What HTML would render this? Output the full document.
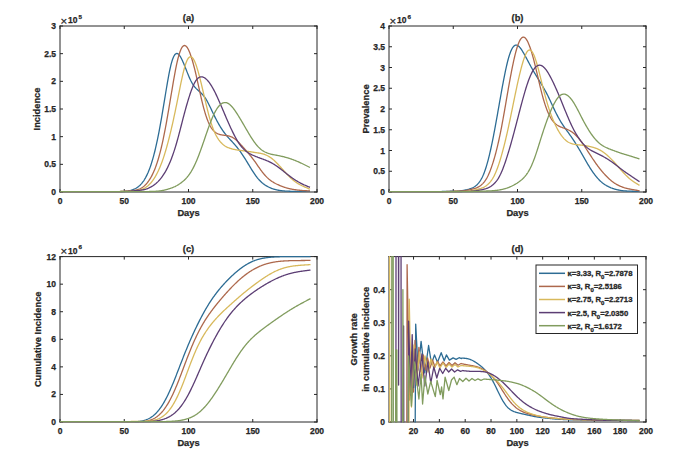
<!DOCTYPE html>
<html><head><meta charset="utf-8"><style>
html,body{margin:0;padding:0;background:#fff;}
svg{display:block;}
.tk{font-family:"Liberation Sans", sans-serif;font-weight:bold;font-size:8.5px;fill:#262626;stroke:#262626;stroke-width:0.25px;}
.lb{font-family:"Liberation Sans", sans-serif;font-weight:bold;font-size:9.3px;fill:#262626;stroke:#262626;stroke-width:0.25px;}
</style></head><body>
<svg width="674" height="470" viewBox="0 0 674 470">
<rect width="674" height="470" fill="#fff"/>
<rect x="60" y="26" width="257" height="166" fill="#fff"/>
<path d="M60,192 L317,192 M60,192 L60,26 M60,26 L317,26 M317,26 L317,192" stroke="#262626" stroke-width="1" fill="none" stroke-linecap="square"/>
<path d="M60.00,192 v-3 M60.00,26 v3 M124.25,192 v-3 M124.25,26 v3 M188.50,192 v-3 M188.50,26 v3 M252.75,192 v-3 M252.75,26 v3 M317.00,192 v-3 M317.00,26 v3 M60,192.00 h3 M317,192.00 h-3 M60,164.33 h3 M317,164.33 h-3 M60,136.67 h3 M317,136.67 h-3 M60,109.00 h3 M317,109.00 h-3 M60,81.33 h3 M317,81.33 h-3 M60,53.67 h3 M317,53.67 h-3 M60,26.00 h3 M317,26.00 h-3" stroke="#262626" stroke-width="1" fill="none"/>
<svg x="59.5" y="25.5" width="258" height="167" viewBox="59.5 25.5 258 167" overflow="hidden"><path d="M60.00,191.60 L60.50,191.60 L61.00,191.60 L61.50,191.60 L62.00,191.60 L62.50,191.60 L63.00,191.60 L63.50,191.60 L64.00,191.60 L64.50,191.60 L65.00,191.60 L65.50,191.60 L66.00,191.60 L66.50,191.60 L67.00,191.60 L67.50,191.60 L68.00,191.60 L68.50,191.60 L69.00,191.60 L69.50,191.60 L70.00,191.60 L70.50,191.60 L71.00,191.60 L71.50,191.60 L72.00,191.60 L72.50,191.60 L73.00,191.60 L73.50,191.60 L74.00,191.60 L74.50,191.60 L75.00,191.60 L75.50,191.60 L76.00,191.60 L76.50,191.60 L77.00,191.60 L77.50,191.60 L78.00,191.60 L78.50,191.60 L79.00,191.60 L79.50,191.60 L80.00,191.60 L80.50,191.60 L81.00,191.60 L81.50,191.60 L82.00,191.60 L82.50,191.60 L83.00,191.60 L83.50,191.60 L84.00,191.60 L84.50,191.60 L85.00,191.60 L85.50,191.60 L86.00,191.60 L86.50,191.60 L87.00,191.60 L87.50,191.60 L88.00,191.60 L88.50,191.60 L89.00,191.60 L89.50,191.60 L90.00,191.60 L90.50,191.60 L91.00,191.60 L91.50,191.60 L92.00,191.60 L92.50,191.60 L93.00,191.60 L93.50,191.60 L94.00,191.60 L94.50,191.60 L95.00,191.60 L95.50,191.60 L96.00,191.60 L96.50,191.60 L97.00,191.60 L97.50,191.60 L98.00,191.60 L98.50,191.60 L99.00,191.60 L99.50,191.60 L100.00,191.60 L100.50,191.60 L101.00,191.60 L101.50,191.60 L102.00,191.60 L102.50,191.60 L103.00,191.60 L103.50,191.60 L104.00,191.60 L104.50,191.60 L105.00,191.60 L105.50,191.60 L106.00,191.60 L106.50,191.60 L107.00,191.60 L107.50,191.60 L108.00,191.59 L108.50,191.59 L109.00,191.59 L109.50,191.59 L110.00,191.59 L110.50,191.59 L111.00,191.58 L111.50,191.58 L112.00,191.58 L112.50,191.58 L113.00,191.57 L113.50,191.57 L114.00,191.57 L114.50,191.57 L115.00,191.57 L115.50,191.56 L116.00,191.56 L116.50,191.56 L117.00,191.56 L117.50,191.55 L118.00,191.55 L118.50,191.55 L119.00,191.54 L119.50,191.54 L120.00,191.53 L120.50,191.52 L121.00,191.51 L121.50,191.50 L122.00,191.48 L122.50,191.46 L123.00,191.44 L123.50,191.42 L124.00,191.39 L124.50,191.35 L125.00,191.31 L125.50,191.27 L126.00,191.21 L126.50,191.15 L127.00,191.09 L127.50,191.02 L128.00,190.93 L128.50,190.84 L129.00,190.75 L129.50,190.64 L130.00,190.52 L130.50,190.40 L131.00,190.26 L131.50,190.12 L132.00,189.96 L132.50,189.79 L133.00,189.61 L133.50,189.42 L134.00,189.21 L134.50,188.99 L135.00,188.75 L135.50,188.50 L136.00,188.22 L136.50,187.92 L137.00,187.60 L137.50,187.26 L138.00,186.89 L138.50,186.50 L139.00,186.08 L139.50,185.64 L140.00,185.17 L140.50,184.67 L141.00,184.15 L141.50,183.60 L142.00,183.01 L142.50,182.39 L143.00,181.73 L143.50,181.03 L144.00,180.29 L144.50,179.51 L145.00,178.68 L145.50,177.81 L146.00,176.89 L146.50,175.92 L147.00,174.90 L147.50,173.82 L148.00,172.70 L148.50,171.51 L149.00,170.27 L149.50,168.98 L150.00,167.62 L150.50,166.20 L151.00,164.72 L151.50,163.17 L152.00,161.56 L152.50,159.89 L153.00,158.14 L153.50,156.33 L154.00,154.45 L154.50,152.49 L155.00,150.47 L155.50,148.38 L156.00,146.22 L156.50,143.98 L157.00,141.67 L157.50,139.30 L158.00,136.85 L158.50,134.34 L159.00,131.76 L159.50,129.13 L160.00,126.43 L160.50,123.68 L161.00,120.87 L161.50,118.02 L162.00,115.11 L162.50,112.17 L163.00,109.19 L163.50,106.18 L164.00,103.15 L164.50,100.10 L165.00,97.06 L165.50,94.01 L166.00,90.99 L166.50,87.99 L167.00,85.03 L167.50,82.12 L168.00,79.29 L168.50,76.55 L169.00,73.90 L169.50,71.38 L170.00,69.00 L170.50,66.78 L171.00,64.71 L171.50,62.81 L172.00,61.09 L172.50,59.55 L173.00,58.19 L173.50,57.00 L174.00,56.00 L174.50,55.17 L175.00,54.51 L175.50,54.02 L176.00,53.68 L176.50,53.51 L177.00,53.48 L177.50,53.60 L178.00,53.84 L178.50,54.22 L179.00,54.72 L179.50,55.32 L180.00,56.03 L180.50,56.84 L181.00,57.72 L181.50,58.68 L182.00,59.71 L182.50,60.79 L183.00,61.93 L183.50,63.10 L184.00,64.31 L184.50,65.54 L185.00,66.80 L185.50,68.06 L186.00,69.33 L186.50,70.60 L187.00,71.87 L187.50,73.12 L188.00,74.35 L188.50,75.56 L189.00,76.73 L189.50,77.87 L190.00,78.97 L190.50,80.02 L191.00,81.03 L191.50,81.98 L192.00,82.89 L192.50,83.75 L193.00,84.54 L193.50,85.28 L194.00,85.98 L194.50,86.63 L195.00,87.23 L195.50,87.80 L196.00,88.34 L196.50,88.86 L197.00,89.34 L197.50,89.81 L198.00,90.27 L198.50,90.71 L199.00,91.16 L199.50,91.60 L200.00,92.05 L200.50,92.51 L201.00,92.98 L201.50,93.47 L202.00,93.99 L202.50,94.53 L203.00,95.10 L203.50,95.70 L204.00,96.33 L204.50,96.99 L205.00,97.69 L205.50,98.43 L206.00,99.21 L206.50,100.02 L207.00,100.88 L207.50,101.78 L208.00,102.71 L208.50,103.68 L209.00,104.67 L209.50,105.69 L210.00,106.72 L210.50,107.76 L211.00,108.81 L211.50,109.86 L212.00,110.91 L212.50,111.96 L213.00,113.00 L213.50,114.04 L214.00,115.07 L214.50,116.09 L215.00,117.10 L215.50,118.09 L216.00,119.06 L216.50,120.02 L217.00,120.97 L217.50,121.89 L218.00,122.80 L218.50,123.69 L219.00,124.56 L219.50,125.41 L220.00,126.24 L220.50,127.06 L221.00,127.85 L221.50,128.63 L222.00,129.38 L222.50,130.13 L223.00,130.85 L223.50,131.56 L224.00,132.25 L224.50,132.92 L225.00,133.58 L225.50,134.22 L226.00,134.85 L226.50,135.47 L227.00,136.07 L227.50,136.66 L228.00,137.24 L228.50,137.81 L229.00,138.37 L229.50,138.91 L230.00,139.45 L230.50,139.98 L231.00,140.51 L231.50,141.04 L232.00,141.57 L232.50,142.11 L233.00,142.65 L233.50,143.20 L234.00,143.76 L234.50,144.32 L235.00,144.89 L235.50,145.47 L236.00,146.06 L236.50,146.67 L237.00,147.28 L237.50,147.90 L238.00,148.54 L238.50,149.18 L239.00,149.84 L239.50,150.52 L240.00,151.20 L240.50,151.90 L241.00,152.61 L241.50,153.33 L242.00,154.06 L242.50,154.80 L243.00,155.56 L243.50,156.32 L244.00,157.09 L244.50,157.87 L245.00,158.66 L245.50,159.46 L246.00,160.26 L246.50,161.07 L247.00,161.89 L247.50,162.71 L248.00,163.54 L248.50,164.37 L249.00,165.19 L249.50,166.02 L250.00,166.85 L250.50,167.67 L251.00,168.49 L251.50,169.30 L252.00,170.10 L252.50,170.89 L253.00,171.67 L253.50,172.44 L254.00,173.19 L254.50,173.93 L255.00,174.65 L255.50,175.36 L256.00,176.04 L256.50,176.70 L257.00,177.35 L257.50,177.97 L258.00,178.57 L258.50,179.14 L259.00,179.70 L259.50,180.24 L260.00,180.76 L260.50,181.26 L261.00,181.74 L261.50,182.20 L262.00,182.65 L262.50,183.07 L263.00,183.48 L263.50,183.87 L264.00,184.24 L264.50,184.60 L265.00,184.94 L265.50,185.27 L266.00,185.58 L266.50,185.89 L267.00,186.18 L267.50,186.46 L268.00,186.73 L268.50,186.99 L269.00,187.24 L269.50,187.48 L270.00,187.71 L270.50,187.93 L271.00,188.13 L271.50,188.33 L272.00,188.52 L272.50,188.70 L273.00,188.86 L273.50,189.02 L274.00,189.17 L274.50,189.32 L275.00,189.45 L275.50,189.58 L276.00,189.70 L276.50,189.82 L277.00,189.93 L277.50,190.04 L278.00,190.14 L278.50,190.24 L279.00,190.33 L279.50,190.42 L280.00,190.50 L280.50,190.57 L281.00,190.65 L281.50,190.71 L282.00,190.77 L282.50,190.83 L283.00,190.88 L283.50,190.93 L284.00,190.97 L284.50,191.01 L285.00,191.04 L285.50,191.08 L286.00,191.10 L286.50,191.13 L287.00,191.15 L287.50,191.18 L288.00,191.20 L288.50,191.22 L289.00,191.23 L289.50,191.25 L290.00,191.27 L290.50,191.28 L291.00,191.30 L291.50,191.31 L292.00,191.32 L292.50,191.33 L293.00,191.34 L293.50,191.35 L294.00,191.36 L294.50,191.37 L295.00,191.38 L295.50,191.38 L296.00,191.39 L296.50,191.39 L297.00,191.40 L297.50,191.40 L298.00,191.40 L298.50,191.40 L299.00,191.41 L299.50,191.41 L300.00,191.41 L300.50,191.41 L301.00,191.41 L301.50,191.41 L302.00,191.41 L302.50,191.41 L303.00,191.41 L303.50,191.41 L304.00,191.41 L304.50,191.41 L305.00,191.41 L305.50,191.40 L306.00,191.40 L306.50,191.40 L307.00,191.40 L307.50,191.40 L308.00,191.40 L308.50,191.40 L309.00,191.40 L309.50,191.40 L310.00,191.40" fill="none" stroke="#2d6c94" stroke-width="1.3" stroke-linejoin="round"/>
<path d="M60.00,191.60 L60.50,191.60 L61.00,191.60 L61.50,191.60 L62.00,191.60 L62.50,191.60 L63.00,191.60 L63.50,191.60 L64.00,191.60 L64.50,191.60 L65.00,191.60 L65.50,191.60 L66.00,191.60 L66.50,191.60 L67.00,191.60 L67.50,191.60 L68.00,191.60 L68.50,191.60 L69.00,191.60 L69.50,191.60 L70.00,191.60 L70.50,191.60 L71.00,191.60 L71.50,191.60 L72.00,191.60 L72.50,191.60 L73.00,191.60 L73.50,191.60 L74.00,191.60 L74.50,191.60 L75.00,191.60 L75.50,191.60 L76.00,191.60 L76.50,191.60 L77.00,191.60 L77.50,191.60 L78.00,191.60 L78.50,191.60 L79.00,191.60 L79.50,191.60 L80.00,191.60 L80.50,191.60 L81.00,191.60 L81.50,191.60 L82.00,191.60 L82.50,191.60 L83.00,191.60 L83.50,191.60 L84.00,191.60 L84.50,191.60 L85.00,191.60 L85.50,191.60 L86.00,191.60 L86.50,191.60 L87.00,191.60 L87.50,191.60 L88.00,191.60 L88.50,191.60 L89.00,191.60 L89.50,191.60 L90.00,191.60 L90.50,191.60 L91.00,191.60 L91.50,191.60 L92.00,191.60 L92.50,191.60 L93.00,191.60 L93.50,191.60 L94.00,191.60 L94.50,191.60 L95.00,191.60 L95.50,191.60 L96.00,191.60 L96.50,191.60 L97.00,191.60 L97.50,191.60 L98.00,191.60 L98.50,191.60 L99.00,191.60 L99.50,191.60 L100.00,191.60 L100.50,191.60 L101.00,191.60 L101.50,191.60 L102.00,191.60 L102.50,191.60 L103.00,191.60 L103.50,191.60 L104.00,191.60 L104.50,191.60 L105.00,191.60 L105.50,191.60 L106.00,191.60 L106.50,191.60 L107.00,191.60 L107.50,191.60 L108.00,191.60 L108.50,191.60 L109.00,191.60 L109.50,191.60 L110.00,191.60 L110.50,191.60 L111.00,191.60 L111.50,191.60 L112.00,191.60 L112.50,191.60 L113.00,191.60 L113.50,191.60 L114.00,191.60 L114.50,191.60 L115.00,191.60 L115.50,191.60 L116.00,191.60 L116.50,191.60 L117.00,191.60 L117.50,191.59 L118.00,191.59 L118.50,191.58 L119.00,191.57 L119.50,191.56 L120.00,191.55 L120.50,191.54 L121.00,191.52 L121.50,191.51 L122.00,191.49 L122.50,191.47 L123.00,191.44 L123.50,191.42 L124.00,191.39 L124.50,191.35 L125.00,191.32 L125.50,191.28 L126.00,191.24 L126.50,191.20 L127.00,191.16 L127.50,191.12 L128.00,191.07 L128.50,191.03 L129.00,190.98 L129.50,190.93 L130.00,190.89 L130.50,190.84 L131.00,190.78 L131.50,190.73 L132.00,190.68 L132.50,190.62 L133.00,190.56 L133.50,190.50 L134.00,190.43 L134.50,190.35 L135.00,190.27 L135.50,190.18 L136.00,190.08 L136.50,189.97 L137.00,189.85 L137.50,189.71 L138.00,189.56 L138.50,189.39 L139.00,189.21 L139.50,189.00 L140.00,188.77 L140.50,188.52 L141.00,188.24 L141.50,187.95 L142.00,187.63 L142.50,187.29 L143.00,186.93 L143.50,186.54 L144.00,186.13 L144.50,185.70 L145.00,185.24 L145.50,184.76 L146.00,184.25 L146.50,183.70 L147.00,183.13 L147.50,182.52 L148.00,181.87 L148.50,181.19 L149.00,180.48 L149.50,179.72 L150.00,178.93 L150.50,178.10 L151.00,177.23 L151.50,176.32 L152.00,175.37 L152.50,174.38 L153.00,173.34 L153.50,172.25 L154.00,171.11 L154.50,169.92 L155.00,168.67 L155.50,167.37 L156.00,166.00 L156.50,164.58 L157.00,163.10 L157.50,161.55 L158.00,159.94 L158.50,158.26 L159.00,156.52 L159.50,154.70 L160.00,152.82 L160.50,150.86 L161.00,148.84 L161.50,146.75 L162.00,144.58 L162.50,142.35 L163.00,140.05 L163.50,137.68 L164.00,135.24 L164.50,132.73 L165.00,130.15 L165.50,127.50 L166.00,124.79 L166.50,122.01 L167.00,119.19 L167.50,116.33 L168.00,113.43 L168.50,110.52 L169.00,107.58 L169.50,104.63 L170.00,101.66 L170.50,98.69 L171.00,95.71 L171.50,92.74 L172.00,89.77 L172.50,86.82 L173.00,83.88 L173.50,80.98 L174.00,78.12 L174.50,75.32 L175.00,72.59 L175.50,69.95 L176.00,67.41 L176.50,64.99 L177.00,62.69 L177.50,60.51 L178.00,58.46 L178.50,56.56 L179.00,54.80 L179.50,53.19 L180.00,51.73 L180.50,50.42 L181.00,49.26 L181.50,48.26 L182.00,47.42 L182.50,46.73 L183.00,46.19 L183.50,45.81 L184.00,45.58 L184.50,45.50 L185.00,45.57 L185.50,45.78 L186.00,46.13 L186.50,46.61 L187.00,47.23 L187.50,47.97 L188.00,48.82 L188.50,49.80 L189.00,50.88 L189.50,52.06 L190.00,53.33 L190.50,54.70 L191.00,56.15 L191.50,57.68 L192.00,59.29 L192.50,60.98 L193.00,62.74 L193.50,64.57 L194.00,66.47 L194.50,68.43 L195.00,70.45 L195.50,72.52 L196.00,74.65 L196.50,76.82 L197.00,79.03 L197.50,81.27 L198.00,83.54 L198.50,85.82 L199.00,88.11 L199.50,90.39 L200.00,92.65 L200.50,94.88 L201.00,97.08 L201.50,99.23 L202.00,101.33 L202.50,103.37 L203.00,105.36 L203.50,107.29 L204.00,109.14 L204.50,110.93 L205.00,112.64 L205.50,114.28 L206.00,115.85 L206.50,117.33 L207.00,118.75 L207.50,120.08 L208.00,121.34 L208.50,122.52 L209.00,123.63 L209.50,124.66 L210.00,125.62 L210.50,126.52 L211.00,127.35 L211.50,128.11 L212.00,128.82 L212.50,129.47 L213.00,130.08 L213.50,130.63 L214.00,131.13 L214.50,131.59 L215.00,132.01 L215.50,132.39 L216.00,132.73 L216.50,133.05 L217.00,133.33 L217.50,133.58 L218.00,133.81 L218.50,134.02 L219.00,134.20 L219.50,134.36 L220.00,134.51 L220.50,134.63 L221.00,134.75 L221.50,134.85 L222.00,134.94 L222.50,135.02 L223.00,135.10 L223.50,135.17 L224.00,135.24 L224.50,135.30 L225.00,135.37 L225.50,135.44 L226.00,135.51 L226.50,135.58 L227.00,135.67 L227.50,135.76 L228.00,135.86 L228.50,135.97 L229.00,136.09 L229.50,136.23 L230.00,136.38 L230.50,136.56 L231.00,136.75 L231.50,136.96 L232.00,137.19 L232.50,137.44 L233.00,137.72 L233.50,138.02 L234.00,138.35 L234.50,138.69 L235.00,139.06 L235.50,139.45 L236.00,139.87 L236.50,140.30 L237.00,140.76 L237.50,141.23 L238.00,141.72 L238.50,142.22 L239.00,142.74 L239.50,143.26 L240.00,143.79 L240.50,144.33 L241.00,144.88 L241.50,145.43 L242.00,145.98 L242.50,146.54 L243.00,147.10 L243.50,147.66 L244.00,148.23 L244.50,148.79 L245.00,149.36 L245.50,149.93 L246.00,150.51 L246.50,151.08 L247.00,151.66 L247.50,152.24 L248.00,152.83 L248.50,153.42 L249.00,154.01 L249.50,154.62 L250.00,155.22 L250.50,155.84 L251.00,156.46 L251.50,157.09 L252.00,157.73 L252.50,158.37 L253.00,159.03 L253.50,159.69 L254.00,160.37 L254.50,161.05 L255.00,161.74 L255.50,162.44 L256.00,163.15 L256.50,163.87 L257.00,164.59 L257.50,165.31 L258.00,166.03 L258.50,166.76 L259.00,167.48 L259.50,168.19 L260.00,168.90 L260.50,169.60 L261.00,170.29 L261.50,170.97 L262.00,171.63 L262.50,172.28 L263.00,172.91 L263.50,173.52 L264.00,174.12 L264.50,174.71 L265.00,175.28 L265.50,175.83 L266.00,176.36 L266.50,176.88 L267.00,177.38 L267.50,177.87 L268.00,178.33 L268.50,178.78 L269.00,179.21 L269.50,179.62 L270.00,180.02 L270.50,180.39 L271.00,180.76 L271.50,181.10 L272.00,181.44 L272.50,181.76 L273.00,182.07 L273.50,182.37 L274.00,182.66 L274.50,182.95 L275.00,183.22 L275.50,183.49 L276.00,183.74 L276.50,184.00 L277.00,184.24 L277.50,184.48 L278.00,184.71 L278.50,184.94 L279.00,185.16 L279.50,185.37 L280.00,185.58 L280.50,185.79 L281.00,185.99 L281.50,186.18 L282.00,186.37 L282.50,186.56 L283.00,186.74 L283.50,186.92 L284.00,187.10 L284.50,187.27 L285.00,187.43 L285.50,187.60 L286.00,187.75 L286.50,187.90 L287.00,188.05 L287.50,188.19 L288.00,188.32 L288.50,188.45 L289.00,188.58 L289.50,188.69 L290.00,188.80 L290.50,188.91 L291.00,189.01 L291.50,189.11 L292.00,189.20 L292.50,189.29 L293.00,189.37 L293.50,189.45 L294.00,189.53 L294.50,189.61 L295.00,189.69 L295.50,189.76 L296.00,189.83 L296.50,189.90 L297.00,189.96 L297.50,190.03 L298.00,190.09 L298.50,190.15 L299.00,190.20 L299.50,190.26 L300.00,190.31 L300.50,190.36 L301.00,190.41 L301.50,190.45 L302.00,190.49 L302.50,190.53 L303.00,190.57 L303.50,190.60 L304.00,190.63 L304.50,190.66 L305.00,190.69 L305.50,190.72 L306.00,190.74 L306.50,190.77 L307.00,190.79 L307.50,190.82 L308.00,190.84 L308.50,190.86 L309.00,190.89 L309.50,190.91 L310.00,190.93" fill="none" stroke="#ad684c" stroke-width="1.3" stroke-linejoin="round"/>
<path d="M60.00,191.60 L60.50,191.60 L61.00,191.60 L61.50,191.60 L62.00,191.60 L62.50,191.60 L63.00,191.60 L63.50,191.60 L64.00,191.60 L64.50,191.60 L65.00,191.60 L65.50,191.60 L66.00,191.60 L66.50,191.60 L67.00,191.60 L67.50,191.60 L68.00,191.60 L68.50,191.60 L69.00,191.60 L69.50,191.60 L70.00,191.60 L70.50,191.60 L71.00,191.60 L71.50,191.60 L72.00,191.60 L72.50,191.60 L73.00,191.60 L73.50,191.60 L74.00,191.60 L74.50,191.60 L75.00,191.60 L75.50,191.60 L76.00,191.60 L76.50,191.60 L77.00,191.60 L77.50,191.60 L78.00,191.60 L78.50,191.60 L79.00,191.60 L79.50,191.60 L80.00,191.60 L80.50,191.60 L81.00,191.60 L81.50,191.60 L82.00,191.60 L82.50,191.60 L83.00,191.60 L83.50,191.60 L84.00,191.60 L84.50,191.60 L85.00,191.60 L85.50,191.60 L86.00,191.60 L86.50,191.60 L87.00,191.60 L87.50,191.60 L88.00,191.60 L88.50,191.60 L89.00,191.60 L89.50,191.60 L90.00,191.60 L90.50,191.60 L91.00,191.60 L91.50,191.60 L92.00,191.60 L92.50,191.60 L93.00,191.60 L93.50,191.60 L94.00,191.60 L94.50,191.60 L95.00,191.60 L95.50,191.60 L96.00,191.60 L96.50,191.60 L97.00,191.60 L97.50,191.60 L98.00,191.60 L98.50,191.60 L99.00,191.60 L99.50,191.60 L100.00,191.60 L100.50,191.60 L101.00,191.60 L101.50,191.60 L102.00,191.60 L102.50,191.60 L103.00,191.60 L103.50,191.60 L104.00,191.60 L104.50,191.60 L105.00,191.60 L105.50,191.60 L106.00,191.60 L106.50,191.60 L107.00,191.60 L107.50,191.60 L108.00,191.60 L108.50,191.60 L109.00,191.60 L109.50,191.60 L110.00,191.60 L110.50,191.60 L111.00,191.60 L111.50,191.60 L112.00,191.60 L112.50,191.60 L113.00,191.60 L113.50,191.60 L114.00,191.60 L114.50,191.60 L115.00,191.60 L115.50,191.60 L116.00,191.60 L116.50,191.60 L117.00,191.59 L117.50,191.58 L118.00,191.57 L118.50,191.56 L119.00,191.55 L119.50,191.54 L120.00,191.52 L120.50,191.50 L121.00,191.48 L121.50,191.46 L122.00,191.44 L122.50,191.42 L123.00,191.39 L123.50,191.37 L124.00,191.34 L124.50,191.32 L125.00,191.29 L125.50,191.26 L126.00,191.23 L126.50,191.21 L127.00,191.18 L127.50,191.15 L128.00,191.13 L128.50,191.10 L129.00,191.08 L129.50,191.05 L130.00,191.03 L130.50,191.01 L131.00,190.98 L131.50,190.96 L132.00,190.94 L132.50,190.91 L133.00,190.89 L133.50,190.86 L134.00,190.83 L134.50,190.80 L135.00,190.76 L135.50,190.72 L136.00,190.68 L136.50,190.62 L137.00,190.57 L137.50,190.50 L138.00,190.42 L138.50,190.34 L139.00,190.24 L139.50,190.13 L140.00,190.00 L140.50,189.86 L141.00,189.71 L141.50,189.53 L142.00,189.34 L142.50,189.13 L143.00,188.91 L143.50,188.67 L144.00,188.41 L144.50,188.14 L145.00,187.85 L145.50,187.54 L146.00,187.21 L146.50,186.87 L147.00,186.50 L147.50,186.12 L148.00,185.71 L148.50,185.28 L149.00,184.82 L149.50,184.34 L150.00,183.83 L150.50,183.29 L151.00,182.72 L151.50,182.11 L152.00,181.48 L152.50,180.82 L153.00,180.12 L153.50,179.40 L154.00,178.65 L154.50,177.86 L155.00,177.05 L155.50,176.21 L156.00,175.34 L156.50,174.43 L157.00,173.49 L157.50,172.51 L158.00,171.49 L158.50,170.44 L159.00,169.35 L159.50,168.21 L160.00,167.04 L160.50,165.82 L161.00,164.56 L161.50,163.26 L162.00,161.92 L162.50,160.53 L163.00,159.10 L163.50,157.62 L164.00,156.09 L164.50,154.52 L165.00,152.91 L165.50,151.25 L166.00,149.55 L166.50,147.81 L167.00,146.02 L167.50,144.20 L168.00,142.33 L168.50,140.42 L169.00,138.47 L169.50,136.49 L170.00,134.46 L170.50,132.40 L171.00,130.30 L171.50,128.17 L172.00,126.00 L172.50,123.79 L173.00,121.55 L173.50,119.28 L174.00,116.98 L174.50,114.64 L175.00,112.28 L175.50,109.89 L176.00,107.48 L176.50,105.04 L177.00,102.58 L177.50,100.10 L178.00,97.61 L178.50,95.11 L179.00,92.61 L179.50,90.11 L180.00,87.63 L180.50,85.17 L181.00,82.74 L181.50,80.36 L182.00,78.04 L182.50,75.79 L183.00,73.63 L183.50,71.56 L184.00,69.59 L184.50,67.75 L185.00,66.03 L185.50,64.44 L186.00,63.00 L186.50,61.70 L187.00,60.55 L187.50,59.55 L188.00,58.70 L188.50,58.00 L189.00,57.46 L189.50,57.07 L190.00,56.83 L190.50,56.74 L191.00,56.79 L191.50,57.00 L192.00,57.35 L192.50,57.83 L193.00,58.46 L193.50,59.21 L194.00,60.10 L194.50,61.11 L195.00,62.24 L195.50,63.48 L196.00,64.83 L196.50,66.29 L197.00,67.83 L197.50,69.46 L198.00,71.16 L198.50,72.93 L199.00,74.77 L199.50,76.65 L200.00,78.59 L200.50,80.58 L201.00,82.60 L201.50,84.66 L202.00,86.74 L202.50,88.85 L203.00,90.98 L203.50,93.13 L204.00,95.28 L204.50,97.44 L205.00,99.59 L205.50,101.72 L206.00,103.83 L206.50,105.92 L207.00,107.97 L207.50,109.99 L208.00,111.95 L208.50,113.87 L209.00,115.74 L209.50,117.55 L210.00,119.30 L210.50,120.99 L211.00,122.61 L211.50,124.16 L212.00,125.65 L212.50,127.06 L213.00,128.41 L213.50,129.69 L214.00,130.90 L214.50,132.06 L215.00,133.16 L215.50,134.20 L216.00,135.18 L216.50,136.12 L217.00,137.00 L217.50,137.84 L218.00,138.63 L218.50,139.38 L219.00,140.09 L219.50,140.75 L220.00,141.38 L220.50,141.97 L221.00,142.53 L221.50,143.05 L222.00,143.55 L222.50,144.02 L223.00,144.46 L223.50,144.87 L224.00,145.26 L224.50,145.62 L225.00,145.96 L225.50,146.28 L226.00,146.57 L226.50,146.85 L227.00,147.10 L227.50,147.33 L228.00,147.55 L228.50,147.76 L229.00,147.95 L229.50,148.13 L230.00,148.30 L230.50,148.46 L231.00,148.61 L231.50,148.75 L232.00,148.88 L232.50,149.01 L233.00,149.14 L233.50,149.26 L234.00,149.37 L234.50,149.48 L235.00,149.58 L235.50,149.68 L236.00,149.77 L236.50,149.86 L237.00,149.95 L237.50,150.03 L238.00,150.10 L238.50,150.18 L239.00,150.25 L239.50,150.32 L240.00,150.38 L240.50,150.45 L241.00,150.51 L241.50,150.57 L242.00,150.64 L242.50,150.70 L243.00,150.76 L243.50,150.82 L244.00,150.88 L244.50,150.94 L245.00,151.00 L245.50,151.06 L246.00,151.13 L246.50,151.19 L247.00,151.26 L247.50,151.32 L248.00,151.39 L248.50,151.46 L249.00,151.53 L249.50,151.61 L250.00,151.68 L250.50,151.76 L251.00,151.84 L251.50,151.92 L252.00,152.00 L252.50,152.09 L253.00,152.17 L253.50,152.25 L254.00,152.33 L254.50,152.41 L255.00,152.49 L255.50,152.57 L256.00,152.64 L256.50,152.72 L257.00,152.79 L257.50,152.86 L258.00,152.93 L258.50,153.01 L259.00,153.09 L259.50,153.17 L260.00,153.25 L260.50,153.34 L261.00,153.44 L261.50,153.55 L262.00,153.66 L262.50,153.79 L263.00,153.93 L263.50,154.08 L264.00,154.24 L264.50,154.41 L265.00,154.60 L265.50,154.80 L266.00,155.02 L266.50,155.24 L267.00,155.48 L267.50,155.73 L268.00,156.00 L268.50,156.28 L269.00,156.57 L269.50,156.87 L270.00,157.19 L270.50,157.53 L271.00,157.88 L271.50,158.25 L272.00,158.63 L272.50,159.03 L273.00,159.45 L273.50,159.88 L274.00,160.32 L274.50,160.78 L275.00,161.25 L275.50,161.73 L276.00,162.22 L276.50,162.72 L277.00,163.22 L277.50,163.74 L278.00,164.27 L278.50,164.80 L279.00,165.34 L279.50,165.88 L280.00,166.43 L280.50,166.99 L281.00,167.55 L281.50,168.11 L282.00,168.67 L282.50,169.24 L283.00,169.80 L283.50,170.36 L284.00,170.93 L284.50,171.49 L285.00,172.04 L285.50,172.60 L286.00,173.15 L286.50,173.69 L287.00,174.22 L287.50,174.75 L288.00,175.27 L288.50,175.78 L289.00,176.29 L289.50,176.78 L290.00,177.26 L290.50,177.74 L291.00,178.20 L291.50,178.66 L292.00,179.11 L292.50,179.54 L293.00,179.97 L293.50,180.38 L294.00,180.79 L294.50,181.19 L295.00,181.57 L295.50,181.94 L296.00,182.30 L296.50,182.65 L297.00,182.99 L297.50,183.31 L298.00,183.62 L298.50,183.92 L299.00,184.20 L299.50,184.48 L300.00,184.75 L300.50,185.01 L301.00,185.26 L301.50,185.50 L302.00,185.74 L302.50,185.98 L303.00,186.20 L303.50,186.43 L304.00,186.65 L304.50,186.87 L305.00,187.09 L305.50,187.31 L306.00,187.52 L306.50,187.73 L307.00,187.95 L307.50,188.16 L308.00,188.37 L308.50,188.59 L309.00,188.80 L309.50,189.01 L310.00,189.22" fill="none" stroke="#d8b95c" stroke-width="1.3" stroke-linejoin="round"/>
<path d="M60.00,191.60 L60.50,191.60 L61.00,191.60 L61.50,191.60 L62.00,191.60 L62.50,191.60 L63.00,191.60 L63.50,191.60 L64.00,191.60 L64.50,191.60 L65.00,191.60 L65.50,191.60 L66.00,191.60 L66.50,191.60 L67.00,191.60 L67.50,191.60 L68.00,191.60 L68.50,191.60 L69.00,191.60 L69.50,191.60 L70.00,191.60 L70.50,191.60 L71.00,191.60 L71.50,191.60 L72.00,191.60 L72.50,191.60 L73.00,191.60 L73.50,191.60 L74.00,191.60 L74.50,191.60 L75.00,191.60 L75.50,191.60 L76.00,191.60 L76.50,191.60 L77.00,191.60 L77.50,191.60 L78.00,191.60 L78.50,191.60 L79.00,191.60 L79.50,191.60 L80.00,191.60 L80.50,191.60 L81.00,191.60 L81.50,191.60 L82.00,191.60 L82.50,191.60 L83.00,191.60 L83.50,191.60 L84.00,191.60 L84.50,191.60 L85.00,191.60 L85.50,191.60 L86.00,191.60 L86.50,191.60 L87.00,191.60 L87.50,191.60 L88.00,191.60 L88.50,191.60 L89.00,191.60 L89.50,191.60 L90.00,191.60 L90.50,191.60 L91.00,191.60 L91.50,191.60 L92.00,191.60 L92.50,191.60 L93.00,191.60 L93.50,191.60 L94.00,191.60 L94.50,191.60 L95.00,191.60 L95.50,191.60 L96.00,191.60 L96.50,191.60 L97.00,191.60 L97.50,191.60 L98.00,191.60 L98.50,191.60 L99.00,191.60 L99.50,191.60 L100.00,191.60 L100.50,191.60 L101.00,191.60 L101.50,191.60 L102.00,191.60 L102.50,191.60 L103.00,191.60 L103.50,191.60 L104.00,191.60 L104.50,191.60 L105.00,191.60 L105.50,191.60 L106.00,191.60 L106.50,191.60 L107.00,191.60 L107.50,191.60 L108.00,191.60 L108.50,191.60 L109.00,191.60 L109.50,191.60 L110.00,191.60 L110.50,191.60 L111.00,191.60 L111.50,191.60 L112.00,191.60 L112.50,191.60 L113.00,191.60 L113.50,191.60 L114.00,191.60 L114.50,191.60 L115.00,191.60 L115.50,191.60 L116.00,191.60 L116.50,191.60 L117.00,191.60 L117.50,191.60 L118.00,191.60 L118.50,191.60 L119.00,191.60 L119.50,191.60 L120.00,191.60 L120.50,191.60 L121.00,191.60 L121.50,191.60 L122.00,191.59 L122.50,191.58 L123.00,191.57 L123.50,191.55 L124.00,191.53 L124.50,191.51 L125.00,191.49 L125.50,191.46 L126.00,191.43 L126.50,191.40 L127.00,191.37 L127.50,191.33 L128.00,191.30 L128.50,191.26 L129.00,191.22 L129.50,191.17 L130.00,191.13 L130.50,191.09 L131.00,191.05 L131.50,191.00 L132.00,190.96 L132.50,190.91 L133.00,190.87 L133.50,190.83 L134.00,190.78 L134.50,190.74 L135.00,190.70 L135.50,190.65 L136.00,190.61 L136.50,190.57 L137.00,190.53 L137.50,190.49 L138.00,190.44 L138.50,190.40 L139.00,190.35 L139.50,190.30 L140.00,190.25 L140.50,190.20 L141.00,190.14 L141.50,190.08 L142.00,190.01 L142.50,189.94 L143.00,189.85 L143.50,189.76 L144.00,189.66 L144.50,189.55 L145.00,189.42 L145.50,189.29 L146.00,189.14 L146.50,188.98 L147.00,188.80 L147.50,188.60 L148.00,188.40 L148.50,188.18 L149.00,187.95 L149.50,187.70 L150.00,187.45 L150.50,187.18 L151.00,186.91 L151.50,186.62 L152.00,186.32 L152.50,186.01 L153.00,185.68 L153.50,185.35 L154.00,185.00 L154.50,184.64 L155.00,184.26 L155.50,183.87 L156.00,183.46 L156.50,183.03 L157.00,182.58 L157.50,182.11 L158.00,181.62 L158.50,181.10 L159.00,180.57 L159.50,180.01 L160.00,179.43 L160.50,178.82 L161.00,178.20 L161.50,177.55 L162.00,176.88 L162.50,176.19 L163.00,175.47 L163.50,174.73 L164.00,173.96 L164.50,173.16 L165.00,172.33 L165.50,171.46 L166.00,170.57 L166.50,169.64 L167.00,168.67 L167.50,167.68 L168.00,166.64 L168.50,165.58 L169.00,164.48 L169.50,163.34 L170.00,162.17 L170.50,160.96 L171.00,159.71 L171.50,158.42 L172.00,157.10 L172.50,155.73 L173.00,154.31 L173.50,152.86 L174.00,151.37 L174.50,149.83 L175.00,148.25 L175.50,146.63 L176.00,144.97 L176.50,143.26 L177.00,141.52 L177.50,139.73 L178.00,137.91 L178.50,136.06 L179.00,134.18 L179.50,132.28 L180.00,130.35 L180.50,128.42 L181.00,126.47 L181.50,124.52 L182.00,122.57 L182.50,120.62 L183.00,118.69 L183.50,116.78 L184.00,114.88 L184.50,113.01 L185.00,111.16 L185.50,109.34 L186.00,107.54 L186.50,105.77 L187.00,104.04 L187.50,102.33 L188.00,100.65 L188.50,99.01 L189.00,97.41 L189.50,95.84 L190.00,94.31 L190.50,92.82 L191.00,91.38 L191.50,89.99 L192.00,88.66 L192.50,87.38 L193.00,86.18 L193.50,85.04 L194.00,83.98 L194.50,82.99 L195.00,82.08 L195.50,81.24 L196.00,80.48 L196.50,79.80 L197.00,79.19 L197.50,78.66 L198.00,78.19 L198.50,77.80 L199.00,77.48 L199.50,77.22 L200.00,77.03 L200.50,76.90 L201.00,76.82 L201.50,76.81 L202.00,76.85 L202.50,76.94 L203.00,77.08 L203.50,77.27 L204.00,77.51 L204.50,77.80 L205.00,78.13 L205.50,78.50 L206.00,78.92 L206.50,79.38 L207.00,79.87 L207.50,80.40 L208.00,80.97 L208.50,81.58 L209.00,82.22 L209.50,82.89 L210.00,83.59 L210.50,84.33 L211.00,85.10 L211.50,85.89 L212.00,86.72 L212.50,87.58 L213.00,88.47 L213.50,89.39 L214.00,90.33 L214.50,91.30 L215.00,92.30 L215.50,93.31 L216.00,94.35 L216.50,95.40 L217.00,96.48 L217.50,97.57 L218.00,98.67 L218.50,99.78 L219.00,100.91 L219.50,102.04 L220.00,103.19 L220.50,104.34 L221.00,105.50 L221.50,106.66 L222.00,107.83 L222.50,109.00 L223.00,110.18 L223.50,111.35 L224.00,112.53 L224.50,113.71 L225.00,114.88 L225.50,116.06 L226.00,117.22 L226.50,118.39 L227.00,119.55 L227.50,120.70 L228.00,121.84 L228.50,122.97 L229.00,124.09 L229.50,125.21 L230.00,126.31 L230.50,127.40 L231.00,128.48 L231.50,129.54 L232.00,130.59 L232.50,131.62 L233.00,132.64 L233.50,133.64 L234.00,134.62 L234.50,135.59 L235.00,136.53 L235.50,137.46 L236.00,138.37 L236.50,139.26 L237.00,140.12 L237.50,140.96 L238.00,141.78 L238.50,142.57 L239.00,143.34 L239.50,144.07 L240.00,144.78 L240.50,145.46 L241.00,146.11 L241.50,146.73 L242.00,147.31 L242.50,147.88 L243.00,148.41 L243.50,148.92 L244.00,149.40 L244.50,149.87 L245.00,150.31 L245.50,150.73 L246.00,151.14 L246.50,151.52 L247.00,151.89 L247.50,152.24 L248.00,152.58 L248.50,152.90 L249.00,153.20 L249.50,153.50 L250.00,153.78 L250.50,154.05 L251.00,154.31 L251.50,154.56 L252.00,154.81 L252.50,155.04 L253.00,155.27 L253.50,155.50 L254.00,155.72 L254.50,155.93 L255.00,156.15 L255.50,156.35 L256.00,156.56 L256.50,156.76 L257.00,156.96 L257.50,157.15 L258.00,157.35 L258.50,157.53 L259.00,157.72 L259.50,157.91 L260.00,158.09 L260.50,158.28 L261.00,158.46 L261.50,158.64 L262.00,158.83 L262.50,159.01 L263.00,159.19 L263.50,159.38 L264.00,159.57 L264.50,159.76 L265.00,159.96 L265.50,160.16 L266.00,160.36 L266.50,160.56 L267.00,160.78 L267.50,160.99 L268.00,161.21 L268.50,161.44 L269.00,161.67 L269.50,161.91 L270.00,162.16 L270.50,162.40 L271.00,162.66 L271.50,162.92 L272.00,163.19 L272.50,163.46 L273.00,163.75 L273.50,164.03 L274.00,164.33 L274.50,164.64 L275.00,164.95 L275.50,165.27 L276.00,165.60 L276.50,165.94 L277.00,166.29 L277.50,166.64 L278.00,167.00 L278.50,167.37 L279.00,167.74 L279.50,168.12 L280.00,168.50 L280.50,168.88 L281.00,169.27 L281.50,169.66 L282.00,170.06 L282.50,170.45 L283.00,170.85 L283.50,171.25 L284.00,171.65 L284.50,172.05 L285.00,172.45 L285.50,172.85 L286.00,173.25 L286.50,173.64 L287.00,174.04 L287.50,174.43 L288.00,174.83 L288.50,175.22 L289.00,175.60 L289.50,175.99 L290.00,176.37 L290.50,176.74 L291.00,177.11 L291.50,177.48 L292.00,177.84 L292.50,178.20 L293.00,178.55 L293.50,178.89 L294.00,179.23 L294.50,179.56 L295.00,179.88 L295.50,180.20 L296.00,180.51 L296.50,180.81 L297.00,181.11 L297.50,181.41 L298.00,181.70 L298.50,181.98 L299.00,182.26 L299.50,182.54 L300.00,182.81 L300.50,183.07 L301.00,183.33 L301.50,183.58 L302.00,183.83 L302.50,184.08 L303.00,184.32 L303.50,184.55 L304.00,184.79 L304.50,185.01 L305.00,185.24 L305.50,185.46 L306.00,185.68 L306.50,185.89 L307.00,186.11 L307.50,186.32 L308.00,186.53 L308.50,186.75 L309.00,186.96 L309.50,187.17 L310.00,187.38" fill="none" stroke="#5c3e74" stroke-width="1.3" stroke-linejoin="round"/>
<path d="M60.00,191.60 L60.50,191.60 L61.00,191.60 L61.50,191.60 L62.00,191.60 L62.50,191.60 L63.00,191.60 L63.50,191.60 L64.00,191.60 L64.50,191.60 L65.00,191.60 L65.50,191.60 L66.00,191.60 L66.50,191.60 L67.00,191.60 L67.50,191.60 L68.00,191.60 L68.50,191.60 L69.00,191.60 L69.50,191.60 L70.00,191.60 L70.50,191.60 L71.00,191.60 L71.50,191.60 L72.00,191.60 L72.50,191.60 L73.00,191.60 L73.50,191.60 L74.00,191.60 L74.50,191.60 L75.00,191.60 L75.50,191.60 L76.00,191.60 L76.50,191.60 L77.00,191.60 L77.50,191.60 L78.00,191.60 L78.50,191.60 L79.00,191.60 L79.50,191.60 L80.00,191.60 L80.50,191.60 L81.00,191.60 L81.50,191.60 L82.00,191.60 L82.50,191.60 L83.00,191.60 L83.50,191.60 L84.00,191.60 L84.50,191.60 L85.00,191.60 L85.50,191.60 L86.00,191.60 L86.50,191.60 L87.00,191.60 L87.50,191.60 L88.00,191.60 L88.50,191.60 L89.00,191.60 L89.50,191.60 L90.00,191.60 L90.50,191.60 L91.00,191.60 L91.50,191.60 L92.00,191.60 L92.50,191.60 L93.00,191.60 L93.50,191.60 L94.00,191.60 L94.50,191.60 L95.00,191.60 L95.50,191.60 L96.00,191.60 L96.50,191.60 L97.00,191.60 L97.50,191.60 L98.00,191.60 L98.50,191.60 L99.00,191.60 L99.50,191.60 L100.00,191.60 L100.50,191.60 L101.00,191.60 L101.50,191.60 L102.00,191.60 L102.50,191.60 L103.00,191.60 L103.50,191.60 L104.00,191.60 L104.50,191.60 L105.00,191.60 L105.50,191.60 L106.00,191.60 L106.50,191.60 L107.00,191.60 L107.50,191.60 L108.00,191.60 L108.50,191.60 L109.00,191.60 L109.50,191.60 L110.00,191.60 L110.50,191.60 L111.00,191.60 L111.50,191.60 L112.00,191.60 L112.50,191.60 L113.00,191.60 L113.50,191.60 L114.00,191.60 L114.50,191.60 L115.00,191.60 L115.50,191.60 L116.00,191.60 L116.50,191.60 L117.00,191.60 L117.50,191.60 L118.00,191.60 L118.50,191.60 L119.00,191.60 L119.50,191.60 L120.00,191.60 L120.50,191.60 L121.00,191.60 L121.50,191.60 L122.00,191.60 L122.50,191.60 L123.00,191.60 L123.50,191.60 L124.00,191.60 L124.50,191.60 L125.00,191.60 L125.50,191.60 L126.00,191.60 L126.50,191.60 L127.00,191.60 L127.50,191.60 L128.00,191.60 L128.50,191.60 L129.00,191.60 L129.50,191.60 L130.00,191.60 L130.50,191.60 L131.00,191.60 L131.50,191.60 L132.00,191.60 L132.50,191.60 L133.00,191.60 L133.50,191.60 L134.00,191.60 L134.50,191.60 L135.00,191.60 L135.50,191.60 L136.00,191.60 L136.50,191.60 L137.00,191.60 L137.50,191.60 L138.00,191.60 L138.50,191.60 L139.00,191.60 L139.50,191.60 L140.00,191.60 L140.50,191.60 L141.00,191.60 L141.50,191.60 L142.00,191.60 L142.50,191.60 L143.00,191.60 L143.50,191.60 L144.00,191.60 L144.50,191.60 L145.00,191.60 L145.50,191.59 L146.00,191.59 L146.50,191.58 L147.00,191.57 L147.50,191.57 L148.00,191.56 L148.50,191.55 L149.00,191.53 L149.50,191.52 L150.00,191.51 L150.50,191.49 L151.00,191.48 L151.50,191.46 L152.00,191.44 L152.50,191.42 L153.00,191.40 L153.50,191.38 L154.00,191.36 L154.50,191.33 L155.00,191.31 L155.50,191.28 L156.00,191.25 L156.50,191.21 L157.00,191.18 L157.50,191.14 L158.00,191.10 L158.50,191.05 L159.00,191.00 L159.50,190.94 L160.00,190.88 L160.50,190.81 L161.00,190.74 L161.50,190.66 L162.00,190.57 L162.50,190.48 L163.00,190.38 L163.50,190.27 L164.00,190.16 L164.50,190.05 L165.00,189.92 L165.50,189.80 L166.00,189.67 L166.50,189.54 L167.00,189.40 L167.50,189.26 L168.00,189.12 L168.50,188.97 L169.00,188.82 L169.50,188.66 L170.00,188.50 L170.50,188.34 L171.00,188.17 L171.50,187.99 L172.00,187.81 L172.50,187.62 L173.00,187.43 L173.50,187.22 L174.00,187.01 L174.50,186.78 L175.00,186.55 L175.50,186.30 L176.00,186.04 L176.50,185.77 L177.00,185.49 L177.50,185.19 L178.00,184.89 L178.50,184.58 L179.00,184.25 L179.50,183.92 L180.00,183.58 L180.50,183.22 L181.00,182.86 L181.50,182.48 L182.00,182.09 L182.50,181.69 L183.00,181.28 L183.50,180.85 L184.00,180.41 L184.50,179.95 L185.00,179.47 L185.50,178.97 L186.00,178.45 L186.50,177.90 L187.00,177.33 L187.50,176.73 L188.00,176.11 L188.50,175.46 L189.00,174.78 L189.50,174.07 L190.00,173.34 L190.50,172.58 L191.00,171.80 L191.50,170.98 L192.00,170.13 L192.50,169.25 L193.00,168.34 L193.50,167.39 L194.00,166.41 L194.50,165.39 L195.00,164.33 L195.50,163.23 L196.00,162.10 L196.50,160.93 L197.00,159.73 L197.50,158.50 L198.00,157.24 L198.50,155.96 L199.00,154.65 L199.50,153.33 L200.00,151.98 L200.50,150.62 L201.00,149.24 L201.50,147.84 L202.00,146.43 L202.50,145.01 L203.00,143.58 L203.50,142.14 L204.00,140.69 L204.50,139.23 L205.00,137.77 L205.50,136.30 L206.00,134.83 L206.50,133.37 L207.00,131.92 L207.50,130.47 L208.00,129.05 L208.50,127.64 L209.00,126.26 L209.50,124.89 L210.00,123.56 L210.50,122.25 L211.00,120.98 L211.50,119.73 L212.00,118.52 L212.50,117.35 L213.00,116.22 L213.50,115.13 L214.00,114.08 L214.50,113.07 L215.00,112.10 L215.50,111.18 L216.00,110.30 L216.50,109.47 L217.00,108.68 L217.50,107.94 L218.00,107.25 L218.50,106.60 L219.00,106.00 L219.50,105.45 L220.00,104.95 L220.50,104.49 L221.00,104.09 L221.50,103.73 L222.00,103.41 L222.50,103.15 L223.00,102.93 L223.50,102.76 L224.00,102.64 L224.50,102.57 L225.00,102.54 L225.50,102.56 L226.00,102.62 L226.50,102.73 L227.00,102.89 L227.50,103.09 L228.00,103.33 L228.50,103.62 L229.00,103.95 L229.50,104.32 L230.00,104.73 L230.50,105.18 L231.00,105.67 L231.50,106.19 L232.00,106.74 L232.50,107.33 L233.00,107.95 L233.50,108.59 L234.00,109.25 L234.50,109.94 L235.00,110.65 L235.50,111.37 L236.00,112.11 L236.50,112.87 L237.00,113.64 L237.50,114.42 L238.00,115.22 L238.50,116.02 L239.00,116.83 L239.50,117.66 L240.00,118.48 L240.50,119.32 L241.00,120.16 L241.50,121.00 L242.00,121.85 L242.50,122.70 L243.00,123.55 L243.50,124.41 L244.00,125.27 L244.50,126.13 L245.00,126.99 L245.50,127.85 L246.00,128.72 L246.50,129.58 L247.00,130.44 L247.50,131.29 L248.00,132.14 L248.50,132.99 L249.00,133.82 L249.50,134.65 L250.00,135.47 L250.50,136.29 L251.00,137.09 L251.50,137.87 L252.00,138.65 L252.50,139.41 L253.00,140.16 L253.50,140.89 L254.00,141.60 L254.50,142.30 L255.00,142.98 L255.50,143.63 L256.00,144.27 L256.50,144.88 L257.00,145.47 L257.50,146.04 L258.00,146.58 L258.50,147.10 L259.00,147.60 L259.50,148.08 L260.00,148.54 L260.50,148.97 L261.00,149.39 L261.50,149.78 L262.00,150.16 L262.50,150.51 L263.00,150.84 L263.50,151.16 L264.00,151.45 L264.50,151.73 L265.00,151.99 L265.50,152.24 L266.00,152.47 L266.50,152.68 L267.00,152.89 L267.50,153.08 L268.00,153.26 L268.50,153.44 L269.00,153.60 L269.50,153.75 L270.00,153.89 L270.50,154.03 L271.00,154.15 L271.50,154.27 L272.00,154.39 L272.50,154.49 L273.00,154.60 L273.50,154.70 L274.00,154.79 L274.50,154.89 L275.00,154.98 L275.50,155.07 L276.00,155.16 L276.50,155.25 L277.00,155.34 L277.50,155.44 L278.00,155.53 L278.50,155.63 L279.00,155.73 L279.50,155.83 L280.00,155.94 L280.50,156.04 L281.00,156.15 L281.50,156.27 L282.00,156.38 L282.50,156.50 L283.00,156.62 L283.50,156.74 L284.00,156.87 L284.50,157.00 L285.00,157.13 L285.50,157.27 L286.00,157.40 L286.50,157.55 L287.00,157.69 L287.50,157.84 L288.00,157.99 L288.50,158.15 L289.00,158.30 L289.50,158.47 L290.00,158.63 L290.50,158.80 L291.00,158.97 L291.50,159.15 L292.00,159.33 L292.50,159.51 L293.00,159.69 L293.50,159.88 L294.00,160.07 L294.50,160.26 L295.00,160.46 L295.50,160.66 L296.00,160.86 L296.50,161.06 L297.00,161.27 L297.50,161.48 L298.00,161.69 L298.50,161.91 L299.00,162.13 L299.50,162.36 L300.00,162.58 L300.50,162.81 L301.00,163.05 L301.50,163.28 L302.00,163.52 L302.50,163.76 L303.00,164.00 L303.50,164.25 L304.00,164.49 L304.50,164.74 L305.00,164.98 L305.50,165.23 L306.00,165.48 L306.50,165.73 L307.00,165.98 L307.50,166.23 L308.00,166.48 L308.50,166.73 L309.00,166.98 L309.50,167.23 L310.00,167.48" fill="none" stroke="#819c5e" stroke-width="1.3" stroke-linejoin="round"/></svg>
<text x="56" y="195.05" text-anchor="end" class="tk">0</text>
<text x="56" y="167.38" text-anchor="end" class="tk">0.5</text>
<text x="56" y="139.72" text-anchor="end" class="tk">1</text>
<text x="56" y="112.05" text-anchor="end" class="tk">1.5</text>
<text x="56" y="84.38" text-anchor="end" class="tk">2</text>
<text x="56" y="56.72" text-anchor="end" class="tk">2.5</text>
<text x="56" y="29.05" text-anchor="end" class="tk">3</text>
<text x="60.00" y="204.0" text-anchor="middle" class="tk">0</text>
<text x="124.25" y="204.0" text-anchor="middle" class="tk">50</text>
<text x="188.50" y="204.0" text-anchor="middle" class="tk">100</text>
<text x="252.75" y="204.0" text-anchor="middle" class="tk">150</text>
<text x="317.00" y="204.0" text-anchor="middle" class="tk">200</text>
<text x="188.5" y="216.1" text-anchor="middle" class="lb">Days</text>
<text x="188.5" y="21.3" text-anchor="middle" class="lb">(a)</text>
<text transform="translate(39.5,109.0) rotate(-90)" text-anchor="middle" class="lb">Incidence</text>
<text x="60.6" y="24.5" class="tk" style="font-weight:normal;font-size:11.5px;stroke-width:0.25px">×</text>
<text x="68.0" y="23.4" class="tk">10</text>
<text x="78.4" y="18.7" class="tk" style="font-size:6.2px">5</text>
<rect x="389" y="26" width="257" height="166" fill="#fff"/>
<path d="M389,192 L646,192 M389,192 L389,26 M389,26 L646,26 M646,26 L646,192" stroke="#262626" stroke-width="1" fill="none" stroke-linecap="square"/>
<path d="M389.00,192 v-3 M389.00,26 v3 M453.25,192 v-3 M453.25,26 v3 M517.50,192 v-3 M517.50,26 v3 M581.75,192 v-3 M581.75,26 v3 M646.00,192 v-3 M646.00,26 v3 M389,192.00 h3 M646,192.00 h-3 M389,171.25 h3 M646,171.25 h-3 M389,150.50 h3 M646,150.50 h-3 M389,129.75 h3 M646,129.75 h-3 M389,109.00 h3 M646,109.00 h-3 M389,88.25 h3 M646,88.25 h-3 M389,67.50 h3 M646,67.50 h-3 M389,46.75 h3 M646,46.75 h-3 M389,26.00 h3 M646,26.00 h-3" stroke="#262626" stroke-width="1" fill="none"/>
<svg x="388.5" y="25.5" width="258" height="167" viewBox="388.5 25.5 258 167" overflow="hidden"><path d="M389.00,191.60 L389.50,191.60 L390.00,191.60 L390.50,191.60 L391.00,191.60 L391.50,191.60 L392.00,191.60 L392.50,191.60 L393.00,191.60 L393.50,191.60 L394.00,191.60 L394.50,191.60 L395.00,191.60 L395.50,191.60 L396.00,191.60 L396.50,191.60 L397.00,191.60 L397.50,191.60 L398.00,191.60 L398.50,191.60 L399.00,191.60 L399.50,191.60 L400.00,191.60 L400.50,191.60 L401.00,191.60 L401.50,191.60 L402.00,191.60 L402.50,191.60 L403.00,191.60 L403.50,191.60 L404.00,191.60 L404.50,191.60 L405.00,191.60 L405.50,191.60 L406.00,191.60 L406.50,191.60 L407.00,191.60 L407.50,191.60 L408.00,191.60 L408.50,191.60 L409.00,191.60 L409.50,191.60 L410.00,191.60 L410.50,191.60 L411.00,191.60 L411.50,191.60 L412.00,191.60 L412.50,191.60 L413.00,191.60 L413.50,191.60 L414.00,191.60 L414.50,191.60 L415.00,191.60 L415.50,191.60 L416.00,191.60 L416.50,191.60 L417.00,191.60 L417.50,191.60 L418.00,191.60 L418.50,191.60 L419.00,191.60 L419.50,191.60 L420.00,191.60 L420.50,191.60 L421.00,191.60 L421.50,191.60 L422.00,191.60 L422.50,191.60 L423.00,191.60 L423.50,191.60 L424.00,191.60 L424.50,191.60 L425.00,191.60 L425.50,191.60 L426.00,191.60 L426.50,191.60 L427.00,191.60 L427.50,191.60 L428.00,191.60 L428.50,191.60 L429.00,191.60 L429.50,191.60 L430.00,191.60 L430.50,191.60 L431.00,191.60 L431.50,191.60 L432.00,191.60 L432.50,191.60 L433.00,191.60 L433.50,191.60 L434.00,191.60 L434.50,191.60 L435.00,191.60 L435.50,191.60 L436.00,191.60 L436.50,191.60 L437.00,191.60 L437.50,191.59 L438.00,191.59 L438.50,191.58 L439.00,191.58 L439.50,191.57 L440.00,191.56 L440.50,191.55 L441.00,191.54 L441.50,191.53 L442.00,191.52 L442.50,191.50 L443.00,191.49 L443.50,191.47 L444.00,191.46 L444.50,191.44 L445.00,191.43 L445.50,191.41 L446.00,191.40 L446.50,191.38 L447.00,191.36 L447.50,191.35 L448.00,191.33 L448.50,191.32 L449.00,191.30 L449.50,191.29 L450.00,191.27 L450.50,191.26 L451.00,191.24 L451.50,191.23 L452.00,191.21 L452.50,191.20 L453.00,191.18 L453.50,191.17 L454.00,191.15 L454.50,191.14 L455.00,191.12 L455.50,191.10 L456.00,191.09 L456.50,191.06 L457.00,191.04 L457.50,191.02 L458.00,190.99 L458.50,190.96 L459.00,190.93 L459.50,190.89 L460.00,190.85 L460.50,190.80 L461.00,190.75 L461.50,190.69 L462.00,190.63 L462.50,190.56 L463.00,190.48 L463.50,190.40 L464.00,190.31 L464.50,190.21 L465.00,190.11 L465.50,190.01 L466.00,189.90 L466.50,189.78 L467.00,189.66 L467.50,189.54 L468.00,189.41 L468.50,189.27 L469.00,189.13 L469.50,188.97 L470.00,188.81 L470.50,188.64 L471.00,188.46 L471.50,188.26 L472.00,188.05 L472.50,187.83 L473.00,187.58 L473.50,187.31 L474.00,187.02 L474.50,186.71 L475.00,186.37 L475.50,186.00 L476.00,185.60 L476.50,185.16 L477.00,184.70 L477.50,184.20 L478.00,183.66 L478.50,183.09 L479.00,182.47 L479.50,181.81 L480.00,181.11 L480.50,180.34 L481.00,179.52 L481.50,178.64 L482.00,177.69 L482.50,176.67 L483.00,175.58 L483.50,174.42 L484.00,173.18 L484.50,171.86 L485.00,170.47 L485.50,169.01 L486.00,167.47 L486.50,165.86 L487.00,164.16 L487.50,162.40 L488.00,160.55 L488.50,158.63 L489.00,156.64 L489.50,154.58 L490.00,152.45 L490.50,150.26 L491.00,147.99 L491.50,145.67 L492.00,143.28 L492.50,140.84 L493.00,138.34 L493.50,135.79 L494.00,133.19 L494.50,130.54 L495.00,127.86 L495.50,125.14 L496.00,122.40 L496.50,119.62 L497.00,116.83 L497.50,114.02 L498.00,111.20 L498.50,108.37 L499.00,105.53 L499.50,102.70 L500.00,99.88 L500.50,97.06 L501.00,94.26 L501.50,91.47 L502.00,88.72 L502.50,85.99 L503.00,83.30 L503.50,80.65 L504.00,78.06 L504.50,75.52 L505.00,73.05 L505.50,70.65 L506.00,68.34 L506.50,66.11 L507.00,63.98 L507.50,61.94 L508.00,60.01 L508.50,58.20 L509.00,56.49 L509.50,54.90 L510.00,53.44 L510.50,52.09 L511.00,50.86 L511.50,49.76 L512.00,48.77 L512.50,47.91 L513.00,47.17 L513.50,46.55 L514.00,46.04 L514.50,45.64 L515.00,45.36 L515.50,45.18 L516.00,45.10 L516.50,45.12 L517.00,45.24 L517.50,45.44 L518.00,45.74 L518.50,46.10 L519.00,46.55 L519.50,47.06 L520.00,47.63 L520.50,48.26 L521.00,48.94 L521.50,49.66 L522.00,50.43 L522.50,51.23 L523.00,52.06 L523.50,52.91 L524.00,53.79 L524.50,54.68 L525.00,55.58 L525.50,56.50 L526.00,57.43 L526.50,58.36 L527.00,59.29 L527.50,60.23 L528.00,61.16 L528.50,62.09 L529.00,63.02 L529.50,63.94 L530.00,64.86 L530.50,65.78 L531.00,66.69 L531.50,67.59 L532.00,68.48 L532.50,69.37 L533.00,70.24 L533.50,71.11 L534.00,71.98 L534.50,72.83 L535.00,73.68 L535.50,74.52 L536.00,75.36 L536.50,76.18 L537.00,77.01 L537.50,77.83 L538.00,78.65 L538.50,79.46 L539.00,80.28 L539.50,81.09 L540.00,81.90 L540.50,82.72 L541.00,83.53 L541.50,84.35 L542.00,85.18 L542.50,86.01 L543.00,86.86 L543.50,87.71 L544.00,88.57 L544.50,89.45 L545.00,90.35 L545.50,91.26 L546.00,92.18 L546.50,93.13 L547.00,94.09 L547.50,95.07 L548.00,96.07 L548.50,97.09 L549.00,98.13 L549.50,99.18 L550.00,100.25 L550.50,101.33 L551.00,102.41 L551.50,103.50 L552.00,104.58 L552.50,105.66 L553.00,106.74 L553.50,107.80 L554.00,108.86 L554.50,109.90 L555.00,110.94 L555.50,111.96 L556.00,112.96 L556.50,113.95 L557.00,114.92 L557.50,115.88 L558.00,116.82 L558.50,117.73 L559.00,118.63 L559.50,119.51 L560.00,120.38 L560.50,121.22 L561.00,122.04 L561.50,122.85 L562.00,123.63 L562.50,124.40 L563.00,125.15 L563.50,125.89 L564.00,126.62 L564.50,127.34 L565.00,128.05 L565.50,128.75 L566.00,129.45 L566.50,130.15 L567.00,130.84 L567.50,131.54 L568.00,132.23 L568.50,132.93 L569.00,133.63 L569.50,134.33 L570.00,135.04 L570.50,135.75 L571.00,136.47 L571.50,137.19 L572.00,137.92 L572.50,138.66 L573.00,139.40 L573.50,140.16 L574.00,140.92 L574.50,141.69 L575.00,142.47 L575.50,143.25 L576.00,144.04 L576.50,144.85 L577.00,145.66 L577.50,146.47 L578.00,147.30 L578.50,148.13 L579.00,148.97 L579.50,149.82 L580.00,150.68 L580.50,151.54 L581.00,152.40 L581.50,153.28 L582.00,154.15 L582.50,155.03 L583.00,155.91 L583.50,156.78 L584.00,157.66 L584.50,158.54 L585.00,159.41 L585.50,160.29 L586.00,161.15 L586.50,162.01 L587.00,162.86 L587.50,163.71 L588.00,164.55 L588.50,165.37 L589.00,166.19 L589.50,167.00 L590.00,167.80 L590.50,168.59 L591.00,169.36 L591.50,170.12 L592.00,170.87 L592.50,171.61 L593.00,172.32 L593.50,173.02 L594.00,173.71 L594.50,174.38 L595.00,175.03 L595.50,175.67 L596.00,176.29 L596.50,176.89 L597.00,177.48 L597.50,178.06 L598.00,178.62 L598.50,179.16 L599.00,179.69 L599.50,180.20 L600.00,180.70 L600.50,181.17 L601.00,181.63 L601.50,182.07 L602.00,182.50 L602.50,182.90 L603.00,183.29 L603.50,183.66 L604.00,184.02 L604.50,184.36 L605.00,184.69 L605.50,185.01 L606.00,185.31 L606.50,185.61 L607.00,185.89 L607.50,186.17 L608.00,186.43 L608.50,186.69 L609.00,186.93 L609.50,187.17 L610.00,187.39 L610.50,187.61 L611.00,187.82 L611.50,188.01 L612.00,188.20 L612.50,188.38 L613.00,188.55 L613.50,188.71 L614.00,188.87 L614.50,189.02 L615.00,189.16 L615.50,189.29 L616.00,189.42 L616.50,189.55 L617.00,189.67 L617.50,189.78 L618.00,189.89 L618.50,190.00 L619.00,190.10 L619.50,190.20 L620.00,190.29 L620.50,190.38 L621.00,190.46 L621.50,190.53 L622.00,190.60 L622.50,190.67 L623.00,190.73 L623.50,190.78 L624.00,190.83 L624.50,190.87 L625.00,190.91 L625.50,190.95 L626.00,190.98 L626.50,191.01 L627.00,191.04 L627.50,191.06 L628.00,191.09 L628.50,191.11 L629.00,191.13 L629.50,191.15 L630.00,191.17 L630.50,191.18 L631.00,191.20 L631.50,191.22 L632.00,191.24 L632.50,191.25 L633.00,191.27 L633.50,191.28 L634.00,191.30 L634.50,191.32 L635.00,191.33 L635.50,191.35 L636.00,191.37 L636.50,191.38 L637.00,191.40 L637.50,191.42 L638.00,191.44 L638.50,191.45 L639.00,191.47 L639.50,191.49" fill="none" stroke="#2d6c94" stroke-width="1.3" stroke-linejoin="round"/>
<path d="M389.00,191.60 L389.50,191.60 L390.00,191.60 L390.50,191.60 L391.00,191.60 L391.50,191.60 L392.00,191.60 L392.50,191.60 L393.00,191.60 L393.50,191.60 L394.00,191.60 L394.50,191.60 L395.00,191.60 L395.50,191.60 L396.00,191.60 L396.50,191.60 L397.00,191.60 L397.50,191.60 L398.00,191.60 L398.50,191.60 L399.00,191.60 L399.50,191.60 L400.00,191.60 L400.50,191.60 L401.00,191.60 L401.50,191.60 L402.00,191.60 L402.50,191.60 L403.00,191.60 L403.50,191.60 L404.00,191.60 L404.50,191.60 L405.00,191.60 L405.50,191.60 L406.00,191.60 L406.50,191.60 L407.00,191.60 L407.50,191.60 L408.00,191.60 L408.50,191.60 L409.00,191.60 L409.50,191.60 L410.00,191.60 L410.50,191.60 L411.00,191.60 L411.50,191.60 L412.00,191.60 L412.50,191.60 L413.00,191.60 L413.50,191.60 L414.00,191.60 L414.50,191.60 L415.00,191.60 L415.50,191.60 L416.00,191.60 L416.50,191.60 L417.00,191.60 L417.50,191.60 L418.00,191.60 L418.50,191.60 L419.00,191.60 L419.50,191.60 L420.00,191.60 L420.50,191.60 L421.00,191.60 L421.50,191.60 L422.00,191.60 L422.50,191.60 L423.00,191.60 L423.50,191.60 L424.00,191.60 L424.50,191.60 L425.00,191.60 L425.50,191.60 L426.00,191.60 L426.50,191.60 L427.00,191.60 L427.50,191.60 L428.00,191.60 L428.50,191.60 L429.00,191.60 L429.50,191.60 L430.00,191.60 L430.50,191.60 L431.00,191.60 L431.50,191.60 L432.00,191.60 L432.50,191.60 L433.00,191.60 L433.50,191.60 L434.00,191.60 L434.50,191.60 L435.00,191.60 L435.50,191.60 L436.00,191.60 L436.50,191.60 L437.00,191.60 L437.50,191.60 L438.00,191.60 L438.50,191.60 L439.00,191.60 L439.50,191.60 L440.00,191.60 L440.50,191.60 L441.00,191.60 L441.50,191.60 L442.00,191.60 L442.50,191.59 L443.00,191.59 L443.50,191.58 L444.00,191.57 L444.50,191.56 L445.00,191.56 L445.50,191.55 L446.00,191.53 L446.50,191.52 L447.00,191.51 L447.50,191.50 L448.00,191.48 L448.50,191.47 L449.00,191.45 L449.50,191.43 L450.00,191.42 L450.50,191.40 L451.00,191.39 L451.50,191.37 L452.00,191.35 L452.50,191.33 L453.00,191.32 L453.50,191.30 L454.00,191.28 L454.50,191.27 L455.00,191.25 L455.50,191.23 L456.00,191.22 L456.50,191.20 L457.00,191.18 L457.50,191.16 L458.00,191.14 L458.50,191.12 L459.00,191.10 L459.50,191.07 L460.00,191.05 L460.50,191.02 L461.00,190.99 L461.50,190.96 L462.00,190.92 L462.50,190.88 L463.00,190.83 L463.50,190.78 L464.00,190.73 L464.50,190.67 L465.00,190.61 L465.50,190.54 L466.00,190.46 L466.50,190.38 L467.00,190.29 L467.50,190.20 L468.00,190.11 L468.50,190.01 L469.00,189.91 L469.50,189.80 L470.00,189.70 L470.50,189.58 L471.00,189.47 L471.50,189.35 L472.00,189.23 L472.50,189.11 L473.00,188.98 L473.50,188.84 L474.00,188.70 L474.50,188.55 L475.00,188.39 L475.50,188.23 L476.00,188.05 L476.50,187.85 L477.00,187.65 L477.50,187.42 L478.00,187.18 L478.50,186.91 L479.00,186.63 L479.50,186.31 L480.00,185.98 L480.50,185.61 L481.00,185.22 L481.50,184.80 L482.00,184.34 L482.50,183.86 L483.00,183.34 L483.50,182.79 L484.00,182.21 L484.50,181.58 L485.00,180.91 L485.50,180.19 L486.00,179.42 L486.50,178.60 L487.00,177.73 L487.50,176.79 L488.00,175.79 L488.50,174.72 L489.00,173.60 L489.50,172.42 L490.00,171.18 L490.50,169.88 L491.00,168.53 L491.50,167.12 L492.00,165.66 L492.50,164.16 L493.00,162.59 L493.50,160.98 L494.00,159.31 L494.50,157.59 L495.00,155.82 L495.50,153.99 L496.00,152.10 L496.50,150.16 L497.00,148.15 L497.50,146.09 L498.00,143.96 L498.50,141.76 L499.00,139.51 L499.50,137.19 L500.00,134.80 L500.50,132.36 L501.00,129.85 L501.50,127.29 L502.00,124.67 L502.50,121.99 L503.00,119.25 L503.50,116.47 L504.00,113.66 L504.50,110.81 L505.00,107.93 L505.50,105.04 L506.00,102.13 L506.50,99.22 L507.00,96.32 L507.50,93.43 L508.00,90.56 L508.50,87.71 L509.00,84.89 L509.50,82.11 L510.00,79.37 L510.50,76.67 L511.00,74.03 L511.50,71.43 L512.00,68.90 L512.50,66.43 L513.00,64.02 L513.50,61.69 L514.00,59.43 L514.50,57.26 L515.00,55.17 L515.50,53.17 L516.00,51.27 L516.50,49.47 L517.00,47.78 L517.50,46.20 L518.00,44.74 L518.50,43.40 L519.00,42.18 L519.50,41.10 L520.00,40.14 L520.50,39.32 L521.00,38.63 L521.50,38.06 L522.00,37.63 L522.50,37.34 L523.00,37.17 L523.50,37.14 L524.00,37.24 L524.50,37.46 L525.00,37.81 L525.50,38.27 L526.00,38.86 L526.50,39.56 L527.00,40.37 L527.50,41.28 L528.00,42.30 L528.50,43.42 L529.00,44.63 L529.50,45.93 L530.00,47.31 L530.50,48.77 L531.00,50.30 L531.50,51.91 L532.00,53.58 L532.50,55.31 L533.00,57.10 L533.50,58.95 L534.00,60.86 L534.50,62.81 L535.00,64.81 L535.50,66.85 L536.00,68.94 L536.50,71.05 L537.00,73.19 L537.50,75.35 L538.00,77.52 L538.50,79.68 L539.00,81.84 L539.50,83.97 L540.00,86.07 L540.50,88.14 L541.00,90.16 L541.50,92.14 L542.00,94.07 L542.50,95.94 L543.00,97.75 L543.50,99.49 L544.00,101.18 L544.50,102.80 L545.00,104.36 L545.50,105.86 L546.00,107.29 L546.50,108.65 L547.00,109.96 L547.50,111.20 L548.00,112.38 L548.50,113.51 L549.00,114.57 L549.50,115.58 L550.00,116.54 L550.50,117.43 L551.00,118.28 L551.50,119.07 L552.00,119.81 L552.50,120.51 L553.00,121.16 L553.50,121.76 L554.00,122.32 L554.50,122.84 L555.00,123.32 L555.50,123.77 L556.00,124.18 L556.50,124.57 L557.00,124.92 L557.50,125.25 L558.00,125.56 L558.50,125.84 L559.00,126.11 L559.50,126.36 L560.00,126.60 L560.50,126.82 L561.00,127.03 L561.50,127.24 L562.00,127.43 L562.50,127.63 L563.00,127.81 L563.50,128.00 L564.00,128.18 L564.50,128.37 L565.00,128.55 L565.50,128.74 L566.00,128.93 L566.50,129.12 L567.00,129.33 L567.50,129.54 L568.00,129.76 L568.50,130.00 L569.00,130.24 L569.50,130.50 L570.00,130.78 L570.50,131.07 L571.00,131.37 L571.50,131.69 L572.00,132.04 L572.50,132.40 L573.00,132.77 L573.50,133.17 L574.00,133.59 L574.50,134.02 L575.00,134.47 L575.50,134.95 L576.00,135.44 L576.50,135.95 L577.00,136.48 L577.50,137.03 L578.00,137.59 L578.50,138.18 L579.00,138.78 L579.50,139.39 L580.00,140.02 L580.50,140.67 L581.00,141.32 L581.50,141.99 L582.00,142.67 L582.50,143.36 L583.00,144.07 L583.50,144.78 L584.00,145.50 L584.50,146.24 L585.00,146.98 L585.50,147.73 L586.00,148.49 L586.50,149.25 L587.00,150.02 L587.50,150.79 L588.00,151.57 L588.50,152.35 L589.00,153.12 L589.50,153.90 L590.00,154.68 L590.50,155.45 L591.00,156.22 L591.50,156.98 L592.00,157.74 L592.50,158.49 L593.00,159.24 L593.50,159.98 L594.00,160.71 L594.50,161.43 L595.00,162.15 L595.50,162.86 L596.00,163.56 L596.50,164.25 L597.00,164.94 L597.50,165.62 L598.00,166.29 L598.50,166.94 L599.00,167.60 L599.50,168.24 L600.00,168.87 L600.50,169.49 L601.00,170.11 L601.50,170.72 L602.00,171.32 L602.50,171.91 L603.00,172.49 L603.50,173.06 L604.00,173.63 L604.50,174.19 L605.00,174.74 L605.50,175.27 L606.00,175.80 L606.50,176.32 L607.00,176.82 L607.50,177.32 L608.00,177.80 L608.50,178.27 L609.00,178.73 L609.50,179.18 L610.00,179.62 L610.50,180.05 L611.00,180.47 L611.50,180.88 L612.00,181.28 L612.50,181.66 L613.00,182.04 L613.50,182.40 L614.00,182.76 L614.50,183.10 L615.00,183.42 L615.50,183.74 L616.00,184.04 L616.50,184.33 L617.00,184.61 L617.50,184.88 L618.00,185.14 L618.50,185.39 L619.00,185.63 L619.50,185.86 L620.00,186.08 L620.50,186.30 L621.00,186.51 L621.50,186.71 L622.00,186.90 L622.50,187.09 L623.00,187.27 L623.50,187.44 L624.00,187.61 L624.50,187.76 L625.00,187.92 L625.50,188.06 L626.00,188.19 L626.50,188.32 L627.00,188.45 L627.50,188.57 L628.00,188.68 L628.50,188.79 L629.00,188.89 L629.50,189.00 L630.00,189.10 L630.50,189.19 L631.00,189.29 L631.50,189.38 L632.00,189.47 L632.50,189.56 L633.00,189.65 L633.50,189.74 L634.00,189.83 L634.50,189.91 L635.00,190.00 L635.50,190.09 L636.00,190.17 L636.50,190.26 L637.00,190.35 L637.50,190.43 L638.00,190.52 L638.50,190.61 L639.00,190.69 L639.50,190.78" fill="none" stroke="#ad684c" stroke-width="1.3" stroke-linejoin="round"/>
<path d="M389.00,191.60 L389.50,191.60 L390.00,191.60 L390.50,191.60 L391.00,191.60 L391.50,191.60 L392.00,191.60 L392.50,191.60 L393.00,191.60 L393.50,191.60 L394.00,191.60 L394.50,191.60 L395.00,191.60 L395.50,191.60 L396.00,191.60 L396.50,191.60 L397.00,191.60 L397.50,191.60 L398.00,191.60 L398.50,191.60 L399.00,191.60 L399.50,191.60 L400.00,191.60 L400.50,191.60 L401.00,191.60 L401.50,191.60 L402.00,191.60 L402.50,191.60 L403.00,191.60 L403.50,191.60 L404.00,191.60 L404.50,191.60 L405.00,191.60 L405.50,191.60 L406.00,191.60 L406.50,191.60 L407.00,191.60 L407.50,191.60 L408.00,191.60 L408.50,191.60 L409.00,191.60 L409.50,191.60 L410.00,191.60 L410.50,191.60 L411.00,191.60 L411.50,191.60 L412.00,191.60 L412.50,191.60 L413.00,191.60 L413.50,191.60 L414.00,191.60 L414.50,191.60 L415.00,191.60 L415.50,191.60 L416.00,191.60 L416.50,191.60 L417.00,191.60 L417.50,191.60 L418.00,191.60 L418.50,191.60 L419.00,191.60 L419.50,191.60 L420.00,191.60 L420.50,191.60 L421.00,191.60 L421.50,191.60 L422.00,191.60 L422.50,191.60 L423.00,191.60 L423.50,191.60 L424.00,191.60 L424.50,191.60 L425.00,191.60 L425.50,191.60 L426.00,191.60 L426.50,191.60 L427.00,191.60 L427.50,191.60 L428.00,191.60 L428.50,191.60 L429.00,191.60 L429.50,191.60 L430.00,191.60 L430.50,191.60 L431.00,191.60 L431.50,191.60 L432.00,191.60 L432.50,191.60 L433.00,191.60 L433.50,191.60 L434.00,191.60 L434.50,191.60 L435.00,191.60 L435.50,191.60 L436.00,191.60 L436.50,191.60 L437.00,191.60 L437.50,191.60 L438.00,191.60 L438.50,191.60 L439.00,191.60 L439.50,191.60 L440.00,191.60 L440.50,191.60 L441.00,191.60 L441.50,191.60 L442.00,191.60 L442.50,191.60 L443.00,191.60 L443.50,191.60 L444.00,191.60 L444.50,191.60 L445.00,191.60 L445.50,191.60 L446.00,191.60 L446.50,191.60 L447.00,191.60 L447.50,191.59 L448.00,191.59 L448.50,191.59 L449.00,191.59 L449.50,191.58 L450.00,191.58 L450.50,191.57 L451.00,191.57 L451.50,191.56 L452.00,191.55 L452.50,191.55 L453.00,191.54 L453.50,191.53 L454.00,191.53 L454.50,191.52 L455.00,191.51 L455.50,191.51 L456.00,191.50 L456.50,191.49 L457.00,191.49 L457.50,191.48 L458.00,191.47 L458.50,191.47 L459.00,191.46 L459.50,191.45 L460.00,191.45 L460.50,191.44 L461.00,191.43 L461.50,191.43 L462.00,191.42 L462.50,191.41 L463.00,191.40 L463.50,191.38 L464.00,191.37 L464.50,191.35 L465.00,191.33 L465.50,191.31 L466.00,191.28 L466.50,191.25 L467.00,191.22 L467.50,191.18 L468.00,191.13 L468.50,191.09 L469.00,191.03 L469.50,190.97 L470.00,190.90 L470.50,190.83 L471.00,190.75 L471.50,190.66 L472.00,190.57 L472.50,190.47 L473.00,190.37 L473.50,190.27 L474.00,190.17 L474.50,190.06 L475.00,189.94 L475.50,189.83 L476.00,189.71 L476.50,189.59 L477.00,189.47 L477.50,189.35 L478.00,189.22 L478.50,189.09 L479.00,188.95 L479.50,188.81 L480.00,188.66 L480.50,188.50 L481.00,188.34 L481.50,188.16 L482.00,187.98 L482.50,187.78 L483.00,187.56 L483.50,187.33 L484.00,187.08 L484.50,186.81 L485.00,186.52 L485.50,186.20 L486.00,185.86 L486.50,185.49 L487.00,185.10 L487.50,184.69 L488.00,184.24 L488.50,183.77 L489.00,183.27 L489.50,182.74 L490.00,182.17 L490.50,181.57 L491.00,180.93 L491.50,180.25 L492.00,179.52 L492.50,178.74 L493.00,177.91 L493.50,177.03 L494.00,176.09 L494.50,175.09 L495.00,174.04 L495.50,172.93 L496.00,171.77 L496.50,170.54 L497.00,169.27 L497.50,167.94 L498.00,166.55 L498.50,165.11 L499.00,163.61 L499.50,162.06 L500.00,160.46 L500.50,158.81 L501.00,157.12 L501.50,155.38 L502.00,153.60 L502.50,151.77 L503.00,149.91 L503.50,148.01 L504.00,146.07 L504.50,144.09 L505.00,142.07 L505.50,140.00 L506.00,137.90 L506.50,135.75 L507.00,133.57 L507.50,131.35 L508.00,129.09 L508.50,126.80 L509.00,124.48 L509.50,122.13 L510.00,119.75 L510.50,117.35 L511.00,114.93 L511.50,112.49 L512.00,110.05 L512.50,107.59 L513.00,105.14 L513.50,102.69 L514.00,100.25 L514.50,97.82 L515.00,95.40 L515.50,93.00 L516.00,90.63 L516.50,88.28 L517.00,85.96 L517.50,83.67 L518.00,81.42 L518.50,79.22 L519.00,77.06 L519.50,74.94 L520.00,72.88 L520.50,70.87 L521.00,68.92 L521.50,67.03 L522.00,65.20 L522.50,63.45 L523.00,61.77 L523.50,60.17 L524.00,58.66 L524.50,57.25 L525.00,55.94 L525.50,54.74 L526.00,53.67 L526.50,52.71 L527.00,51.89 L527.50,51.21 L528.00,50.67 L528.50,50.27 L529.00,50.02 L529.50,49.93 L530.00,49.98 L530.50,50.17 L531.00,50.50 L531.50,50.98 L532.00,51.60 L532.50,52.35 L533.00,53.23 L533.50,54.23 L534.00,55.35 L534.50,56.58 L535.00,57.92 L535.50,59.36 L536.00,60.90 L536.50,62.52 L537.00,64.21 L537.50,65.98 L538.00,67.81 L538.50,69.70 L539.00,71.63 L539.50,73.60 L540.00,75.60 L540.50,77.63 L541.00,79.66 L541.50,81.69 L542.00,83.72 L542.50,85.74 L543.00,87.73 L543.50,89.69 L544.00,91.62 L544.50,93.51 L545.00,95.37 L545.50,97.19 L546.00,98.97 L546.50,100.71 L547.00,102.41 L547.50,104.07 L548.00,105.70 L548.50,107.29 L549.00,108.84 L549.50,110.35 L550.00,111.82 L550.50,113.25 L551.00,114.64 L551.50,115.99 L552.00,117.29 L552.50,118.55 L553.00,119.77 L553.50,120.95 L554.00,122.09 L554.50,123.20 L555.00,124.28 L555.50,125.32 L556.00,126.32 L556.50,127.30 L557.00,128.26 L557.50,129.18 L558.00,130.07 L558.50,130.94 L559.00,131.78 L559.50,132.59 L560.00,133.37 L560.50,134.12 L561.00,134.84 L561.50,135.54 L562.00,136.20 L562.50,136.84 L563.00,137.45 L563.50,138.03 L564.00,138.58 L564.50,139.10 L565.00,139.59 L565.50,140.05 L566.00,140.48 L566.50,140.89 L567.00,141.27 L567.50,141.62 L568.00,141.94 L568.50,142.24 L569.00,142.52 L569.50,142.77 L570.00,143.00 L570.50,143.21 L571.00,143.40 L571.50,143.58 L572.00,143.73 L572.50,143.88 L573.00,144.01 L573.50,144.12 L574.00,144.23 L574.50,144.32 L575.00,144.41 L575.50,144.49 L576.00,144.56 L576.50,144.62 L577.00,144.68 L577.50,144.74 L578.00,144.80 L578.50,144.85 L579.00,144.90 L579.50,144.96 L580.00,145.01 L580.50,145.06 L581.00,145.11 L581.50,145.16 L582.00,145.22 L582.50,145.27 L583.00,145.33 L583.50,145.39 L584.00,145.45 L584.50,145.52 L585.00,145.59 L585.50,145.67 L586.00,145.75 L586.50,145.83 L587.00,145.92 L587.50,146.02 L588.00,146.12 L588.50,146.22 L589.00,146.33 L589.50,146.44 L590.00,146.56 L590.50,146.68 L591.00,146.80 L591.50,146.93 L592.00,147.06 L592.50,147.19 L593.00,147.33 L593.50,147.47 L594.00,147.62 L594.50,147.78 L595.00,147.94 L595.50,148.11 L596.00,148.29 L596.50,148.48 L597.00,148.68 L597.50,148.89 L598.00,149.11 L598.50,149.34 L599.00,149.58 L599.50,149.84 L600.00,150.10 L600.50,150.38 L601.00,150.67 L601.50,150.97 L602.00,151.29 L602.50,151.62 L603.00,151.96 L603.50,152.31 L604.00,152.68 L604.50,153.06 L605.00,153.44 L605.50,153.84 L606.00,154.25 L606.50,154.67 L607.00,155.09 L607.50,155.53 L608.00,155.98 L608.50,156.43 L609.00,156.90 L609.50,157.37 L610.00,157.85 L610.50,158.34 L611.00,158.84 L611.50,159.35 L612.00,159.86 L612.50,160.38 L613.00,160.91 L613.50,161.44 L614.00,161.98 L614.50,162.53 L615.00,163.08 L615.50,163.64 L616.00,164.20 L616.50,164.77 L617.00,165.35 L617.50,165.92 L618.00,166.50 L618.50,167.08 L619.00,167.66 L619.50,168.24 L620.00,168.82 L620.50,169.39 L621.00,169.96 L621.50,170.53 L622.00,171.09 L622.50,171.65 L623.00,172.20 L623.50,172.74 L624.00,173.28 L624.50,173.80 L625.00,174.32 L625.50,174.84 L626.00,175.34 L626.50,175.83 L627.00,176.32 L627.50,176.79 L628.00,177.26 L628.50,177.71 L629.00,178.15 L629.50,178.59 L630.00,179.01 L630.50,179.41 L631.00,179.81 L631.50,180.19 L632.00,180.56 L632.50,180.92 L633.00,181.27 L633.50,181.62 L634.00,181.95 L634.50,182.28 L635.00,182.61 L635.50,182.92 L636.00,183.24 L636.50,183.55 L637.00,183.85 L637.50,184.16 L638.00,184.46 L638.50,184.77 L639.00,185.07 L639.50,185.37" fill="none" stroke="#d8b95c" stroke-width="1.3" stroke-linejoin="round"/>
<path d="M389.00,191.60 L389.50,191.60 L390.00,191.60 L390.50,191.60 L391.00,191.60 L391.50,191.60 L392.00,191.60 L392.50,191.60 L393.00,191.60 L393.50,191.60 L394.00,191.60 L394.50,191.60 L395.00,191.60 L395.50,191.60 L396.00,191.60 L396.50,191.60 L397.00,191.60 L397.50,191.60 L398.00,191.60 L398.50,191.60 L399.00,191.60 L399.50,191.60 L400.00,191.60 L400.50,191.60 L401.00,191.60 L401.50,191.60 L402.00,191.60 L402.50,191.60 L403.00,191.60 L403.50,191.60 L404.00,191.60 L404.50,191.60 L405.00,191.60 L405.50,191.60 L406.00,191.60 L406.50,191.60 L407.00,191.60 L407.50,191.60 L408.00,191.60 L408.50,191.60 L409.00,191.60 L409.50,191.60 L410.00,191.60 L410.50,191.60 L411.00,191.60 L411.50,191.60 L412.00,191.60 L412.50,191.60 L413.00,191.60 L413.50,191.60 L414.00,191.60 L414.50,191.60 L415.00,191.60 L415.50,191.60 L416.00,191.60 L416.50,191.60 L417.00,191.60 L417.50,191.60 L418.00,191.60 L418.50,191.60 L419.00,191.60 L419.50,191.60 L420.00,191.60 L420.50,191.60 L421.00,191.60 L421.50,191.60 L422.00,191.60 L422.50,191.60 L423.00,191.60 L423.50,191.60 L424.00,191.60 L424.50,191.60 L425.00,191.60 L425.50,191.60 L426.00,191.60 L426.50,191.60 L427.00,191.60 L427.50,191.60 L428.00,191.60 L428.50,191.60 L429.00,191.60 L429.50,191.60 L430.00,191.60 L430.50,191.60 L431.00,191.60 L431.50,191.60 L432.00,191.60 L432.50,191.60 L433.00,191.60 L433.50,191.60 L434.00,191.60 L434.50,191.60 L435.00,191.60 L435.50,191.60 L436.00,191.60 L436.50,191.60 L437.00,191.60 L437.50,191.60 L438.00,191.60 L438.50,191.60 L439.00,191.60 L439.50,191.60 L440.00,191.60 L440.50,191.60 L441.00,191.60 L441.50,191.60 L442.00,191.60 L442.50,191.60 L443.00,191.60 L443.50,191.60 L444.00,191.60 L444.50,191.60 L445.00,191.60 L445.50,191.60 L446.00,191.60 L446.50,191.60 L447.00,191.60 L447.50,191.60 L448.00,191.60 L448.50,191.60 L449.00,191.60 L449.50,191.60 L450.00,191.60 L450.50,191.60 L451.00,191.60 L451.50,191.60 L452.00,191.60 L452.50,191.59 L453.00,191.59 L453.50,191.59 L454.00,191.59 L454.50,191.58 L455.00,191.58 L455.50,191.57 L456.00,191.57 L456.50,191.56 L457.00,191.55 L457.50,191.55 L458.00,191.54 L458.50,191.53 L459.00,191.53 L459.50,191.52 L460.00,191.51 L460.50,191.50 L461.00,191.50 L461.50,191.49 L462.00,191.48 L462.50,191.47 L463.00,191.47 L463.50,191.46 L464.00,191.45 L464.50,191.44 L465.00,191.43 L465.50,191.43 L466.00,191.42 L466.50,191.41 L467.00,191.40 L467.50,191.39 L468.00,191.37 L468.50,191.36 L469.00,191.34 L469.50,191.32 L470.00,191.30 L470.50,191.28 L471.00,191.25 L471.50,191.22 L472.00,191.19 L472.50,191.15 L473.00,191.11 L473.50,191.06 L474.00,191.01 L474.50,190.95 L475.00,190.89 L475.50,190.82 L476.00,190.75 L476.50,190.68 L477.00,190.60 L477.50,190.52 L478.00,190.43 L478.50,190.35 L479.00,190.26 L479.50,190.16 L480.00,190.07 L480.50,189.97 L481.00,189.87 L481.50,189.77 L482.00,189.66 L482.50,189.55 L483.00,189.44 L483.50,189.32 L484.00,189.20 L484.50,189.07 L485.00,188.93 L485.50,188.78 L486.00,188.63 L486.50,188.46 L487.00,188.28 L487.50,188.09 L488.00,187.87 L488.50,187.65 L489.00,187.40 L489.50,187.13 L490.00,186.85 L490.50,186.54 L491.00,186.21 L491.50,185.86 L492.00,185.48 L492.50,185.09 L493.00,184.67 L493.50,184.24 L494.00,183.77 L494.50,183.28 L495.00,182.75 L495.50,182.20 L496.00,181.60 L496.50,180.98 L497.00,180.31 L497.50,179.60 L498.00,178.85 L498.50,178.04 L499.00,177.19 L499.50,176.27 L500.00,175.30 L500.50,174.28 L501.00,173.20 L501.50,172.07 L502.00,170.90 L502.50,169.67 L503.00,168.40 L503.50,167.09 L504.00,165.74 L504.50,164.35 L505.00,162.92 L505.50,161.45 L506.00,159.95 L506.50,158.42 L507.00,156.86 L507.50,155.27 L508.00,153.65 L508.50,152.01 L509.00,150.35 L509.50,148.66 L510.00,146.95 L510.50,145.21 L511.00,143.46 L511.50,141.69 L512.00,139.90 L512.50,138.08 L513.00,136.26 L513.50,134.41 L514.00,132.55 L514.50,130.68 L515.00,128.79 L515.50,126.89 L516.00,124.99 L516.50,123.07 L517.00,121.15 L517.50,119.22 L518.00,117.29 L518.50,115.36 L519.00,113.43 L519.50,111.51 L520.00,109.59 L520.50,107.68 L521.00,105.79 L521.50,103.91 L522.00,102.05 L522.50,100.20 L523.00,98.38 L523.50,96.58 L524.00,94.81 L524.50,93.08 L525.00,91.37 L525.50,89.70 L526.00,88.06 L526.50,86.47 L527.00,84.92 L527.50,83.42 L528.00,81.97 L528.50,80.57 L529.00,79.22 L529.50,77.93 L530.00,76.70 L530.50,75.52 L531.00,74.41 L531.50,73.35 L532.00,72.36 L532.50,71.43 L533.00,70.57 L533.50,69.77 L534.00,69.03 L534.50,68.37 L535.00,67.76 L535.50,67.22 L536.00,66.75 L536.50,66.33 L537.00,65.99 L537.50,65.70 L538.00,65.48 L538.50,65.32 L539.00,65.23 L539.50,65.19 L540.00,65.21 L540.50,65.29 L541.00,65.43 L541.50,65.63 L542.00,65.88 L542.50,66.18 L543.00,66.54 L543.50,66.95 L544.00,67.41 L544.50,67.92 L545.00,68.47 L545.50,69.07 L546.00,69.71 L546.50,70.40 L547.00,71.12 L547.50,71.88 L548.00,72.67 L548.50,73.50 L549.00,74.35 L549.50,75.24 L550.00,76.15 L550.50,77.08 L551.00,78.03 L551.50,79.01 L552.00,80.00 L552.50,81.01 L553.00,82.04 L553.50,83.09 L554.00,84.14 L554.50,85.22 L555.00,86.30 L555.50,87.40 L556.00,88.50 L556.50,89.62 L557.00,90.76 L557.50,91.90 L558.00,93.06 L558.50,94.23 L559.00,95.41 L559.50,96.61 L560.00,97.81 L560.50,99.03 L561.00,100.26 L561.50,101.49 L562.00,102.72 L562.50,103.96 L563.00,105.20 L563.50,106.44 L564.00,107.68 L564.50,108.91 L565.00,110.14 L565.50,111.37 L566.00,112.59 L566.50,113.80 L567.00,115.00 L567.50,116.19 L568.00,117.37 L568.50,118.53 L569.00,119.68 L569.50,120.82 L570.00,121.93 L570.50,123.04 L571.00,124.12 L571.50,125.18 L572.00,126.23 L572.50,127.25 L573.00,128.25 L573.50,129.23 L574.00,130.19 L574.50,131.12 L575.00,132.03 L575.50,132.91 L576.00,133.77 L576.50,134.60 L577.00,135.42 L577.50,136.21 L578.00,136.98 L578.50,137.73 L579.00,138.46 L579.50,139.18 L580.00,139.87 L580.50,140.55 L581.00,141.21 L581.50,141.84 L582.00,142.46 L582.50,143.05 L583.00,143.63 L583.50,144.19 L584.00,144.72 L584.50,145.24 L585.00,145.73 L585.50,146.21 L586.00,146.67 L586.50,147.11 L587.00,147.53 L587.50,147.93 L588.00,148.32 L588.50,148.69 L589.00,149.05 L589.50,149.39 L590.00,149.71 L590.50,150.03 L591.00,150.33 L591.50,150.62 L592.00,150.90 L592.50,151.17 L593.00,151.44 L593.50,151.70 L594.00,151.95 L594.50,152.20 L595.00,152.45 L595.50,152.69 L596.00,152.94 L596.50,153.18 L597.00,153.42 L597.50,153.66 L598.00,153.90 L598.50,154.15 L599.00,154.39 L599.50,154.64 L600.00,154.89 L600.50,155.14 L601.00,155.39 L601.50,155.65 L602.00,155.91 L602.50,156.17 L603.00,156.44 L603.50,156.72 L604.00,156.99 L604.50,157.27 L605.00,157.56 L605.50,157.85 L606.00,158.15 L606.50,158.45 L607.00,158.75 L607.50,159.06 L608.00,159.37 L608.50,159.69 L609.00,160.01 L609.50,160.34 L610.00,160.67 L610.50,161.01 L611.00,161.35 L611.50,161.69 L612.00,162.04 L612.50,162.40 L613.00,162.76 L613.50,163.12 L614.00,163.49 L614.50,163.87 L615.00,164.25 L615.50,164.63 L616.00,165.02 L616.50,165.41 L617.00,165.80 L617.50,166.20 L618.00,166.59 L618.50,166.99 L619.00,167.38 L619.50,167.77 L620.00,168.16 L620.50,168.55 L621.00,168.94 L621.50,169.32 L622.00,169.70 L622.50,170.08 L623.00,170.45 L623.50,170.82 L624.00,171.18 L624.50,171.54 L625.00,171.90 L625.50,172.25 L626.00,172.60 L626.50,172.95 L627.00,173.29 L627.50,173.63 L628.00,173.97 L628.50,174.31 L629.00,174.65 L629.50,174.99 L630.00,175.32 L630.50,175.66 L631.00,176.00 L631.50,176.33 L632.00,176.67 L632.50,177.00 L633.00,177.34 L633.50,177.67 L634.00,178.01 L634.50,178.35 L635.00,178.68 L635.50,179.02 L636.00,179.36 L636.50,179.69 L637.00,180.03 L637.50,180.37 L638.00,180.71 L638.50,181.05 L639.00,181.38 L639.50,181.72" fill="none" stroke="#5c3e74" stroke-width="1.3" stroke-linejoin="round"/>
<path d="M389.00,191.60 L389.50,191.60 L390.00,191.60 L390.50,191.60 L391.00,191.60 L391.50,191.60 L392.00,191.60 L392.50,191.60 L393.00,191.60 L393.50,191.60 L394.00,191.60 L394.50,191.60 L395.00,191.60 L395.50,191.60 L396.00,191.60 L396.50,191.60 L397.00,191.60 L397.50,191.60 L398.00,191.60 L398.50,191.60 L399.00,191.60 L399.50,191.60 L400.00,191.60 L400.50,191.60 L401.00,191.60 L401.50,191.60 L402.00,191.60 L402.50,191.60 L403.00,191.60 L403.50,191.60 L404.00,191.60 L404.50,191.60 L405.00,191.60 L405.50,191.60 L406.00,191.60 L406.50,191.60 L407.00,191.60 L407.50,191.60 L408.00,191.60 L408.50,191.60 L409.00,191.60 L409.50,191.60 L410.00,191.60 L410.50,191.60 L411.00,191.60 L411.50,191.60 L412.00,191.60 L412.50,191.60 L413.00,191.60 L413.50,191.60 L414.00,191.60 L414.50,191.60 L415.00,191.60 L415.50,191.60 L416.00,191.60 L416.50,191.60 L417.00,191.60 L417.50,191.60 L418.00,191.60 L418.50,191.60 L419.00,191.60 L419.50,191.60 L420.00,191.60 L420.50,191.60 L421.00,191.60 L421.50,191.60 L422.00,191.60 L422.50,191.60 L423.00,191.60 L423.50,191.60 L424.00,191.60 L424.50,191.60 L425.00,191.60 L425.50,191.60 L426.00,191.60 L426.50,191.60 L427.00,191.60 L427.50,191.60 L428.00,191.60 L428.50,191.60 L429.00,191.60 L429.50,191.60 L430.00,191.60 L430.50,191.60 L431.00,191.60 L431.50,191.60 L432.00,191.60 L432.50,191.60 L433.00,191.60 L433.50,191.60 L434.00,191.60 L434.50,191.60 L435.00,191.60 L435.50,191.60 L436.00,191.60 L436.50,191.60 L437.00,191.60 L437.50,191.60 L438.00,191.60 L438.50,191.60 L439.00,191.60 L439.50,191.60 L440.00,191.60 L440.50,191.60 L441.00,191.60 L441.50,191.60 L442.00,191.60 L442.50,191.60 L443.00,191.60 L443.50,191.60 L444.00,191.60 L444.50,191.60 L445.00,191.60 L445.50,191.60 L446.00,191.60 L446.50,191.60 L447.00,191.60 L447.50,191.60 L448.00,191.60 L448.50,191.60 L449.00,191.60 L449.50,191.60 L450.00,191.60 L450.50,191.60 L451.00,191.60 L451.50,191.60 L452.00,191.60 L452.50,191.60 L453.00,191.60 L453.50,191.60 L454.00,191.60 L454.50,191.60 L455.00,191.60 L455.50,191.60 L456.00,191.60 L456.50,191.60 L457.00,191.60 L457.50,191.60 L458.00,191.60 L458.50,191.60 L459.00,191.60 L459.50,191.60 L460.00,191.60 L460.50,191.60 L461.00,191.60 L461.50,191.60 L462.00,191.60 L462.50,191.60 L463.00,191.60 L463.50,191.60 L464.00,191.60 L464.50,191.60 L465.00,191.60 L465.50,191.60 L466.00,191.60 L466.50,191.60 L467.00,191.60 L467.50,191.59 L468.00,191.59 L468.50,191.58 L469.00,191.58 L469.50,191.57 L470.00,191.56 L470.50,191.55 L471.00,191.54 L471.50,191.53 L472.00,191.52 L472.50,191.50 L473.00,191.49 L473.50,191.47 L474.00,191.46 L474.50,191.44 L475.00,191.42 L475.50,191.41 L476.00,191.39 L476.50,191.37 L477.00,191.36 L477.50,191.34 L478.00,191.32 L478.50,191.30 L479.00,191.28 L479.50,191.27 L480.00,191.25 L480.50,191.23 L481.00,191.21 L481.50,191.20 L482.00,191.18 L482.50,191.16 L483.00,191.14 L483.50,191.13 L484.00,191.11 L484.50,191.09 L485.00,191.08 L485.50,191.06 L486.00,191.04 L486.50,191.02 L487.00,191.00 L487.50,190.98 L488.00,190.96 L488.50,190.94 L489.00,190.92 L489.50,190.90 L490.00,190.87 L490.50,190.85 L491.00,190.82 L491.50,190.79 L492.00,190.76 L492.50,190.72 L493.00,190.68 L493.50,190.64 L494.00,190.60 L494.50,190.56 L495.00,190.51 L495.50,190.46 L496.00,190.41 L496.50,190.35 L497.00,190.29 L497.50,190.23 L498.00,190.16 L498.50,190.09 L499.00,190.02 L499.50,189.94 L500.00,189.85 L500.50,189.76 L501.00,189.67 L501.50,189.57 L502.00,189.46 L502.50,189.35 L503.00,189.24 L503.50,189.11 L504.00,188.98 L504.50,188.85 L505.00,188.71 L505.50,188.56 L506.00,188.41 L506.50,188.25 L507.00,188.08 L507.50,187.91 L508.00,187.72 L508.50,187.54 L509.00,187.34 L509.50,187.14 L510.00,186.93 L510.50,186.71 L511.00,186.48 L511.50,186.25 L512.00,186.01 L512.50,185.76 L513.00,185.50 L513.50,185.24 L514.00,184.97 L514.50,184.69 L515.00,184.40 L515.50,184.11 L516.00,183.80 L516.50,183.49 L517.00,183.18 L517.50,182.85 L518.00,182.51 L518.50,182.16 L519.00,181.81 L519.50,181.44 L520.00,181.06 L520.50,180.67 L521.00,180.27 L521.50,179.85 L522.00,179.41 L522.50,178.95 L523.00,178.48 L523.50,177.98 L524.00,177.46 L524.50,176.91 L525.00,176.34 L525.50,175.74 L526.00,175.11 L526.50,174.45 L527.00,173.75 L527.50,173.02 L528.00,172.25 L528.50,171.44 L529.00,170.58 L529.50,169.69 L530.00,168.75 L530.50,167.76 L531.00,166.73 L531.50,165.65 L532.00,164.53 L532.50,163.36 L533.00,162.13 L533.50,160.86 L534.00,159.54 L534.50,158.18 L535.00,156.79 L535.50,155.35 L536.00,153.88 L536.50,152.38 L537.00,150.86 L537.50,149.30 L538.00,147.73 L538.50,146.15 L539.00,144.56 L539.50,142.96 L540.00,141.36 L540.50,139.77 L541.00,138.18 L541.50,136.60 L542.00,135.03 L542.50,133.48 L543.00,131.94 L543.50,130.42 L544.00,128.91 L544.50,127.43 L545.00,125.96 L545.50,124.52 L546.00,123.10 L546.50,121.70 L547.00,120.32 L547.50,118.97 L548.00,117.64 L548.50,116.33 L549.00,115.06 L549.50,113.80 L550.00,112.58 L550.50,111.38 L551.00,110.21 L551.50,109.07 L552.00,107.96 L552.50,106.89 L553.00,105.85 L553.50,104.85 L554.00,103.88 L554.50,102.95 L555.00,102.06 L555.50,101.21 L556.00,100.40 L556.50,99.63 L557.00,98.92 L557.50,98.24 L558.00,97.62 L558.50,97.04 L559.00,96.52 L559.50,96.04 L560.00,95.61 L560.50,95.24 L561.00,94.92 L561.50,94.65 L562.00,94.44 L562.50,94.27 L563.00,94.16 L563.50,94.10 L564.00,94.09 L564.50,94.14 L565.00,94.23 L565.50,94.37 L566.00,94.56 L566.50,94.80 L567.00,95.09 L567.50,95.42 L568.00,95.79 L568.50,96.21 L569.00,96.66 L569.50,97.16 L570.00,97.69 L570.50,98.26 L571.00,98.87 L571.50,99.50 L572.00,100.18 L572.50,100.89 L573.00,101.62 L573.50,102.39 L574.00,103.19 L574.50,104.01 L575.00,104.86 L575.50,105.73 L576.00,106.62 L576.50,107.53 L577.00,108.46 L577.50,109.40 L578.00,110.36 L578.50,111.32 L579.00,112.29 L579.50,113.27 L580.00,114.25 L580.50,115.23 L581.00,116.21 L581.50,117.18 L582.00,118.16 L582.50,119.12 L583.00,120.08 L583.50,121.03 L584.00,121.96 L584.50,122.88 L585.00,123.79 L585.50,124.69 L586.00,125.57 L586.50,126.43 L587.00,127.29 L587.50,128.12 L588.00,128.95 L588.50,129.76 L589.00,130.55 L589.50,131.33 L590.00,132.10 L590.50,132.85 L591.00,133.58 L591.50,134.30 L592.00,135.00 L592.50,135.69 L593.00,136.35 L593.50,137.00 L594.00,137.63 L594.50,138.25 L595.00,138.84 L595.50,139.42 L596.00,139.97 L596.50,140.51 L597.00,141.03 L597.50,141.54 L598.00,142.02 L598.50,142.49 L599.00,142.93 L599.50,143.36 L600.00,143.77 L600.50,144.17 L601.00,144.54 L601.50,144.90 L602.00,145.24 L602.50,145.57 L603.00,145.88 L603.50,146.17 L604.00,146.45 L604.50,146.73 L605.00,146.99 L605.50,147.24 L606.00,147.48 L606.50,147.72 L607.00,147.95 L607.50,148.17 L608.00,148.39 L608.50,148.60 L609.00,148.80 L609.50,149.01 L610.00,149.20 L610.50,149.39 L611.00,149.58 L611.50,149.77 L612.00,149.95 L612.50,150.14 L613.00,150.32 L613.50,150.51 L614.00,150.69 L614.50,150.88 L615.00,151.06 L615.50,151.25 L616.00,151.43 L616.50,151.61 L617.00,151.79 L617.50,151.98 L618.00,152.16 L618.50,152.33 L619.00,152.51 L619.50,152.68 L620.00,152.85 L620.50,153.02 L621.00,153.18 L621.50,153.35 L622.00,153.51 L622.50,153.66 L623.00,153.82 L623.50,153.97 L624.00,154.13 L624.50,154.28 L625.00,154.43 L625.50,154.58 L626.00,154.73 L626.50,154.88 L627.00,155.03 L627.50,155.18 L628.00,155.33 L628.50,155.48 L629.00,155.63 L629.50,155.78 L630.00,155.94 L630.50,156.09 L631.00,156.24 L631.50,156.40 L632.00,156.56 L632.50,156.71 L633.00,156.87 L633.50,157.03 L634.00,157.19 L634.50,157.35 L635.00,157.51 L635.50,157.67 L636.00,157.83 L636.50,157.99 L637.00,158.15 L637.50,158.31 L638.00,158.47 L638.50,158.63 L639.00,158.79 L639.50,158.96" fill="none" stroke="#819c5e" stroke-width="1.3" stroke-linejoin="round"/></svg>
<text x="385" y="195.05" text-anchor="end" class="tk">0</text>
<text x="385" y="174.30" text-anchor="end" class="tk">0.5</text>
<text x="385" y="153.55" text-anchor="end" class="tk">1</text>
<text x="385" y="132.80" text-anchor="end" class="tk">1.5</text>
<text x="385" y="112.05" text-anchor="end" class="tk">2</text>
<text x="385" y="91.30" text-anchor="end" class="tk">2.5</text>
<text x="385" y="70.55" text-anchor="end" class="tk">3</text>
<text x="385" y="49.80" text-anchor="end" class="tk">3.5</text>
<text x="385" y="29.05" text-anchor="end" class="tk">4</text>
<text x="389.00" y="204.0" text-anchor="middle" class="tk">0</text>
<text x="453.25" y="204.0" text-anchor="middle" class="tk">50</text>
<text x="517.50" y="204.0" text-anchor="middle" class="tk">100</text>
<text x="581.75" y="204.0" text-anchor="middle" class="tk">150</text>
<text x="646.00" y="204.0" text-anchor="middle" class="tk">200</text>
<text x="517.5" y="216.1" text-anchor="middle" class="lb">Days</text>
<text x="517.5" y="21.3" text-anchor="middle" class="lb">(b)</text>
<text transform="translate(368.5,109.0) rotate(-90)" text-anchor="middle" class="lb">Prevalence</text>
<text x="389.6" y="24.5" class="tk" style="font-weight:normal;font-size:11.5px;stroke-width:0.25px">×</text>
<text x="397.0" y="23.4" class="tk">10</text>
<text x="407.4" y="18.7" class="tk" style="font-size:6.2px">6</text>
<rect x="60" y="256.6" width="257" height="165.39999999999998" fill="#fff"/>
<path d="M60,422 L317,422 M60,422 L60,256.6 M60,256.6 L317,256.6 M317,256.6 L317,422" stroke="#262626" stroke-width="1" fill="none" stroke-linecap="square"/>
<path d="M60.00,422 v-3 M60.00,256.6 v3 M124.25,422 v-3 M124.25,256.6 v3 M188.50,422 v-3 M188.50,256.6 v3 M252.75,422 v-3 M252.75,256.6 v3 M317.00,422 v-3 M317.00,256.6 v3 M60,422.00 h3 M317,422.00 h-3 M60,394.43 h3 M317,394.43 h-3 M60,366.87 h3 M317,366.87 h-3 M60,339.30 h3 M317,339.30 h-3 M60,311.73 h3 M317,311.73 h-3 M60,284.17 h3 M317,284.17 h-3 M60,256.60 h3 M317,256.60 h-3" stroke="#262626" stroke-width="1" fill="none"/>
<svg x="59.5" y="256.1" width="258" height="166.39999999999998" viewBox="59.5 256.1 258 166.39999999999998" overflow="hidden"><path d="M60.00,421.60 L60.50,421.60 L61.00,421.60 L61.50,421.60 L62.00,421.60 L62.50,421.60 L63.00,421.60 L63.50,421.60 L64.00,421.60 L64.50,421.60 L65.00,421.60 L65.50,421.60 L66.00,421.60 L66.50,421.60 L67.00,421.60 L67.50,421.60 L68.00,421.60 L68.50,421.60 L69.00,421.60 L69.50,421.60 L70.00,421.60 L70.50,421.60 L71.00,421.60 L71.50,421.60 L72.00,421.60 L72.50,421.60 L73.00,421.60 L73.50,421.60 L74.00,421.60 L74.50,421.60 L75.00,421.60 L75.50,421.60 L76.00,421.60 L76.50,421.60 L77.00,421.60 L77.50,421.60 L78.00,421.60 L78.50,421.60 L79.00,421.60 L79.50,421.60 L80.00,421.60 L80.50,421.60 L81.00,421.60 L81.50,421.60 L82.00,421.60 L82.50,421.60 L83.00,421.60 L83.50,421.60 L84.00,421.60 L84.50,421.60 L85.00,421.60 L85.50,421.60 L86.00,421.60 L86.50,421.60 L87.00,421.60 L87.50,421.60 L88.00,421.60 L88.50,421.60 L89.00,421.60 L89.50,421.60 L90.00,421.60 L90.50,421.60 L91.00,421.60 L91.50,421.60 L92.00,421.60 L92.50,421.60 L93.00,421.60 L93.50,421.59 L94.00,421.59 L94.50,421.59 L95.00,421.59 L95.50,421.59 L96.00,421.59 L96.50,421.59 L97.00,421.59 L97.50,421.59 L98.00,421.59 L98.50,421.59 L99.00,421.59 L99.50,421.59 L100.00,421.59 L100.50,421.59 L101.00,421.59 L101.50,421.59 L102.00,421.59 L102.50,421.59 L103.00,421.59 L103.50,421.59 L104.00,421.59 L104.50,421.59 L105.00,421.59 L105.50,421.59 L106.00,421.59 L106.50,421.59 L107.00,421.59 L107.50,421.59 L108.00,421.60 L108.50,421.60 L109.00,421.60 L109.50,421.60 L110.00,421.60 L110.50,421.60 L111.00,421.60 L111.50,421.60 L112.00,421.60 L112.50,421.60 L113.00,421.60 L113.50,421.60 L114.00,421.60 L114.50,421.60 L115.00,421.60 L115.50,421.60 L116.00,421.60 L116.50,421.60 L117.00,421.60 L117.50,421.60 L118.00,421.60 L118.50,421.60 L119.00,421.60 L119.50,421.60 L120.00,421.60 L120.50,421.60 L121.00,421.60 L121.50,421.60 L122.00,421.60 L122.50,421.60 L123.00,421.60 L123.50,421.60 L124.00,421.60 L124.50,421.60 L125.00,421.60 L125.50,421.60 L126.00,421.60 L126.50,421.60 L127.00,421.60 L127.50,421.60 L128.00,421.60 L128.50,421.60 L129.00,421.60 L129.50,421.60 L130.00,421.60 L130.50,421.60 L131.00,421.60 L131.50,421.60 L132.00,421.60 L132.50,421.60 L133.00,421.60 L133.50,421.60 L134.00,421.60 L134.50,421.60 L135.00,421.60 L135.50,421.60 L136.00,421.60 L136.50,421.60 L137.00,421.60 L137.50,421.59 L138.00,421.54 L138.50,421.49 L139.00,421.43 L139.50,421.37 L140.00,421.30 L140.50,421.22 L141.00,421.14 L141.50,421.05 L142.00,420.95 L142.50,420.84 L143.00,420.73 L143.50,420.60 L144.00,420.47 L144.50,420.32 L145.00,420.17 L145.50,420.00 L146.00,419.83 L146.50,419.64 L147.00,419.44 L147.50,419.22 L148.00,419.00 L148.50,418.76 L149.00,418.50 L149.50,418.23 L150.00,417.95 L150.50,417.65 L151.00,417.33 L151.50,417.00 L152.00,416.65 L152.50,416.29 L153.00,415.91 L153.50,415.50 L154.00,415.09 L154.50,414.65 L155.00,414.19 L155.50,413.71 L156.00,413.22 L156.50,412.70 L157.00,412.16 L157.50,411.60 L158.00,411.02 L158.50,410.42 L159.00,409.79 L159.50,409.15 L160.00,408.48 L160.50,407.79 L161.00,407.07 L161.50,406.33 L162.00,405.57 L162.50,404.79 L163.00,403.99 L163.50,403.16 L164.00,402.30 L164.50,401.43 L165.00,400.53 L165.50,399.61 L166.00,398.67 L166.50,397.71 L167.00,396.72 L167.50,395.72 L168.00,394.69 L168.50,393.64 L169.00,392.57 L169.50,391.48 L170.00,390.37 L170.50,389.25 L171.00,388.10 L171.50,386.94 L172.00,385.77 L172.50,384.58 L173.00,383.38 L173.50,382.16 L174.00,380.93 L174.50,379.69 L175.00,378.44 L175.50,377.18 L176.00,375.91 L176.50,374.63 L177.00,373.35 L177.50,372.07 L178.00,370.78 L178.50,369.48 L179.00,368.19 L179.50,366.89 L180.00,365.60 L180.50,364.31 L181.00,363.01 L181.50,361.72 L182.00,360.44 L182.50,359.16 L183.00,357.88 L183.50,356.61 L184.00,355.35 L184.50,354.09 L185.00,352.85 L185.50,351.61 L186.00,350.37 L186.50,349.15 L187.00,347.94 L187.50,346.74 L188.00,345.54 L188.50,344.36 L189.00,343.19 L189.50,342.02 L190.00,340.86 L190.50,339.72 L191.00,338.58 L191.50,337.46 L192.00,336.34 L192.50,335.23 L193.00,334.13 L193.50,333.04 L194.00,331.96 L194.50,330.89 L195.00,329.82 L195.50,328.77 L196.00,327.72 L196.50,326.68 L197.00,325.65 L197.50,324.63 L198.00,323.62 L198.50,322.62 L199.00,321.62 L199.50,320.63 L200.00,319.66 L200.50,318.69 L201.00,317.73 L201.50,316.78 L202.00,315.84 L202.50,314.90 L203.00,313.98 L203.50,313.07 L204.00,312.17 L204.50,311.28 L205.00,310.39 L205.50,309.52 L206.00,308.66 L206.50,307.81 L207.00,306.97 L207.50,306.14 L208.00,305.32 L208.50,304.51 L209.00,303.71 L209.50,302.92 L210.00,302.14 L210.50,301.38 L211.00,300.62 L211.50,299.87 L212.00,299.13 L212.50,298.41 L213.00,297.69 L213.50,296.98 L214.00,296.28 L214.50,295.59 L215.00,294.91 L215.50,294.24 L216.00,293.57 L216.50,292.92 L217.00,292.27 L217.50,291.63 L218.00,291.00 L218.50,290.38 L219.00,289.76 L219.50,289.15 L220.00,288.55 L220.50,287.95 L221.00,287.36 L221.50,286.78 L222.00,286.21 L222.50,285.64 L223.00,285.07 L223.50,284.51 L224.00,283.96 L224.50,283.42 L225.00,282.87 L225.50,282.34 L226.00,281.81 L226.50,281.28 L227.00,280.76 L227.50,280.25 L228.00,279.74 L228.50,279.23 L229.00,278.73 L229.50,278.24 L230.00,277.75 L230.50,277.26 L231.00,276.78 L231.50,276.30 L232.00,275.83 L232.50,275.36 L233.00,274.90 L233.50,274.45 L234.00,273.99 L234.50,273.55 L235.00,273.11 L235.50,272.67 L236.00,272.24 L236.50,271.81 L237.00,271.39 L237.50,270.98 L238.00,270.57 L238.50,270.16 L239.00,269.76 L239.50,269.37 L240.00,268.98 L240.50,268.60 L241.00,268.23 L241.50,267.86 L242.00,267.50 L242.50,267.14 L243.00,266.79 L243.50,266.45 L244.00,266.11 L244.50,265.78 L245.00,265.46 L245.50,265.14 L246.00,264.83 L246.50,264.53 L247.00,264.23 L247.50,263.94 L248.00,263.66 L248.50,263.38 L249.00,263.11 L249.50,262.85 L250.00,262.60 L250.50,262.35 L251.00,262.11 L251.50,261.88 L252.00,261.65 L252.50,261.43 L253.00,261.22 L253.50,261.01 L254.00,260.81 L254.50,260.62 L255.00,260.43 L255.50,260.25 L256.00,260.08 L256.50,259.91 L257.00,259.75 L257.50,259.60 L258.00,259.45 L258.50,259.31 L259.00,259.17 L259.50,259.04 L260.00,258.91 L260.50,258.79 L261.00,258.68 L261.50,258.56 L262.00,258.46 L262.50,258.36 L263.00,258.26 L263.50,258.17 L264.00,258.08 L264.50,258.00 L265.00,257.92 L265.50,257.84 L266.00,257.77 L266.50,257.70 L267.00,257.63 L267.50,257.57 L268.00,257.51 L268.50,257.46 L269.00,257.40 L269.50,257.35 L270.00,257.30 L270.50,257.26 L271.00,257.22 L271.50,257.17 L272.00,257.14 L272.50,257.10 L273.00,257.06 L273.50,257.03 L274.00,257.00 L274.50,256.97 L275.00,256.94 L275.50,256.91 L276.00,256.89 L276.50,256.86 L277.00,256.84 L277.50,256.82 L278.00,256.80 L278.50,256.78 L279.00,256.76 L279.50,256.74 L280.00,256.72 L280.50,256.71 L281.00,256.69 L281.50,256.68 L282.00,256.67 L282.50,256.65 L283.00,256.64 L283.50,256.63 L284.00,256.62 L284.50,256.61 L285.00,256.60 L285.50,256.60 L286.00,256.59 L286.50,256.58 L287.00,256.58 L287.50,256.57 L288.00,256.56 L288.50,256.56 L289.00,256.56 L289.50,256.55 L290.00,256.55 L290.50,256.54 L291.00,256.54 L291.50,256.54 L292.00,256.54 L292.50,256.53 L293.00,256.53 L293.50,256.53 L294.00,256.53 L294.50,256.53 L295.00,256.53 L295.50,256.52 L296.00,256.52 L296.50,256.52 L297.00,256.52 L297.50,256.52 L298.00,256.52 L298.50,256.52 L299.00,256.52 L299.50,256.52 L300.00,256.52 L300.50,256.52 L301.00,256.52 L301.50,256.52 L302.00,256.52 L302.50,256.51 L303.00,256.51 L303.50,256.51 L304.00,256.51 L304.50,256.51 L305.00,256.51 L305.50,256.51 L306.00,256.51 L306.50,256.51 L307.00,256.51 L307.50,256.51 L308.00,256.51 L308.50,256.51 L309.00,256.51 L309.50,256.51 L310.00,256.51 L310.50,256.50" fill="none" stroke="#2d6c94" stroke-width="1.3" stroke-linejoin="round"/>
<path d="M60.00,421.60 L60.50,421.60 L61.00,421.60 L61.50,421.60 L62.00,421.60 L62.50,421.60 L63.00,421.60 L63.50,421.60 L64.00,421.60 L64.50,421.60 L65.00,421.60 L65.50,421.60 L66.00,421.60 L66.50,421.60 L67.00,421.60 L67.50,421.60 L68.00,421.60 L68.50,421.60 L69.00,421.60 L69.50,421.60 L70.00,421.60 L70.50,421.60 L71.00,421.60 L71.50,421.60 L72.00,421.60 L72.50,421.60 L73.00,421.60 L73.50,421.60 L74.00,421.60 L74.50,421.60 L75.00,421.60 L75.50,421.60 L76.00,421.60 L76.50,421.60 L77.00,421.60 L77.50,421.60 L78.00,421.60 L78.50,421.60 L79.00,421.60 L79.50,421.60 L80.00,421.60 L80.50,421.60 L81.00,421.60 L81.50,421.60 L82.00,421.60 L82.50,421.60 L83.00,421.60 L83.50,421.60 L84.00,421.60 L84.50,421.60 L85.00,421.60 L85.50,421.60 L86.00,421.60 L86.50,421.60 L87.00,421.60 L87.50,421.60 L88.00,421.60 L88.50,421.60 L89.00,421.60 L89.50,421.60 L90.00,421.60 L90.50,421.60 L91.00,421.60 L91.50,421.60 L92.00,421.60 L92.50,421.60 L93.00,421.60 L93.50,421.60 L94.00,421.60 L94.50,421.60 L95.00,421.60 L95.50,421.60 L96.00,421.59 L96.50,421.59 L97.00,421.59 L97.50,421.59 L98.00,421.59 L98.50,421.59 L99.00,421.59 L99.50,421.59 L100.00,421.59 L100.50,421.59 L101.00,421.59 L101.50,421.59 L102.00,421.59 L102.50,421.59 L103.00,421.59 L103.50,421.59 L104.00,421.59 L104.50,421.59 L105.00,421.59 L105.50,421.59 L106.00,421.59 L106.50,421.59 L107.00,421.59 L107.50,421.59 L108.00,421.59 L108.50,421.59 L109.00,421.59 L109.50,421.59 L110.00,421.59 L110.50,421.59 L111.00,421.59 L111.50,421.59 L112.00,421.59 L112.50,421.59 L113.00,421.59 L113.50,421.60 L114.00,421.60 L114.50,421.60 L115.00,421.60 L115.50,421.60 L116.00,421.60 L116.50,421.60 L117.00,421.60 L117.50,421.60 L118.00,421.60 L118.50,421.60 L119.00,421.60 L119.50,421.60 L120.00,421.60 L120.50,421.60 L121.00,421.60 L121.50,421.60 L122.00,421.60 L122.50,421.60 L123.00,421.60 L123.50,421.60 L124.00,421.60 L124.50,421.60 L125.00,421.60 L125.50,421.60 L126.00,421.60 L126.50,421.60 L127.00,421.60 L127.50,421.60 L128.00,421.60 L128.50,421.60 L129.00,421.60 L129.50,421.60 L130.00,421.60 L130.50,421.60 L131.00,421.60 L131.50,421.60 L132.00,421.60 L132.50,421.60 L133.00,421.60 L133.50,421.60 L134.00,421.60 L134.50,421.60 L135.00,421.60 L135.50,421.60 L136.00,421.60 L136.50,421.60 L137.00,421.60 L137.50,421.60 L138.00,421.60 L138.50,421.60 L139.00,421.60 L139.50,421.60 L140.00,421.60 L140.50,421.60 L141.00,421.60 L141.50,421.60 L142.00,421.60 L142.50,421.60 L143.00,421.60 L143.50,421.58 L144.00,421.52 L144.50,421.46 L145.00,421.38 L145.50,421.31 L146.00,421.22 L146.50,421.13 L147.00,421.03 L147.50,420.92 L148.00,420.80 L148.50,420.67 L149.00,420.53 L149.50,420.38 L150.00,420.22 L150.50,420.05 L151.00,419.87 L151.50,419.68 L152.00,419.47 L152.50,419.25 L153.00,419.02 L153.50,418.77 L154.00,418.51 L154.50,418.24 L155.00,417.95 L155.50,417.64 L156.00,417.32 L156.50,416.98 L157.00,416.62 L157.50,416.24 L158.00,415.85 L158.50,415.44 L159.00,415.01 L159.50,414.56 L160.00,414.09 L160.50,413.60 L161.00,413.09 L161.50,412.56 L162.00,412.00 L162.50,411.42 L163.00,410.83 L163.50,410.20 L164.00,409.56 L164.50,408.89 L165.00,408.20 L165.50,407.48 L166.00,406.74 L166.50,405.98 L167.00,405.19 L167.50,404.38 L168.00,403.55 L168.50,402.69 L169.00,401.81 L169.50,400.90 L170.00,399.97 L170.50,399.02 L171.00,398.05 L171.50,397.05 L172.00,396.02 L172.50,394.98 L173.00,393.91 L173.50,392.83 L174.00,391.72 L174.50,390.59 L175.00,389.44 L175.50,388.28 L176.00,387.09 L176.50,385.89 L177.00,384.67 L177.50,383.44 L178.00,382.19 L178.50,380.93 L179.00,379.65 L179.50,378.37 L180.00,377.07 L180.50,375.77 L181.00,374.46 L181.50,373.14 L182.00,371.82 L182.50,370.49 L183.00,369.16 L183.50,367.83 L184.00,366.49 L184.50,365.16 L185.00,363.83 L185.50,362.51 L186.00,361.19 L186.50,359.87 L187.00,358.56 L187.50,357.26 L188.00,355.97 L188.50,354.69 L189.00,353.42 L189.50,352.16 L190.00,350.92 L190.50,349.69 L191.00,348.47 L191.50,347.26 L192.00,346.08 L192.50,344.90 L193.00,343.74 L193.50,342.59 L194.00,341.47 L194.50,340.35 L195.00,339.25 L195.50,338.17 L196.00,337.10 L196.50,336.05 L197.00,335.02 L197.50,334.00 L198.00,332.99 L198.50,332.00 L199.00,331.03 L199.50,330.07 L200.00,329.12 L200.50,328.19 L201.00,327.28 L201.50,326.38 L202.00,325.49 L202.50,324.62 L203.00,323.76 L203.50,322.92 L204.00,322.09 L204.50,321.27 L205.00,320.46 L205.50,319.67 L206.00,318.89 L206.50,318.11 L207.00,317.36 L207.50,316.61 L208.00,315.87 L208.50,315.14 L209.00,314.42 L209.50,313.71 L210.00,313.01 L210.50,312.32 L211.00,311.63 L211.50,310.95 L212.00,310.28 L212.50,309.62 L213.00,308.96 L213.50,308.31 L214.00,307.66 L214.50,307.02 L215.00,306.38 L215.50,305.75 L216.00,305.13 L216.50,304.50 L217.00,303.89 L217.50,303.27 L218.00,302.66 L218.50,302.06 L219.00,301.46 L219.50,300.86 L220.00,300.26 L220.50,299.67 L221.00,299.08 L221.50,298.50 L222.00,297.91 L222.50,297.33 L223.00,296.76 L223.50,296.18 L224.00,295.61 L224.50,295.04 L225.00,294.48 L225.50,293.92 L226.00,293.36 L226.50,292.80 L227.00,292.25 L227.50,291.70 L228.00,291.15 L228.50,290.61 L229.00,290.07 L229.50,289.53 L230.00,289.00 L230.50,288.47 L231.00,287.95 L231.50,287.42 L232.00,286.91 L232.50,286.39 L233.00,285.88 L233.50,285.38 L234.00,284.88 L234.50,284.38 L235.00,283.89 L235.50,283.40 L236.00,282.92 L236.50,282.45 L237.00,281.97 L237.50,281.51 L238.00,281.04 L238.50,280.59 L239.00,280.14 L239.50,279.69 L240.00,279.25 L240.50,278.81 L241.00,278.38 L241.50,277.96 L242.00,277.54 L242.50,277.12 L243.00,276.72 L243.50,276.31 L244.00,275.91 L244.50,275.52 L245.00,275.14 L245.50,274.76 L246.00,274.38 L246.50,274.01 L247.00,273.65 L247.50,273.29 L248.00,272.94 L248.50,272.59 L249.00,272.25 L249.50,271.91 L250.00,271.58 L250.50,271.26 L251.00,270.94 L251.50,270.63 L252.00,270.32 L252.50,270.02 L253.00,269.73 L253.50,269.44 L254.00,269.15 L254.50,268.88 L255.00,268.60 L255.50,268.34 L256.00,268.08 L256.50,267.82 L257.00,267.57 L257.50,267.33 L258.00,267.09 L258.50,266.86 L259.00,266.63 L259.50,266.41 L260.00,266.19 L260.50,265.98 L261.00,265.77 L261.50,265.57 L262.00,265.38 L262.50,265.19 L263.00,265.00 L263.50,264.82 L264.00,264.65 L264.50,264.48 L265.00,264.31 L265.50,264.15 L266.00,264.00 L266.50,263.85 L267.00,263.70 L267.50,263.56 L268.00,263.42 L268.50,263.29 L269.00,263.16 L269.50,263.04 L270.00,262.92 L270.50,262.81 L271.00,262.69 L271.50,262.59 L272.00,262.49 L272.50,262.39 L273.00,262.29 L273.50,262.20 L274.00,262.11 L274.50,262.03 L275.00,261.95 L275.50,261.87 L276.00,261.80 L276.50,261.72 L277.00,261.66 L277.50,261.59 L278.00,261.53 L278.50,261.47 L279.00,261.41 L279.50,261.36 L280.00,261.31 L280.50,261.26 L281.00,261.21 L281.50,261.17 L282.00,261.12 L282.50,261.08 L283.00,261.05 L283.50,261.01 L284.00,260.98 L284.50,260.95 L285.00,260.92 L285.50,260.89 L286.00,260.86 L286.50,260.84 L287.00,260.82 L287.50,260.80 L288.00,260.78 L288.50,260.76 L289.00,260.74 L289.50,260.72 L290.00,260.71 L290.50,260.69 L291.00,260.68 L291.50,260.67 L292.00,260.66 L292.50,260.65 L293.00,260.64 L293.50,260.63 L294.00,260.62 L294.50,260.61 L295.00,260.60 L295.50,260.59 L296.00,260.59 L296.50,260.58 L297.00,260.57 L297.50,260.57 L298.00,260.56 L298.50,260.55 L299.00,260.55 L299.50,260.54 L300.00,260.53 L300.50,260.53 L301.00,260.52 L301.50,260.52 L302.00,260.51 L302.50,260.51 L303.00,260.50 L303.50,260.49 L304.00,260.49 L304.50,260.48 L305.00,260.48 L305.50,260.47 L306.00,260.46 L306.50,260.46 L307.00,260.45 L307.50,260.45 L308.00,260.44 L308.50,260.44 L309.00,260.43 L309.50,260.42 L310.00,260.42 L310.50,260.41" fill="none" stroke="#ad684c" stroke-width="1.3" stroke-linejoin="round"/>
<path d="M60.00,421.60 L60.50,421.60 L61.00,421.60 L61.50,421.60 L62.00,421.60 L62.50,421.60 L63.00,421.60 L63.50,421.60 L64.00,421.60 L64.50,421.60 L65.00,421.60 L65.50,421.60 L66.00,421.60 L66.50,421.60 L67.00,421.60 L67.50,421.60 L68.00,421.60 L68.50,421.60 L69.00,421.60 L69.50,421.60 L70.00,421.60 L70.50,421.60 L71.00,421.60 L71.50,421.60 L72.00,421.60 L72.50,421.60 L73.00,421.60 L73.50,421.60 L74.00,421.60 L74.50,421.60 L75.00,421.60 L75.50,421.60 L76.00,421.60 L76.50,421.60 L77.00,421.60 L77.50,421.60 L78.00,421.60 L78.50,421.60 L79.00,421.60 L79.50,421.60 L80.00,421.60 L80.50,421.60 L81.00,421.60 L81.50,421.60 L82.00,421.60 L82.50,421.60 L83.00,421.60 L83.50,421.60 L84.00,421.60 L84.50,421.60 L85.00,421.60 L85.50,421.60 L86.00,421.60 L86.50,421.60 L87.00,421.60 L87.50,421.60 L88.00,421.60 L88.50,421.60 L89.00,421.60 L89.50,421.60 L90.00,421.60 L90.50,421.60 L91.00,421.60 L91.50,421.60 L92.00,421.60 L92.50,421.60 L93.00,421.60 L93.50,421.60 L94.00,421.60 L94.50,421.60 L95.00,421.60 L95.50,421.60 L96.00,421.60 L96.50,421.60 L97.00,421.60 L97.50,421.60 L98.00,421.60 L98.50,421.60 L99.00,421.60 L99.50,421.60 L100.00,421.60 L100.50,421.60 L101.00,421.60 L101.50,421.60 L102.00,421.60 L102.50,421.60 L103.00,421.60 L103.50,421.60 L104.00,421.60 L104.50,421.60 L105.00,421.60 L105.50,421.60 L106.00,421.60 L106.50,421.60 L107.00,421.60 L107.50,421.60 L108.00,421.60 L108.50,421.60 L109.00,421.60 L109.50,421.60 L110.00,421.60 L110.50,421.60 L111.00,421.60 L111.50,421.60 L112.00,421.60 L112.50,421.60 L113.00,421.60 L113.50,421.60 L114.00,421.60 L114.50,421.60 L115.00,421.60 L115.50,421.60 L116.00,421.60 L116.50,421.60 L117.00,421.60 L117.50,421.60 L118.00,421.60 L118.50,421.60 L119.00,421.60 L119.50,421.60 L120.00,421.60 L120.50,421.60 L121.00,421.60 L121.50,421.59 L122.00,421.59 L122.50,421.59 L123.00,421.59 L123.50,421.59 L124.00,421.58 L124.50,421.58 L125.00,421.58 L125.50,421.57 L126.00,421.57 L126.50,421.57 L127.00,421.56 L127.50,421.56 L128.00,421.55 L128.50,421.55 L129.00,421.54 L129.50,421.54 L130.00,421.53 L130.50,421.53 L131.00,421.52 L131.50,421.51 L132.00,421.51 L132.50,421.50 L133.00,421.50 L133.50,421.49 L134.00,421.48 L134.50,421.48 L135.00,421.47 L135.50,421.46 L136.00,421.46 L136.50,421.45 L137.00,421.44 L137.50,421.44 L138.00,421.43 L138.50,421.42 L139.00,421.41 L139.50,421.41 L140.00,421.40 L140.50,421.39 L141.00,421.38 L141.50,421.37 L142.00,421.36 L142.50,421.35 L143.00,421.33 L143.50,421.32 L144.00,421.31 L144.50,421.29 L145.00,421.27 L145.50,421.25 L146.00,421.23 L146.50,421.20 L147.00,421.17 L147.50,421.14 L148.00,421.10 L148.50,421.06 L149.00,421.02 L149.50,420.97 L150.00,420.92 L150.50,420.86 L151.00,420.79 L151.50,420.72 L152.00,420.64 L152.50,420.56 L153.00,420.46 L153.50,420.36 L154.00,420.25 L154.50,420.13 L155.00,420.00 L155.50,419.86 L156.00,419.71 L156.50,419.55 L157.00,419.38 L157.50,419.19 L158.00,418.99 L158.50,418.78 L159.00,418.55 L159.50,418.32 L160.00,418.06 L160.50,417.79 L161.00,417.51 L161.50,417.21 L162.00,416.90 L162.50,416.56 L163.00,416.21 L163.50,415.85 L164.00,415.46 L164.50,415.06 L165.00,414.63 L165.50,414.19 L166.00,413.72 L166.50,413.24 L167.00,412.73 L167.50,412.20 L168.00,411.64 L168.50,411.07 L169.00,410.46 L169.50,409.84 L170.00,409.19 L170.50,408.51 L171.00,407.81 L171.50,407.09 L172.00,406.34 L172.50,405.56 L173.00,404.76 L173.50,403.93 L174.00,403.08 L174.50,402.19 L175.00,401.29 L175.50,400.35 L176.00,399.39 L176.50,398.41 L177.00,397.39 L177.50,396.36 L178.00,395.29 L178.50,394.20 L179.00,393.09 L179.50,391.96 L180.00,390.80 L180.50,389.62 L181.00,388.42 L181.50,387.20 L182.00,385.97 L182.50,384.71 L183.00,383.44 L183.50,382.15 L184.00,380.86 L184.50,379.55 L185.00,378.22 L185.50,376.90 L186.00,375.56 L186.50,374.22 L187.00,372.88 L187.50,371.54 L188.00,370.20 L188.50,368.86 L189.00,367.53 L189.50,366.20 L190.00,364.88 L190.50,363.57 L191.00,362.27 L191.50,360.99 L192.00,359.71 L192.50,358.45 L193.00,357.21 L193.50,355.98 L194.00,354.77 L194.50,353.57 L195.00,352.40 L195.50,351.24 L196.00,350.10 L196.50,348.98 L197.00,347.89 L197.50,346.81 L198.00,345.76 L198.50,344.72 L199.00,343.71 L199.50,342.71 L200.00,341.74 L200.50,340.78 L201.00,339.85 L201.50,338.93 L202.00,338.04 L202.50,337.16 L203.00,336.30 L203.50,335.46 L204.00,334.63 L204.50,333.82 L205.00,333.03 L205.50,332.26 L206.00,331.50 L206.50,330.75 L207.00,330.02 L207.50,329.30 L208.00,328.60 L208.50,327.91 L209.00,327.23 L209.50,326.56 L210.00,325.90 L210.50,325.26 L211.00,324.62 L211.50,323.99 L212.00,323.38 L212.50,322.77 L213.00,322.17 L213.50,321.58 L214.00,320.99 L214.50,320.42 L215.00,319.85 L215.50,319.29 L216.00,318.73 L216.50,318.18 L217.00,317.64 L217.50,317.10 L218.00,316.57 L218.50,316.04 L219.00,315.52 L219.50,315.01 L220.00,314.50 L220.50,314.00 L221.00,313.50 L221.50,313.00 L222.00,312.51 L222.50,312.03 L223.00,311.54 L223.50,311.06 L224.00,310.59 L224.50,310.11 L225.00,309.64 L225.50,309.18 L226.00,308.71 L226.50,308.25 L227.00,307.79 L227.50,307.33 L228.00,306.87 L228.50,306.42 L229.00,305.96 L229.50,305.51 L230.00,305.06 L230.50,304.61 L231.00,304.16 L231.50,303.71 L232.00,303.26 L232.50,302.81 L233.00,302.37 L233.50,301.92 L234.00,301.48 L234.50,301.04 L235.00,300.59 L235.50,300.15 L236.00,299.71 L236.50,299.28 L237.00,298.84 L237.50,298.40 L238.00,297.97 L238.50,297.53 L239.00,297.10 L239.50,296.67 L240.00,296.24 L240.50,295.81 L241.00,295.38 L241.50,294.96 L242.00,294.54 L242.50,294.12 L243.00,293.70 L243.50,293.28 L244.00,292.86 L244.50,292.45 L245.00,292.04 L245.50,291.63 L246.00,291.22 L246.50,290.82 L247.00,290.41 L247.50,290.01 L248.00,289.61 L248.50,289.22 L249.00,288.82 L249.50,288.43 L250.00,288.04 L250.50,287.65 L251.00,287.26 L251.50,286.88 L252.00,286.50 L252.50,286.11 L253.00,285.74 L253.50,285.36 L254.00,284.98 L254.50,284.61 L255.00,284.24 L255.50,283.87 L256.00,283.51 L256.50,283.14 L257.00,282.78 L257.50,282.42 L258.00,282.06 L258.50,281.70 L259.00,281.34 L259.50,280.99 L260.00,280.64 L260.50,280.29 L261.00,279.94 L261.50,279.59 L262.00,279.25 L262.50,278.91 L263.00,278.57 L263.50,278.23 L264.00,277.89 L264.50,277.56 L265.00,277.23 L265.50,276.91 L266.00,276.58 L266.50,276.26 L267.00,275.95 L267.50,275.63 L268.00,275.32 L268.50,275.02 L269.00,274.72 L269.50,274.42 L270.00,274.13 L270.50,273.84 L271.00,273.56 L271.50,273.28 L272.00,273.00 L272.50,272.73 L273.00,272.47 L273.50,272.21 L274.00,271.95 L274.50,271.70 L275.00,271.46 L275.50,271.22 L276.00,270.99 L276.50,270.76 L277.00,270.53 L277.50,270.32 L278.00,270.10 L278.50,269.90 L279.00,269.70 L279.50,269.50 L280.00,269.31 L280.50,269.12 L281.00,268.94 L281.50,268.77 L282.00,268.60 L282.50,268.44 L283.00,268.28 L283.50,268.12 L284.00,267.97 L284.50,267.83 L285.00,267.69 L285.50,267.55 L286.00,267.42 L286.50,267.30 L287.00,267.18 L287.50,267.06 L288.00,266.95 L288.50,266.84 L289.00,266.74 L289.50,266.64 L290.00,266.54 L290.50,266.45 L291.00,266.36 L291.50,266.28 L292.00,266.20 L292.50,266.13 L293.00,266.05 L293.50,265.98 L294.00,265.92 L294.50,265.85 L295.00,265.79 L295.50,265.74 L296.00,265.68 L296.50,265.63 L297.00,265.58 L297.50,265.53 L298.00,265.48 L298.50,265.44 L299.00,265.39 L299.50,265.35 L300.00,265.31 L300.50,265.27 L301.00,265.23 L301.50,265.19 L302.00,265.16 L302.50,265.12 L303.00,265.08 L303.50,265.05 L304.00,265.02 L304.50,264.98 L305.00,264.95 L305.50,264.92 L306.00,264.89 L306.50,264.85 L307.00,264.82 L307.50,264.79 L308.00,264.76 L308.50,264.73 L309.00,264.70 L309.50,264.67 L310.00,264.64 L310.50,264.60" fill="none" stroke="#d8b95c" stroke-width="1.3" stroke-linejoin="round"/>
<path d="M60.00,421.60 L60.50,421.60 L61.00,421.60 L61.50,421.60 L62.00,421.60 L62.50,421.60 L63.00,421.60 L63.50,421.60 L64.00,421.60 L64.50,421.60 L65.00,421.60 L65.50,421.60 L66.00,421.60 L66.50,421.60 L67.00,421.60 L67.50,421.60 L68.00,421.60 L68.50,421.60 L69.00,421.60 L69.50,421.60 L70.00,421.60 L70.50,421.60 L71.00,421.60 L71.50,421.60 L72.00,421.60 L72.50,421.60 L73.00,421.60 L73.50,421.60 L74.00,421.60 L74.50,421.60 L75.00,421.60 L75.50,421.60 L76.00,421.60 L76.50,421.60 L77.00,421.60 L77.50,421.60 L78.00,421.60 L78.50,421.60 L79.00,421.60 L79.50,421.60 L80.00,421.60 L80.50,421.60 L81.00,421.60 L81.50,421.60 L82.00,421.60 L82.50,421.60 L83.00,421.60 L83.50,421.60 L84.00,421.60 L84.50,421.60 L85.00,421.60 L85.50,421.60 L86.00,421.60 L86.50,421.60 L87.00,421.60 L87.50,421.60 L88.00,421.60 L88.50,421.60 L89.00,421.60 L89.50,421.60 L90.00,421.60 L90.50,421.60 L91.00,421.60 L91.50,421.60 L92.00,421.60 L92.50,421.60 L93.00,421.60 L93.50,421.60 L94.00,421.60 L94.50,421.60 L95.00,421.60 L95.50,421.60 L96.00,421.60 L96.50,421.60 L97.00,421.60 L97.50,421.60 L98.00,421.60 L98.50,421.60 L99.00,421.60 L99.50,421.60 L100.00,421.60 L100.50,421.60 L101.00,421.60 L101.50,421.60 L102.00,421.60 L102.50,421.60 L103.00,421.60 L103.50,421.60 L104.00,421.60 L104.50,421.60 L105.00,421.60 L105.50,421.60 L106.00,421.60 L106.50,421.60 L107.00,421.60 L107.50,421.60 L108.00,421.60 L108.50,421.60 L109.00,421.60 L109.50,421.60 L110.00,421.60 L110.50,421.60 L111.00,421.60 L111.50,421.60 L112.00,421.60 L112.50,421.60 L113.00,421.60 L113.50,421.60 L114.00,421.60 L114.50,421.60 L115.00,421.60 L115.50,421.60 L116.00,421.60 L116.50,421.60 L117.00,421.60 L117.50,421.60 L118.00,421.60 L118.50,421.60 L119.00,421.60 L119.50,421.60 L120.00,421.60 L120.50,421.60 L121.00,421.60 L121.50,421.60 L122.00,421.60 L122.50,421.60 L123.00,421.60 L123.50,421.60 L124.00,421.60 L124.50,421.60 L125.00,421.60 L125.50,421.60 L126.00,421.60 L126.50,421.60 L127.00,421.60 L127.50,421.60 L128.00,421.60 L128.50,421.60 L129.00,421.60 L129.50,421.60 L130.00,421.60 L130.50,421.60 L131.00,421.60 L131.50,421.60 L132.00,421.60 L132.50,421.60 L133.00,421.60 L133.50,421.60 L134.00,421.60 L134.50,421.60 L135.00,421.60 L135.50,421.60 L136.00,421.60 L136.50,421.60 L137.00,421.60 L137.50,421.60 L138.00,421.60 L138.50,421.60 L139.00,421.60 L139.50,421.60 L140.00,421.60 L140.50,421.60 L141.00,421.60 L141.50,421.60 L142.00,421.60 L142.50,421.60 L143.00,421.60 L143.50,421.60 L144.00,421.60 L144.50,421.60 L145.00,421.60 L145.50,421.60 L146.00,421.60 L146.50,421.60 L147.00,421.60 L147.50,421.60 L148.00,421.60 L148.50,421.58 L149.00,421.56 L149.50,421.54 L150.00,421.52 L150.50,421.49 L151.00,421.46 L151.50,421.42 L152.00,421.39 L152.50,421.35 L153.00,421.30 L153.50,421.26 L154.00,421.20 L154.50,421.15 L155.00,421.09 L155.50,421.02 L156.00,420.95 L156.50,420.88 L157.00,420.80 L157.50,420.72 L158.00,420.63 L158.50,420.54 L159.00,420.44 L159.50,420.33 L160.00,420.22 L160.50,420.10 L161.00,419.98 L161.50,419.85 L162.00,419.71 L162.50,419.56 L163.00,419.41 L163.50,419.25 L164.00,419.08 L164.50,418.90 L165.00,418.72 L165.50,418.52 L166.00,418.32 L166.50,418.10 L167.00,417.88 L167.50,417.65 L168.00,417.40 L168.50,417.15 L169.00,416.88 L169.50,416.61 L170.00,416.32 L170.50,416.02 L171.00,415.71 L171.50,415.38 L172.00,415.04 L172.50,414.69 L173.00,414.33 L173.50,413.95 L174.00,413.55 L174.50,413.14 L175.00,412.72 L175.50,412.28 L176.00,411.82 L176.50,411.34 L177.00,410.85 L177.50,410.34 L178.00,409.82 L178.50,409.27 L179.00,408.71 L179.50,408.12 L180.00,407.52 L180.50,406.90 L181.00,406.26 L181.50,405.60 L182.00,404.92 L182.50,404.22 L183.00,403.50 L183.50,402.76 L184.00,402.00 L184.50,401.22 L185.00,400.43 L185.50,399.61 L186.00,398.77 L186.50,397.91 L187.00,397.03 L187.50,396.14 L188.00,395.22 L188.50,394.29 L189.00,393.34 L189.50,392.37 L190.00,391.39 L190.50,390.39 L191.00,389.37 L191.50,388.34 L192.00,387.30 L192.50,386.24 L193.00,385.17 L193.50,384.09 L194.00,383.00 L194.50,381.90 L195.00,380.79 L195.50,379.67 L196.00,378.54 L196.50,377.41 L197.00,376.27 L197.50,375.13 L198.00,373.98 L198.50,372.83 L199.00,371.69 L199.50,370.54 L200.00,369.39 L200.50,368.24 L201.00,367.10 L201.50,365.96 L202.00,364.82 L202.50,363.69 L203.00,362.56 L203.50,361.44 L204.00,360.33 L204.50,359.22 L205.00,358.13 L205.50,357.04 L206.00,355.96 L206.50,354.88 L207.00,353.82 L207.50,352.76 L208.00,351.72 L208.50,350.68 L209.00,349.65 L209.50,348.63 L210.00,347.62 L210.50,346.62 L211.00,345.63 L211.50,344.64 L212.00,343.66 L212.50,342.69 L213.00,341.72 L213.50,340.77 L214.00,339.82 L214.50,338.88 L215.00,337.95 L215.50,337.03 L216.00,336.12 L216.50,335.21 L217.00,334.31 L217.50,333.43 L218.00,332.55 L218.50,331.68 L219.00,330.82 L219.50,329.97 L220.00,329.13 L220.50,328.29 L221.00,327.47 L221.50,326.66 L222.00,325.86 L222.50,325.06 L223.00,324.28 L223.50,323.51 L224.00,322.74 L224.50,321.99 L225.00,321.25 L225.50,320.51 L226.00,319.79 L226.50,319.08 L227.00,318.38 L227.50,317.68 L228.00,317.00 L228.50,316.33 L229.00,315.67 L229.50,315.01 L230.00,314.37 L230.50,313.74 L231.00,313.11 L231.50,312.50 L232.00,311.89 L232.50,311.29 L233.00,310.70 L233.50,310.13 L234.00,309.55 L234.50,308.99 L235.00,308.44 L235.50,307.89 L236.00,307.35 L236.50,306.82 L237.00,306.30 L237.50,305.78 L238.00,305.27 L238.50,304.77 L239.00,304.27 L239.50,303.78 L240.00,303.30 L240.50,302.82 L241.00,302.35 L241.50,301.88 L242.00,301.43 L242.50,300.97 L243.00,300.52 L243.50,300.08 L244.00,299.64 L244.50,299.21 L245.00,298.78 L245.50,298.36 L246.00,297.95 L246.50,297.53 L247.00,297.13 L247.50,296.72 L248.00,296.32 L248.50,295.93 L249.00,295.54 L249.50,295.15 L250.00,294.77 L250.50,294.39 L251.00,294.01 L251.50,293.64 L252.00,293.27 L252.50,292.90 L253.00,292.54 L253.50,292.18 L254.00,291.83 L254.50,291.47 L255.00,291.12 L255.50,290.78 L256.00,290.43 L256.50,290.09 L257.00,289.75 L257.50,289.41 L258.00,289.08 L258.50,288.75 L259.00,288.42 L259.50,288.09 L260.00,287.77 L260.50,287.45 L261.00,287.13 L261.50,286.81 L262.00,286.50 L262.50,286.19 L263.00,285.88 L263.50,285.58 L264.00,285.27 L264.50,284.97 L265.00,284.67 L265.50,284.38 L266.00,284.08 L266.50,283.79 L267.00,283.51 L267.50,283.22 L268.00,282.94 L268.50,282.66 L269.00,282.38 L269.50,282.10 L270.00,281.83 L270.50,281.56 L271.00,281.29 L271.50,281.03 L272.00,280.76 L272.50,280.50 L273.00,280.25 L273.50,279.99 L274.00,279.74 L274.50,279.49 L275.00,279.25 L275.50,279.01 L276.00,278.77 L276.50,278.53 L277.00,278.30 L277.50,278.07 L278.00,277.85 L278.50,277.63 L279.00,277.41 L279.50,277.20 L280.00,276.99 L280.50,276.78 L281.00,276.58 L281.50,276.38 L282.00,276.18 L282.50,275.99 L283.00,275.80 L283.50,275.62 L284.00,275.44 L284.50,275.26 L285.00,275.09 L285.50,274.92 L286.00,274.75 L286.50,274.59 L287.00,274.43 L287.50,274.28 L288.00,274.13 L288.50,273.98 L289.00,273.84 L289.50,273.70 L290.00,273.56 L290.50,273.43 L291.00,273.30 L291.50,273.17 L292.00,273.05 L292.50,272.93 L293.00,272.81 L293.50,272.70 L294.00,272.59 L294.50,272.48 L295.00,272.38 L295.50,272.28 L296.00,272.18 L296.50,272.08 L297.00,271.99 L297.50,271.90 L298.00,271.81 L298.50,271.72 L299.00,271.64 L299.50,271.56 L300.00,271.48 L300.50,271.40 L301.00,271.32 L301.50,271.25 L302.00,271.18 L302.50,271.11 L303.00,271.04 L303.50,270.97 L304.00,270.90 L304.50,270.83 L305.00,270.77 L305.50,270.70 L306.00,270.64 L306.50,270.57 L307.00,270.51 L307.50,270.45 L308.00,270.38 L308.50,270.32 L309.00,270.26 L309.50,270.20 L310.00,270.14 L310.50,270.07" fill="none" stroke="#5c3e74" stroke-width="1.3" stroke-linejoin="round"/>
<path d="M60.00,421.60 L60.50,421.60 L61.00,421.60 L61.50,421.60 L62.00,421.60 L62.50,421.60 L63.00,421.60 L63.50,421.60 L64.00,421.60 L64.50,421.60 L65.00,421.60 L65.50,421.60 L66.00,421.60 L66.50,421.60 L67.00,421.60 L67.50,421.60 L68.00,421.60 L68.50,421.60 L69.00,421.60 L69.50,421.60 L70.00,421.60 L70.50,421.60 L71.00,421.60 L71.50,421.60 L72.00,421.60 L72.50,421.60 L73.00,421.60 L73.50,421.60 L74.00,421.60 L74.50,421.60 L75.00,421.60 L75.50,421.60 L76.00,421.60 L76.50,421.60 L77.00,421.60 L77.50,421.60 L78.00,421.60 L78.50,421.60 L79.00,421.60 L79.50,421.60 L80.00,421.60 L80.50,421.60 L81.00,421.60 L81.50,421.60 L82.00,421.60 L82.50,421.60 L83.00,421.60 L83.50,421.60 L84.00,421.60 L84.50,421.60 L85.00,421.60 L85.50,421.60 L86.00,421.60 L86.50,421.60 L87.00,421.60 L87.50,421.60 L88.00,421.60 L88.50,421.60 L89.00,421.60 L89.50,421.60 L90.00,421.60 L90.50,421.60 L91.00,421.60 L91.50,421.60 L92.00,421.60 L92.50,421.60 L93.00,421.60 L93.50,421.60 L94.00,421.60 L94.50,421.60 L95.00,421.60 L95.50,421.60 L96.00,421.60 L96.50,421.60 L97.00,421.60 L97.50,421.60 L98.00,421.60 L98.50,421.60 L99.00,421.60 L99.50,421.60 L100.00,421.60 L100.50,421.60 L101.00,421.60 L101.50,421.60 L102.00,421.60 L102.50,421.60 L103.00,421.60 L103.50,421.60 L104.00,421.60 L104.50,421.60 L105.00,421.60 L105.50,421.60 L106.00,421.60 L106.50,421.60 L107.00,421.60 L107.50,421.60 L108.00,421.60 L108.50,421.60 L109.00,421.60 L109.50,421.60 L110.00,421.60 L110.50,421.60 L111.00,421.60 L111.50,421.60 L112.00,421.60 L112.50,421.60 L113.00,421.60 L113.50,421.60 L114.00,421.60 L114.50,421.60 L115.00,421.60 L115.50,421.60 L116.00,421.60 L116.50,421.60 L117.00,421.60 L117.50,421.60 L118.00,421.60 L118.50,421.60 L119.00,421.60 L119.50,421.60 L120.00,421.60 L120.50,421.60 L121.00,421.60 L121.50,421.60 L122.00,421.60 L122.50,421.60 L123.00,421.60 L123.50,421.60 L124.00,421.60 L124.50,421.60 L125.00,421.60 L125.50,421.60 L126.00,421.60 L126.50,421.60 L127.00,421.60 L127.50,421.60 L128.00,421.60 L128.50,421.60 L129.00,421.60 L129.50,421.60 L130.00,421.60 L130.50,421.60 L131.00,421.60 L131.50,421.60 L132.00,421.60 L132.50,421.60 L133.00,421.60 L133.50,421.60 L134.00,421.60 L134.50,421.60 L135.00,421.60 L135.50,421.60 L136.00,421.60 L136.50,421.60 L137.00,421.60 L137.50,421.60 L138.00,421.60 L138.50,421.60 L139.00,421.60 L139.50,421.60 L140.00,421.60 L140.50,421.60 L141.00,421.60 L141.50,421.60 L142.00,421.60 L142.50,421.60 L143.00,421.60 L143.50,421.60 L144.00,421.60 L144.50,421.60 L145.00,421.60 L145.50,421.60 L146.00,421.60 L146.50,421.60 L147.00,421.60 L147.50,421.60 L148.00,421.60 L148.50,421.60 L149.00,421.60 L149.50,421.60 L150.00,421.60 L150.50,421.60 L151.00,421.60 L151.50,421.60 L152.00,421.60 L152.50,421.60 L153.00,421.60 L153.50,421.60 L154.00,421.60 L154.50,421.60 L155.00,421.60 L155.50,421.60 L156.00,421.60 L156.50,421.60 L157.00,421.60 L157.50,421.60 L158.00,421.60 L158.50,421.60 L159.00,421.60 L159.50,421.60 L160.00,421.60 L160.50,421.60 L161.00,421.60 L161.50,421.60 L162.00,421.60 L162.50,421.60 L163.00,421.59 L163.50,421.58 L164.00,421.57 L164.50,421.56 L165.00,421.55 L165.50,421.54 L166.00,421.53 L166.50,421.51 L167.00,421.50 L167.50,421.48 L168.00,421.46 L168.50,421.44 L169.00,421.42 L169.50,421.40 L170.00,421.37 L170.50,421.35 L171.00,421.32 L171.50,421.29 L172.00,421.26 L172.50,421.23 L173.00,421.20 L173.50,421.16 L174.00,421.12 L174.50,421.08 L175.00,421.04 L175.50,420.99 L176.00,420.95 L176.50,420.89 L177.00,420.84 L177.50,420.78 L178.00,420.72 L178.50,420.66 L179.00,420.59 L179.50,420.52 L180.00,420.44 L180.50,420.36 L181.00,420.27 L181.50,420.18 L182.00,420.09 L182.50,419.99 L183.00,419.89 L183.50,419.78 L184.00,419.66 L184.50,419.54 L185.00,419.41 L185.50,419.28 L186.00,419.14 L186.50,419.00 L187.00,418.84 L187.50,418.69 L188.00,418.52 L188.50,418.35 L189.00,418.16 L189.50,417.97 L190.00,417.78 L190.50,417.57 L191.00,417.35 L191.50,417.13 L192.00,416.89 L192.50,416.65 L193.00,416.39 L193.50,416.13 L194.00,415.85 L194.50,415.57 L195.00,415.27 L195.50,414.96 L196.00,414.64 L196.50,414.30 L197.00,413.96 L197.50,413.60 L198.00,413.23 L198.50,412.85 L199.00,412.46 L199.50,412.05 L200.00,411.63 L200.50,411.20 L201.00,410.75 L201.50,410.29 L202.00,409.82 L202.50,409.34 L203.00,408.84 L203.50,408.33 L204.00,407.81 L204.50,407.27 L205.00,406.72 L205.50,406.16 L206.00,405.58 L206.50,405.00 L207.00,404.40 L207.50,403.79 L208.00,403.17 L208.50,402.54 L209.00,401.89 L209.50,401.24 L210.00,400.57 L210.50,399.90 L211.00,399.21 L211.50,398.52 L212.00,397.81 L212.50,397.10 L213.00,396.38 L213.50,395.65 L214.00,394.91 L214.50,394.16 L215.00,393.41 L215.50,392.65 L216.00,391.88 L216.50,391.11 L217.00,390.33 L217.50,389.54 L218.00,388.75 L218.50,387.95 L219.00,387.14 L219.50,386.34 L220.00,385.52 L220.50,384.70 L221.00,383.88 L221.50,383.05 L222.00,382.22 L222.50,381.39 L223.00,380.55 L223.50,379.71 L224.00,378.87 L224.50,378.03 L225.00,377.18 L225.50,376.33 L226.00,375.48 L226.50,374.63 L227.00,373.77 L227.50,372.92 L228.00,372.07 L228.50,371.21 L229.00,370.36 L229.50,369.51 L230.00,368.66 L230.50,367.81 L231.00,366.96 L231.50,366.11 L232.00,365.27 L232.50,364.43 L233.00,363.60 L233.50,362.77 L234.00,361.95 L234.50,361.13 L235.00,360.32 L235.50,359.51 L236.00,358.71 L236.50,357.92 L237.00,357.13 L237.50,356.35 L238.00,355.58 L238.50,354.82 L239.00,354.07 L239.50,353.33 L240.00,352.60 L240.50,351.87 L241.00,351.16 L241.50,350.46 L242.00,349.76 L242.50,349.08 L243.00,348.41 L243.50,347.75 L244.00,347.10 L244.50,346.46 L245.00,345.83 L245.50,345.21 L246.00,344.60 L246.50,344.00 L247.00,343.41 L247.50,342.84 L248.00,342.27 L248.50,341.71 L249.00,341.17 L249.50,340.63 L250.00,340.10 L250.50,339.59 L251.00,339.08 L251.50,338.58 L252.00,338.09 L252.50,337.60 L253.00,337.13 L253.50,336.66 L254.00,336.20 L254.50,335.75 L255.00,335.30 L255.50,334.86 L256.00,334.42 L256.50,334.00 L257.00,333.57 L257.50,333.15 L258.00,332.74 L258.50,332.33 L259.00,331.92 L259.50,331.52 L260.00,331.12 L260.50,330.73 L261.00,330.33 L261.50,329.95 L262.00,329.56 L262.50,329.18 L263.00,328.80 L263.50,328.42 L264.00,328.04 L264.50,327.67 L265.00,327.30 L265.50,326.93 L266.00,326.56 L266.50,326.19 L267.00,325.83 L267.50,325.46 L268.00,325.10 L268.50,324.74 L269.00,324.38 L269.50,324.02 L270.00,323.66 L270.50,323.30 L271.00,322.94 L271.50,322.58 L272.00,322.23 L272.50,321.87 L273.00,321.52 L273.50,321.16 L274.00,320.81 L274.50,320.45 L275.00,320.10 L275.50,319.75 L276.00,319.40 L276.50,319.05 L277.00,318.70 L277.50,318.35 L278.00,318.00 L278.50,317.66 L279.00,317.31 L279.50,316.96 L280.00,316.62 L280.50,316.28 L281.00,315.94 L281.50,315.60 L282.00,315.26 L282.50,314.92 L283.00,314.58 L283.50,314.25 L284.00,313.91 L284.50,313.58 L285.00,313.25 L285.50,312.92 L286.00,312.60 L286.50,312.27 L287.00,311.95 L287.50,311.63 L288.00,311.31 L288.50,310.99 L289.00,310.68 L289.50,310.37 L290.00,310.06 L290.50,309.75 L291.00,309.44 L291.50,309.13 L292.00,308.83 L292.50,308.53 L293.00,308.23 L293.50,307.93 L294.00,307.64 L294.50,307.34 L295.00,307.05 L295.50,306.76 L296.00,306.47 L296.50,306.18 L297.00,305.90 L297.50,305.61 L298.00,305.33 L298.50,305.05 L299.00,304.77 L299.50,304.49 L300.00,304.22 L300.50,303.94 L301.00,303.67 L301.50,303.39 L302.00,303.12 L302.50,302.85 L303.00,302.58 L303.50,302.31 L304.00,302.04 L304.50,301.78 L305.00,301.51 L305.50,301.24 L306.00,300.98 L306.50,300.71 L307.00,300.44 L307.50,300.18 L308.00,299.91 L308.50,299.65 L309.00,299.38 L309.50,299.12 L310.00,298.85 L310.50,298.59" fill="none" stroke="#819c5e" stroke-width="1.3" stroke-linejoin="round"/></svg>
<text x="56" y="425.05" text-anchor="end" class="tk">0</text>
<text x="56" y="397.48" text-anchor="end" class="tk">2</text>
<text x="56" y="369.92" text-anchor="end" class="tk">4</text>
<text x="56" y="342.35" text-anchor="end" class="tk">6</text>
<text x="56" y="314.78" text-anchor="end" class="tk">8</text>
<text x="56" y="287.22" text-anchor="end" class="tk">10</text>
<text x="56" y="259.65" text-anchor="end" class="tk">12</text>
<text x="60.00" y="434.0" text-anchor="middle" class="tk">0</text>
<text x="124.25" y="434.0" text-anchor="middle" class="tk">50</text>
<text x="188.50" y="434.0" text-anchor="middle" class="tk">100</text>
<text x="252.75" y="434.0" text-anchor="middle" class="tk">150</text>
<text x="317.00" y="434.0" text-anchor="middle" class="tk">200</text>
<text x="188.5" y="446.1" text-anchor="middle" class="lb">Days</text>
<text x="188.5" y="251.90000000000003" text-anchor="middle" class="lb">(c)</text>
<text transform="translate(41.0,339.3) rotate(-90)" text-anchor="middle" class="lb">Cumulative Incidence</text>
<text x="60.6" y="255.10000000000002" class="tk" style="font-weight:normal;font-size:11.5px;stroke-width:0.25px">×</text>
<text x="68.0" y="254.00000000000003" class="tk">10</text>
<text x="78.4" y="249.3" class="tk" style="font-size:6.2px">6</text>
<rect x="389" y="256.6" width="257" height="165.39999999999998" fill="#fff"/>
<path d="M389,422 L646,422 M389,422 L389,256.6 M389,256.6 L646,256.6 M646,256.6 L646,422" stroke="#262626" stroke-width="1" fill="none" stroke-linecap="square"/>
<path d="M413.54,422 v-3 M413.54,256.6 v3 M439.37,422 v-3 M439.37,256.6 v3 M465.20,422 v-3 M465.20,256.6 v3 M491.03,422 v-3 M491.03,256.6 v3 M516.85,422 v-3 M516.85,256.6 v3 M542.68,422 v-3 M542.68,256.6 v3 M568.51,422 v-3 M568.51,256.6 v3 M594.34,422 v-3 M594.34,256.6 v3 M620.17,422 v-3 M620.17,256.6 v3 M646.00,422 v-3 M646.00,256.6 v3 M389,422.00 h3 M646,422.00 h-3 M389,388.92 h3 M646,388.92 h-3 M389,355.84 h3 M646,355.84 h-3 M389,322.76 h3 M646,322.76 h-3 M389,289.68 h3 M646,289.68 h-3" stroke="#262626" stroke-width="1" fill="none"/>
<svg x="388.5" y="256.1" width="258" height="166.39999999999998" viewBox="388.5 256.1 258 166.39999999999998" overflow="hidden"><path d="M412.30,1000.00 L415.70,324.10 L418.10,370.00 L421.10,341.30 L424.80,372.80 L428.60,345.50 L431.50,363.80 L434.50,354.90 L437.50,362.30 L441.20,352.70 L444.20,360.80 L446.40,354.90 L449.40,360.10 L453.10,357.90 L456.10,359.40 L459.10,357.70 L461.50,358.60 L461.50,358.15 L462.00,358.16 L462.50,358.17 L463.00,358.19 L463.50,358.21 L464.00,358.23 L464.50,358.26 L465.00,358.31 L465.50,358.36 L466.00,358.43 L466.50,358.50 L467.00,358.59 L467.50,358.70 L468.00,358.81 L468.50,358.94 L469.00,359.09 L469.50,359.24 L470.00,359.42 L470.50,359.60 L471.00,359.81 L471.50,360.02 L472.00,360.25 L472.50,360.50 L473.00,360.76 L473.50,361.03 L474.00,361.32 L474.50,361.61 L475.00,361.92 L475.50,362.24 L476.00,362.56 L476.50,362.89 L477.00,363.24 L477.50,363.59 L478.00,363.95 L478.50,364.31 L479.00,364.68 L479.50,365.07 L480.00,365.46 L480.50,365.85 L481.00,366.26 L481.50,366.68 L482.00,367.11 L482.50,367.54 L483.00,368.00 L483.50,368.46 L484.00,368.95 L484.50,369.44 L485.00,369.96 L485.50,370.50 L486.00,371.06 L486.50,371.63 L487.00,372.24 L487.50,372.86 L488.00,373.51 L488.50,374.18 L489.00,374.88 L489.50,375.60 L490.00,376.35 L490.50,377.13 L491.00,377.93 L491.50,378.76 L492.00,379.62 L492.50,380.50 L493.00,381.41 L493.50,382.34 L494.00,383.29 L494.50,384.27 L495.00,385.27 L495.50,386.28 L496.00,387.31 L496.50,388.35 L497.00,389.39 L497.50,390.44 L498.00,391.49 L498.50,392.53 L499.00,393.56 L499.50,394.58 L500.00,395.58 L500.50,396.57 L501.00,397.53 L501.50,398.47 L502.00,399.39 L502.50,400.27 L503.00,401.13 L503.50,401.94 L504.00,402.73 L504.50,403.47 L505.00,404.18 L505.50,404.86 L506.00,405.50 L506.50,406.10 L507.00,406.67 L507.50,407.21 L508.00,407.71 L508.50,408.18 L509.00,408.62 L509.50,409.03 L510.00,409.40 L510.50,409.75 L511.00,410.07 L511.50,410.37 L512.00,410.65 L512.50,410.90 L513.00,411.14 L513.50,411.36 L514.00,411.57 L514.50,411.76 L515.00,411.94 L515.50,412.11 L516.00,412.27 L516.50,412.42 L517.00,412.57 L517.50,412.70 L518.00,412.84 L518.50,412.96 L519.00,413.09 L519.50,413.21 L520.00,413.32 L520.50,413.44 L521.00,413.55 L521.50,413.67 L522.00,413.78 L522.50,413.89 L523.00,414.00 L523.50,414.11 L524.00,414.22 L524.50,414.33 L525.00,414.45 L525.50,414.56 L526.00,414.67 L526.50,414.78 L527.00,414.89 L527.50,415.00 L528.00,415.11 L528.50,415.22 L529.00,415.33 L529.50,415.44 L530.00,415.55 L530.50,415.66 L531.00,415.77 L531.50,415.88 L532.00,415.99 L532.50,416.09 L533.00,416.19 L533.50,416.30 L534.00,416.40 L534.50,416.50 L535.00,416.60 L535.50,416.69 L536.00,416.78 L536.50,416.87 L537.00,416.96 L537.50,417.04 L538.00,417.12 L538.50,417.20 L539.00,417.27 L539.50,417.34 L540.00,417.41 L540.50,417.48 L541.00,417.54 L541.50,417.60 L542.00,417.66 L542.50,417.72 L543.00,417.78 L543.50,417.83 L544.00,417.89 L544.50,417.94 L545.00,417.99 L545.50,418.05 L546.00,418.10 L546.50,418.15 L547.00,418.20 L547.50,418.25 L548.00,418.30 L548.50,418.35 L549.00,418.40 L549.50,418.45 L550.00,418.50 L550.50,418.55 L551.00,418.60 L551.50,418.65 L552.00,418.70 L552.50,418.75 L553.00,418.80 L553.50,418.84 L554.00,418.89 L554.50,418.93 L555.00,418.98 L555.50,419.02 L556.00,419.06 L556.50,419.10 L557.00,419.14 L557.50,419.18 L558.00,419.21 L558.50,419.25 L559.00,419.28 L559.50,419.31 L560.00,419.34 L560.50,419.37 L561.00,419.40 L561.50,419.42 L562.00,419.45 L562.50,419.47 L563.00,419.50 L563.50,419.52 L564.00,419.55 L564.50,419.57 L565.00,419.59 L565.50,419.61 L566.00,419.63 L566.50,419.65 L567.00,419.67 L567.50,419.69 L568.00,419.71 L568.50,419.73 L569.00,419.74 L569.50,419.76 L570.00,419.77 L570.50,419.79 L571.00,419.80 L571.50,419.81 L572.00,419.83 L572.50,419.84 L573.00,419.85 L573.50,419.86 L574.00,419.87 L574.50,419.88 L575.00,419.89 L575.50,419.90 L576.00,419.91 L576.50,419.92 L577.00,419.92 L577.50,419.93 L578.00,419.94 L578.50,419.95 L579.00,419.96 L579.50,419.96 L580.00,419.97 L580.50,419.98 L581.00,419.99 L581.50,420.00 L582.00,420.00 L582.50,420.01 L583.00,420.02 L583.50,420.03 L584.00,420.03 L584.50,420.04 L585.00,420.05 L585.50,420.06 L586.00,420.07 L586.50,420.08 L587.00,420.08 L587.50,420.09 L588.00,420.10 L588.50,420.11 L589.00,420.12 L589.50,420.13 L590.00,420.14 L590.50,420.14 L591.00,420.15 L591.50,420.16 L592.00,420.17 L592.50,420.18 L593.00,420.19 L593.50,420.19 L594.00,420.20 L594.50,420.21 L595.00,420.22 L595.50,420.23 L596.00,420.23 L596.50,420.24 L597.00,420.25 L597.50,420.26 L598.00,420.26 L598.50,420.27 L599.00,420.28 L599.50,420.28 L600.00,420.29 L600.50,420.29 L601.00,420.30 L601.50,420.30 L602.00,420.31 L602.50,420.31 L603.00,420.31 L603.50,420.32 L604.00,420.32 L604.50,420.32 L605.00,420.33 L605.50,420.33 L606.00,420.33 L606.50,420.34 L607.00,420.34 L607.50,420.34 L608.00,420.34 L608.50,420.35 L609.00,420.35 L609.50,420.35 L610.00,420.35 L610.50,420.36 L611.00,420.36 L611.50,420.36 L612.00,420.36 L612.50,420.36 L613.00,420.37 L613.50,420.37 L614.00,420.37 L614.50,420.37 L615.00,420.38 L615.50,420.38 L616.00,420.38 L616.50,420.38 L617.00,420.39 L617.50,420.39 L618.00,420.39 L618.50,420.39 L619.00,420.40 L619.50,420.40 L620.00,420.40 L620.50,420.40 L621.00,420.41 L621.50,420.41 L622.00,420.41 L622.50,420.41 L623.00,420.42 L623.50,420.42 L624.00,420.42 L624.50,420.42 L625.00,420.43 L625.50,420.43 L626.00,420.43 L626.50,420.43 L627.00,420.44 L627.50,420.44 L628.00,420.44 L628.50,420.44 L629.00,420.45 L629.50,420.45 L630.00,420.45 L630.50,420.45 L631.00,420.46 L631.50,420.46 L632.00,420.46 L632.50,420.46 L633.00,420.47 L633.50,420.47 L634.00,420.47 L634.50,420.47 L635.00,420.48 L635.50,420.48 L636.00,420.48 L636.50,420.48 L637.00,420.49 L637.50,420.49 L638.00,420.49 L638.50,420.49 L639.00,420.50 L639.50,420.50" fill="none" stroke="#2d6c94" stroke-width="1.3" stroke-linejoin="round"/>
<path d="M405.80,1000.00 L407.10,264.70 L409.50,400.00 L412.20,352.00 L413.50,392.00 L415.00,340.40 L417.00,378.00 L418.90,347.40 L421.00,372.00 L423.30,355.00 L425.50,370.00 L427.50,358.00 L430.00,368.00 L432.50,360.00 L435.00,367.00 L437.50,361.00 L440.00,366.00 L443.00,362.00 L446.00,366.00 L449.00,362.50 L452.00,365.50 L455.00,362.80 L458.00,365.30 L461.00,363.50 L461.00,363.57 L461.50,363.67 L462.00,363.78 L462.50,363.88 L463.00,363.98 L463.50,364.09 L464.00,364.19 L464.50,364.29 L465.00,364.38 L465.50,364.48 L466.00,364.57 L466.50,364.67 L467.00,364.76 L467.50,364.85 L468.00,364.93 L468.50,365.02 L469.00,365.11 L469.50,365.20 L470.00,365.28 L470.50,365.37 L471.00,365.46 L471.50,365.55 L472.00,365.64 L472.50,365.73 L473.00,365.83 L473.50,365.93 L474.00,366.04 L474.50,366.14 L475.00,366.26 L475.50,366.38 L476.00,366.50 L476.50,366.63 L477.00,366.77 L477.50,366.92 L478.00,367.08 L478.50,367.25 L479.00,367.42 L479.50,367.61 L480.00,367.81 L480.50,368.03 L481.00,368.25 L481.50,368.48 L482.00,368.73 L482.50,368.98 L483.00,369.25 L483.50,369.53 L484.00,369.83 L484.50,370.14 L485.00,370.46 L485.50,370.80 L486.00,371.15 L486.50,371.51 L487.00,371.89 L487.50,372.28 L488.00,372.68 L488.50,373.10 L489.00,373.52 L489.50,373.96 L490.00,374.42 L490.50,374.88 L491.00,375.36 L491.50,375.85 L492.00,376.36 L492.50,376.88 L493.00,377.41 L493.50,377.96 L494.00,378.52 L494.50,379.10 L495.00,379.69 L495.50,380.30 L496.00,380.94 L496.50,381.58 L497.00,382.25 L497.50,382.94 L498.00,383.65 L498.50,384.38 L499.00,385.12 L499.50,385.87 L500.00,386.64 L500.50,387.41 L501.00,388.20 L501.50,388.99 L502.00,389.78 L502.50,390.57 L503.00,391.37 L503.50,392.16 L504.00,392.94 L504.50,393.73 L505.00,394.50 L505.50,395.26 L506.00,396.02 L506.50,396.76 L507.00,397.49 L507.50,398.21 L508.00,398.91 L508.50,399.59 L509.00,400.26 L509.50,400.90 L510.00,401.53 L510.50,402.14 L511.00,402.73 L511.50,403.30 L512.00,403.86 L512.50,404.39 L513.00,404.91 L513.50,405.41 L514.00,405.89 L514.50,406.36 L515.00,406.80 L515.50,407.23 L516.00,407.65 L516.50,408.04 L517.00,408.42 L517.50,408.78 L518.00,409.12 L518.50,409.45 L519.00,409.76 L519.50,410.06 L520.00,410.34 L520.50,410.62 L521.00,410.88 L521.50,411.14 L522.00,411.38 L522.50,411.62 L523.00,411.85 L523.50,412.07 L524.00,412.28 L524.50,412.48 L525.00,412.68 L525.50,412.86 L526.00,413.05 L526.50,413.22 L527.00,413.38 L527.50,413.54 L528.00,413.70 L528.50,413.85 L529.00,413.99 L529.50,414.13 L530.00,414.27 L530.50,414.40 L531.00,414.53 L531.50,414.65 L532.00,414.78 L532.50,414.90 L533.00,415.02 L533.50,415.13 L534.00,415.24 L534.50,415.36 L535.00,415.46 L535.50,415.57 L536.00,415.67 L536.50,415.77 L537.00,415.87 L537.50,415.97 L538.00,416.06 L538.50,416.15 L539.00,416.23 L539.50,416.32 L540.00,416.40 L540.50,416.48 L541.00,416.55 L541.50,416.63 L542.00,416.70 L542.50,416.78 L543.00,416.85 L543.50,416.92 L544.00,416.99 L544.50,417.05 L545.00,417.12 L545.50,417.19 L546.00,417.26 L546.50,417.32 L547.00,417.39 L547.50,417.45 L548.00,417.52 L548.50,417.58 L549.00,417.64 L549.50,417.71 L550.00,417.77 L550.50,417.83 L551.00,417.89 L551.50,417.95 L552.00,418.01 L552.50,418.06 L553.00,418.12 L553.50,418.17 L554.00,418.22 L554.50,418.27 L555.00,418.32 L555.50,418.37 L556.00,418.41 L556.50,418.46 L557.00,418.50 L557.50,418.54 L558.00,418.58 L558.50,418.62 L559.00,418.66 L559.50,418.69 L560.00,418.73 L560.50,418.77 L561.00,418.80 L561.50,418.84 L562.00,418.87 L562.50,418.91 L563.00,418.94 L563.50,418.97 L564.00,419.01 L564.50,419.04 L565.00,419.07 L565.50,419.10 L566.00,419.14 L566.50,419.17 L567.00,419.20 L567.50,419.23 L568.00,419.25 L568.50,419.28 L569.00,419.31 L569.50,419.33 L570.00,419.36 L570.50,419.38 L571.00,419.40 L571.50,419.42 L572.00,419.44 L572.50,419.46 L573.00,419.48 L573.50,419.49 L574.00,419.51 L574.50,419.53 L575.00,419.54 L575.50,419.56 L576.00,419.57 L576.50,419.58 L577.00,419.60 L577.50,419.61 L578.00,419.62 L578.50,419.64 L579.00,419.65 L579.50,419.66 L580.00,419.67 L580.50,419.69 L581.00,419.70 L581.50,419.71 L582.00,419.72 L582.50,419.74 L583.00,419.75 L583.50,419.76 L584.00,419.78 L584.50,419.79 L585.00,419.80 L585.50,419.82 L586.00,419.83 L586.50,419.84 L587.00,419.86 L587.50,419.87 L588.00,419.88 L588.50,419.90 L589.00,419.91 L589.50,419.92 L590.00,419.94 L590.50,419.95 L591.00,419.96 L591.50,419.98 L592.00,419.99 L592.50,420.00 L593.00,420.02 L593.50,420.03 L594.00,420.04 L594.50,420.06 L595.00,420.07 L595.50,420.08 L596.00,420.10 L596.50,420.11 L597.00,420.12 L597.50,420.13 L598.00,420.14 L598.50,420.15 L599.00,420.16 L599.50,420.17 L600.00,420.18 L600.50,420.19 L601.00,420.20 L601.50,420.20 L602.00,420.21 L602.50,420.22 L603.00,420.22 L603.50,420.23 L604.00,420.23 L604.50,420.24 L605.00,420.24 L605.50,420.25 L606.00,420.25 L606.50,420.25 L607.00,420.26 L607.50,420.26 L608.00,420.27 L608.50,420.27 L609.00,420.27 L609.50,420.28 L610.00,420.28 L610.50,420.28 L611.00,420.29 L611.50,420.29 L612.00,420.29 L612.50,420.30 L613.00,420.30 L613.50,420.30 L614.00,420.31 L614.50,420.31 L615.00,420.31 L615.50,420.32 L616.00,420.32 L616.50,420.33 L617.00,420.33 L617.50,420.33 L618.00,420.34 L618.50,420.34 L619.00,420.34 L619.50,420.35 L620.00,420.35 L620.50,420.36 L621.00,420.36 L621.50,420.36 L622.00,420.37 L622.50,420.37 L623.00,420.37 L623.50,420.38 L624.00,420.38 L624.50,420.39 L625.00,420.39 L625.50,420.39 L626.00,420.40 L626.50,420.40 L627.00,420.40 L627.50,420.41 L628.00,420.41 L628.50,420.42 L629.00,420.42 L629.50,420.42 L630.00,420.43 L630.50,420.43 L631.00,420.44 L631.50,420.44 L632.00,420.44 L632.50,420.45 L633.00,420.45 L633.50,420.45 L634.00,420.46 L634.50,420.46 L635.00,420.47 L635.50,420.47 L636.00,420.47 L636.50,420.48 L637.00,420.48 L637.50,420.48 L638.00,420.49 L638.50,420.49 L639.00,420.50 L639.50,420.50" fill="none" stroke="#ad684c" stroke-width="1.3" stroke-linejoin="round"/>
<path d="M388.60,-600.00 L390.40,1000.00 L408.00,1000.00 L409.20,299.20 L411.50,407.00 L414.00,345.00 L416.50,385.00 L419.50,352.00 L422.00,378.00 L425.00,356.00 L428.00,372.00 L431.00,359.00 L434.00,369.00 L437.00,362.00 L440.00,368.00 L443.00,363.00 L446.00,367.50 L449.00,364.00 L452.00,367.00 L455.00,364.50 L458.00,367.00 L461.00,365.50 L461.00,365.53 L461.50,365.58 L462.00,365.63 L462.50,365.68 L463.00,365.72 L463.50,365.77 L464.00,365.82 L464.50,365.86 L465.00,365.91 L465.50,365.95 L466.00,366.00 L466.50,366.04 L467.00,366.08 L467.50,366.13 L468.00,366.17 L468.50,366.21 L469.00,366.26 L469.50,366.30 L470.00,366.35 L470.50,366.40 L471.00,366.45 L471.50,366.51 L472.00,366.56 L472.50,366.63 L473.00,366.70 L473.50,366.77 L474.00,366.85 L474.50,366.94 L475.00,367.03 L475.50,367.14 L476.00,367.25 L476.50,367.37 L477.00,367.50 L477.50,367.65 L478.00,367.80 L478.50,367.97 L479.00,368.15 L479.50,368.34 L480.00,368.55 L480.50,368.77 L481.00,368.99 L481.50,369.23 L482.00,369.48 L482.50,369.73 L483.00,369.99 L483.50,370.27 L484.00,370.55 L484.50,370.83 L485.00,371.13 L485.50,371.43 L486.00,371.74 L486.50,372.06 L487.00,372.39 L487.50,372.73 L488.00,373.07 L488.50,373.43 L489.00,373.79 L489.50,374.16 L490.00,374.54 L490.50,374.94 L491.00,375.34 L491.50,375.75 L492.00,376.17 L492.50,376.60 L493.00,377.04 L493.50,377.49 L494.00,377.95 L494.50,378.42 L495.00,378.91 L495.50,379.40 L496.00,379.90 L496.50,380.42 L497.00,380.95 L497.50,381.49 L498.00,382.04 L498.50,382.60 L499.00,383.18 L499.50,383.76 L500.00,384.36 L500.50,384.96 L501.00,385.57 L501.50,386.18 L502.00,386.81 L502.50,387.43 L503.00,388.07 L503.50,388.71 L504.00,389.36 L504.50,390.01 L505.00,390.67 L505.50,391.33 L506.00,392.00 L506.50,392.67 L507.00,393.35 L507.50,394.03 L508.00,394.70 L508.50,395.38 L509.00,396.05 L509.50,396.72 L510.00,397.38 L510.50,398.04 L511.00,398.69 L511.50,399.33 L512.00,399.96 L512.50,400.57 L513.00,401.17 L513.50,401.76 L514.00,402.33 L514.50,402.88 L515.00,403.41 L515.50,403.93 L516.00,404.43 L516.50,404.92 L517.00,405.39 L517.50,405.85 L518.00,406.29 L518.50,406.71 L519.00,407.13 L519.50,407.53 L520.00,407.92 L520.50,408.29 L521.00,408.65 L521.50,409.00 L522.00,409.34 L522.50,409.66 L523.00,409.98 L523.50,410.27 L524.00,410.56 L524.50,410.84 L525.00,411.10 L525.50,411.36 L526.00,411.61 L526.50,411.84 L527.00,412.08 L527.50,412.30 L528.00,412.52 L528.50,412.73 L529.00,412.94 L529.50,413.14 L530.00,413.33 L530.50,413.52 L531.00,413.71 L531.50,413.89 L532.00,414.06 L532.50,414.23 L533.00,414.39 L533.50,414.55 L534.00,414.70 L534.50,414.85 L535.00,414.99 L535.50,415.13 L536.00,415.26 L536.50,415.39 L537.00,415.52 L537.50,415.64 L538.00,415.76 L538.50,415.88 L539.00,415.99 L539.50,416.11 L540.00,416.22 L540.50,416.33 L541.00,416.43 L541.50,416.54 L542.00,416.64 L542.50,416.74 L543.00,416.84 L543.50,416.93 L544.00,417.03 L544.50,417.12 L545.00,417.20 L545.50,417.29 L546.00,417.36 L546.50,417.44 L547.00,417.51 L547.50,417.58 L548.00,417.64 L548.50,417.70 L549.00,417.76 L549.50,417.81 L550.00,417.86 L550.50,417.91 L551.00,417.96 L551.50,418.00 L552.00,418.05 L552.50,418.09 L553.00,418.13 L553.50,418.17 L554.00,418.21 L554.50,418.25 L555.00,418.28 L555.50,418.32 L556.00,418.36 L556.50,418.39 L557.00,418.43 L557.50,418.47 L558.00,418.50 L558.50,418.54 L559.00,418.58 L559.50,418.61 L560.00,418.65 L560.50,418.69 L561.00,418.73 L561.50,418.76 L562.00,418.80 L562.50,418.84 L563.00,418.88 L563.50,418.92 L564.00,418.95 L564.50,418.99 L565.00,419.03 L565.50,419.06 L566.00,419.10 L566.50,419.13 L567.00,419.17 L567.50,419.20 L568.00,419.23 L568.50,419.26 L569.00,419.29 L569.50,419.32 L570.00,419.34 L570.50,419.37 L571.00,419.39 L571.50,419.42 L572.00,419.44 L572.50,419.46 L573.00,419.48 L573.50,419.49 L574.00,419.51 L574.50,419.53 L575.00,419.54 L575.50,419.56 L576.00,419.57 L576.50,419.59 L577.00,419.60 L577.50,419.61 L578.00,419.63 L578.50,419.64 L579.00,419.65 L579.50,419.66 L580.00,419.68 L580.50,419.69 L581.00,419.70 L581.50,419.71 L582.00,419.73 L582.50,419.74 L583.00,419.75 L583.50,419.76 L584.00,419.78 L584.50,419.79 L585.00,419.80 L585.50,419.82 L586.00,419.83 L586.50,419.84 L587.00,419.86 L587.50,419.87 L588.00,419.88 L588.50,419.90 L589.00,419.91 L589.50,419.92 L590.00,419.94 L590.50,419.95 L591.00,419.96 L591.50,419.98 L592.00,419.99 L592.50,420.00 L593.00,420.02 L593.50,420.03 L594.00,420.04 L594.50,420.06 L595.00,420.07 L595.50,420.08 L596.00,420.10 L596.50,420.11 L597.00,420.12 L597.50,420.13 L598.00,420.14 L598.50,420.15 L599.00,420.16 L599.50,420.17 L600.00,420.18 L600.50,420.19 L601.00,420.20 L601.50,420.20 L602.00,420.21 L602.50,420.22 L603.00,420.22 L603.50,420.23 L604.00,420.23 L604.50,420.24 L605.00,420.24 L605.50,420.25 L606.00,420.25 L606.50,420.25 L607.00,420.26 L607.50,420.26 L608.00,420.27 L608.50,420.27 L609.00,420.27 L609.50,420.28 L610.00,420.28 L610.50,420.28 L611.00,420.29 L611.50,420.29 L612.00,420.29 L612.50,420.30 L613.00,420.30 L613.50,420.30 L614.00,420.31 L614.50,420.31 L615.00,420.31 L615.50,420.32 L616.00,420.32 L616.50,420.33 L617.00,420.33 L617.50,420.33 L618.00,420.34 L618.50,420.34 L619.00,420.34 L619.50,420.35 L620.00,420.35 L620.50,420.36 L621.00,420.36 L621.50,420.36 L622.00,420.37 L622.50,420.37 L623.00,420.37 L623.50,420.38 L624.00,420.38 L624.50,420.39 L625.00,420.39 L625.50,420.39 L626.00,420.40 L626.50,420.40 L627.00,420.40 L627.50,420.41 L628.00,420.41 L628.50,420.42 L629.00,420.42 L629.50,420.42 L630.00,420.43 L630.50,420.43 L631.00,420.44 L631.50,420.44 L632.00,420.44 L632.50,420.45 L633.00,420.45 L633.50,420.45 L634.00,420.46 L634.50,420.46 L635.00,420.47 L635.50,420.47 L636.00,420.47 L636.50,420.48 L637.00,420.48 L637.50,420.48 L638.00,420.49 L638.50,420.49 L639.00,420.50 L639.50,420.50" fill="none" stroke="#d8b95c" stroke-width="1.3" stroke-linejoin="round"/>
<path d="M395.50,1000.00 L396.60,-600.00 L397.60,-600.00 L398.60,385.00 L399.60,-600.00 L400.40,-600.00 L401.60,1000.00 L402.30,1000.00 L403.60,326.00 L405.00,1000.00 L406.00,1000.00 L408.60,321.20 L410.60,395.00 L412.20,334.60 L413.60,387.60 L415.20,348.90 L418.10,386.00 L421.90,354.00 L424.80,386.00 L427.80,362.00 L430.80,383.00 L433.80,367.00 L436.80,378.00 L439.70,368.30 L442.70,373.50 L445.70,368.30 L448.70,372.00 L451.60,369.00 L454.60,372.00 L457.60,369.80 L460.60,371.30 L462.80,370.50 L462.80,370.61 L463.30,370.67 L463.80,370.73 L464.30,370.78 L464.80,370.84 L465.30,370.90 L465.80,370.95 L466.30,371.01 L466.80,371.06 L467.30,371.10 L467.80,371.15 L468.30,371.19 L468.80,371.22 L469.30,371.26 L469.80,371.29 L470.30,371.31 L470.80,371.34 L471.30,371.36 L471.80,371.38 L472.30,371.39 L472.80,371.40 L473.30,371.41 L473.80,371.42 L474.30,371.43 L474.80,371.43 L475.30,371.43 L475.80,371.43 L476.30,371.44 L476.80,371.44 L477.30,371.44 L477.80,371.44 L478.30,371.44 L478.80,371.44 L479.30,371.45 L479.80,371.46 L480.30,371.47 L480.80,371.49 L481.30,371.51 L481.80,371.54 L482.30,371.58 L482.80,371.62 L483.30,371.68 L483.80,371.74 L484.30,371.81 L484.80,371.90 L485.30,371.99 L485.80,372.10 L486.30,372.22 L486.80,372.36 L487.30,372.50 L487.80,372.66 L488.30,372.83 L488.80,373.01 L489.30,373.20 L489.80,373.41 L490.30,373.62 L490.80,373.85 L491.30,374.09 L491.80,374.34 L492.30,374.61 L492.80,374.88 L493.30,375.16 L493.80,375.45 L494.30,375.75 L494.80,376.06 L495.30,376.38 L495.80,376.71 L496.30,377.05 L496.80,377.40 L497.30,377.76 L497.80,378.13 L498.30,378.51 L498.80,378.90 L499.30,379.30 L499.80,379.71 L500.30,380.13 L500.80,380.56 L501.30,381.00 L501.80,381.44 L502.30,381.89 L502.80,382.35 L503.30,382.82 L503.80,383.29 L504.30,383.76 L504.80,384.24 L505.30,384.73 L505.80,385.22 L506.30,385.72 L506.80,386.22 L507.30,386.72 L507.80,387.23 L508.30,387.75 L508.80,388.27 L509.30,388.79 L509.80,389.31 L510.30,389.83 L510.80,390.36 L511.30,390.88 L511.80,391.41 L512.30,391.93 L512.80,392.45 L513.30,392.97 L513.80,393.49 L514.30,394.00 L514.80,394.51 L515.30,395.01 L515.80,395.51 L516.30,396.00 L516.80,396.49 L517.30,396.96 L517.80,397.43 L518.30,397.90 L518.80,398.35 L519.30,398.80 L519.80,399.25 L520.30,399.68 L520.80,400.11 L521.30,400.53 L521.80,400.95 L522.30,401.36 L522.80,401.76 L523.30,402.15 L523.80,402.54 L524.30,402.92 L524.80,403.29 L525.30,403.65 L525.80,404.01 L526.30,404.36 L526.80,404.70 L527.30,405.03 L527.80,405.35 L528.30,405.67 L528.80,405.98 L529.30,406.28 L529.80,406.58 L530.30,406.87 L530.80,407.16 L531.30,407.44 L531.80,407.72 L532.30,407.99 L532.80,408.26 L533.30,408.52 L533.80,408.77 L534.30,409.02 L534.80,409.26 L535.30,409.50 L535.80,409.73 L536.30,409.96 L536.80,410.17 L537.30,410.38 L537.80,410.59 L538.30,410.79 L538.80,410.99 L539.30,411.18 L539.80,411.36 L540.30,411.55 L540.80,411.73 L541.30,411.90 L541.80,412.08 L542.30,412.25 L542.80,412.42 L543.30,412.58 L543.80,412.75 L544.30,412.91 L544.80,413.07 L545.30,413.22 L545.80,413.38 L546.30,413.53 L546.80,413.68 L547.30,413.83 L547.80,413.97 L548.30,414.11 L548.80,414.25 L549.30,414.39 L549.80,414.52 L550.30,414.64 L550.80,414.77 L551.30,414.89 L551.80,415.00 L552.30,415.12 L552.80,415.23 L553.30,415.34 L553.80,415.45 L554.30,415.55 L554.80,415.65 L555.30,415.76 L555.80,415.86 L556.30,415.96 L556.80,416.06 L557.30,416.16 L557.80,416.26 L558.30,416.36 L558.80,416.46 L559.30,416.55 L559.80,416.65 L560.30,416.75 L560.80,416.85 L561.30,416.95 L561.80,417.04 L562.30,417.14 L562.80,417.24 L563.30,417.33 L563.80,417.43 L564.30,417.52 L564.80,417.62 L565.30,417.71 L565.80,417.80 L566.30,417.89 L566.80,417.97 L567.30,418.05 L567.80,418.13 L568.30,418.21 L568.80,418.28 L569.30,418.35 L569.80,418.42 L570.30,418.48 L570.80,418.54 L571.30,418.59 L571.80,418.64 L572.30,418.69 L572.80,418.73 L573.30,418.77 L573.80,418.81 L574.30,418.85 L574.80,418.88 L575.30,418.91 L575.80,418.94 L576.30,418.97 L576.80,419.00 L577.30,419.02 L577.80,419.05 L578.30,419.08 L578.80,419.10 L579.30,419.13 L579.80,419.15 L580.30,419.17 L580.80,419.20 L581.30,419.22 L581.80,419.25 L582.30,419.27 L582.80,419.30 L583.30,419.32 L583.80,419.35 L584.30,419.37 L584.80,419.40 L585.30,419.42 L585.80,419.45 L586.30,419.47 L586.80,419.50 L587.30,419.53 L587.80,419.55 L588.30,419.58 L588.80,419.61 L589.30,419.64 L589.80,419.66 L590.30,419.69 L590.80,419.72 L591.30,419.74 L591.80,419.77 L592.30,419.80 L592.80,419.83 L593.30,419.85 L593.80,419.88 L594.30,419.91 L594.80,419.93 L595.30,419.96 L595.80,419.98 L596.30,420.00 L596.80,420.03 L597.30,420.05 L597.80,420.07 L598.30,420.09 L598.80,420.11 L599.30,420.13 L599.80,420.15 L600.30,420.16 L600.80,420.18 L601.30,420.19 L601.80,420.20 L602.30,420.21 L602.80,420.22 L603.30,420.23 L603.80,420.24 L604.30,420.25 L604.80,420.26 L605.30,420.26 L605.80,420.27 L606.30,420.27 L606.80,420.28 L607.30,420.29 L607.80,420.29 L608.30,420.29 L608.80,420.30 L609.30,420.30 L609.80,420.31 L610.30,420.31 L610.80,420.32 L611.30,420.32 L611.80,420.32 L612.30,420.33 L612.80,420.33 L613.30,420.34 L613.80,420.34 L614.30,420.35 L614.80,420.35 L615.30,420.36 L615.80,420.36 L616.30,420.37 L616.80,420.37 L617.30,420.38 L617.80,420.38 L618.30,420.39 L618.80,420.39 L619.30,420.40 L619.80,420.40 L620.30,420.41 L620.80,420.41 L621.30,420.42 L621.80,420.42 L622.30,420.43 L622.80,420.43 L623.30,420.44 L623.80,420.44 L624.30,420.45 L624.80,420.45 L625.30,420.46 L625.80,420.46 L626.30,420.47 L626.80,420.47 L627.30,420.48 L627.80,420.48 L628.30,420.49 L628.80,420.49 L629.30,420.50 L629.80,420.50 L630.30,420.51 L630.80,420.51 L631.30,420.52 L631.80,420.52 L632.30,420.53 L632.80,420.53 L633.30,420.54 L633.80,420.54 L634.30,420.55 L634.80,420.55 L635.30,420.56 L635.80,420.56 L636.30,420.57 L636.80,420.57 L637.30,420.58 L637.80,420.58 L638.30,420.59 L638.80,420.59 L639.30,420.60" fill="none" stroke="#5c3e74" stroke-width="1.3" stroke-linejoin="round"/>
<path d="M391.20,1000.00 L392.50,-600.00 L393.80,1000.00 L394.60,1000.00 L395.80,350.00 L396.80,350.00 L398.00,1000.00 L401.60,1000.00 L402.90,289.60 L404.30,1000.00 L405.50,1000.00 L408.50,356.00 L411.40,406.00 L414.40,362.00 L418.90,399.00 L421.00,374.00 L422.60,404.00 L424.90,376.00 L427.80,394.00 L430.70,381.40 L435.30,396.60 L437.10,380.30 L440.30,394.70 L441.60,387.00 L443.00,398.90 L445.10,377.10 L448.80,390.50 L451.50,380.00 L454.10,377.10 L456.90,384.70 L459.50,378.50 L462.80,381.50 L466.00,378.20 L469.00,381.00 L472.00,378.50 L475.00,380.50 L478.00,378.80 L481.00,380.30 L484.00,379.00 L484.00,379.03 L484.50,379.07 L485.00,379.11 L485.50,379.15 L486.00,379.20 L486.50,379.24 L487.00,379.28 L487.50,379.32 L488.00,379.36 L488.50,379.40 L489.00,379.44 L489.50,379.48 L490.00,379.52 L490.50,379.56 L491.00,379.60 L491.50,379.63 L492.00,379.67 L492.50,379.70 L493.00,379.74 L493.50,379.78 L494.00,379.81 L494.50,379.85 L495.00,379.89 L495.50,379.93 L496.00,379.98 L496.50,380.02 L497.00,380.07 L497.50,380.12 L498.00,380.18 L498.50,380.23 L499.00,380.29 L499.50,380.34 L500.00,380.40 L500.50,380.46 L501.00,380.52 L501.50,380.57 L502.00,380.63 L502.50,380.68 L503.00,380.73 L503.50,380.78 L504.00,380.84 L504.50,380.89 L505.00,380.95 L505.50,381.01 L506.00,381.08 L506.50,381.15 L507.00,381.23 L507.50,381.31 L508.00,381.39 L508.50,381.48 L509.00,381.57 L509.50,381.67 L510.00,381.77 L510.50,381.87 L511.00,381.97 L511.50,382.08 L512.00,382.19 L512.50,382.30 L513.00,382.42 L513.50,382.54 L514.00,382.66 L514.50,382.78 L515.00,382.90 L515.50,383.03 L516.00,383.17 L516.50,383.30 L517.00,383.44 L517.50,383.59 L518.00,383.74 L518.50,383.89 L519.00,384.05 L519.50,384.22 L520.00,384.39 L520.50,384.57 L521.00,384.75 L521.50,384.95 L522.00,385.14 L522.50,385.35 L523.00,385.56 L523.50,385.77 L524.00,386.00 L524.50,386.22 L525.00,386.45 L525.50,386.68 L526.00,386.92 L526.50,387.16 L527.00,387.41 L527.50,387.65 L528.00,387.90 L528.50,388.16 L529.00,388.41 L529.50,388.68 L530.00,388.94 L530.50,389.21 L531.00,389.48 L531.50,389.75 L532.00,390.03 L532.50,390.32 L533.00,390.60 L533.50,390.90 L534.00,391.20 L534.50,391.50 L535.00,391.81 L535.50,392.13 L536.00,392.45 L536.50,392.78 L537.00,393.12 L537.50,393.46 L538.00,393.81 L538.50,394.16 L539.00,394.52 L539.50,394.88 L540.00,395.24 L540.50,395.61 L541.00,395.98 L541.50,396.35 L542.00,396.72 L542.50,397.10 L543.00,397.48 L543.50,397.85 L544.00,398.23 L544.50,398.61 L545.00,398.99 L545.50,399.37 L546.00,399.74 L546.50,400.12 L547.00,400.49 L547.50,400.87 L548.00,401.24 L548.50,401.61 L549.00,401.97 L549.50,402.34 L550.00,402.70 L550.50,403.05 L551.00,403.40 L551.50,403.75 L552.00,404.10 L552.50,404.44 L553.00,404.77 L553.50,405.11 L554.00,405.43 L554.50,405.76 L555.00,406.08 L555.50,406.39 L556.00,406.71 L556.50,407.01 L557.00,407.31 L557.50,407.61 L558.00,407.90 L558.50,408.19 L559.00,408.47 L559.50,408.75 L560.00,409.02 L560.50,409.29 L561.00,409.55 L561.50,409.81 L562.00,410.07 L562.50,410.32 L563.00,410.57 L563.50,410.81 L564.00,411.05 L564.50,411.29 L565.00,411.52 L565.50,411.75 L566.00,411.97 L566.50,412.20 L567.00,412.41 L567.50,412.63 L568.00,412.84 L568.50,413.04 L569.00,413.24 L569.50,413.44 L570.00,413.64 L570.50,413.83 L571.00,414.01 L571.50,414.20 L572.00,414.38 L572.50,414.55 L573.00,414.72 L573.50,414.88 L574.00,415.04 L574.50,415.20 L575.00,415.35 L575.50,415.49 L576.00,415.64 L576.50,415.77 L577.00,415.91 L577.50,416.04 L578.00,416.16 L578.50,416.29 L579.00,416.41 L579.50,416.52 L580.00,416.63 L580.50,416.74 L581.00,416.84 L581.50,416.94 L582.00,417.04 L582.50,417.13 L583.00,417.22 L583.50,417.30 L584.00,417.38 L584.50,417.47 L585.00,417.54 L585.50,417.62 L586.00,417.69 L586.50,417.77 L587.00,417.84 L587.50,417.90 L588.00,417.97 L588.50,418.04 L589.00,418.10 L589.50,418.16 L590.00,418.22 L590.50,418.28 L591.00,418.34 L591.50,418.39 L592.00,418.44 L592.50,418.49 L593.00,418.54 L593.50,418.59 L594.00,418.63 L594.50,418.68 L595.00,418.72 L595.50,418.76 L596.00,418.80 L596.50,418.84 L597.00,418.88 L597.50,418.92 L598.00,418.95 L598.50,418.99 L599.00,419.02 L599.50,419.06 L600.00,419.09 L600.50,419.13 L601.00,419.16 L601.50,419.19 L602.00,419.23 L602.50,419.26 L603.00,419.29 L603.50,419.32 L604.00,419.35 L604.50,419.38 L605.00,419.41 L605.50,419.44 L606.00,419.47 L606.50,419.50 L607.00,419.52 L607.50,419.55 L608.00,419.58 L608.50,419.60 L609.00,419.62 L609.50,419.65 L610.00,419.67 L610.50,419.70 L611.00,419.72 L611.50,419.74 L612.00,419.76 L612.50,419.78 L613.00,419.81 L613.50,419.83 L614.00,419.85 L614.50,419.87 L615.00,419.89 L615.50,419.91 L616.00,419.93 L616.50,419.95 L617.00,419.97 L617.50,419.99 L618.00,420.01 L618.50,420.03 L619.00,420.05 L619.50,420.07 L620.00,420.09 L620.50,420.11 L621.00,420.13 L621.50,420.15 L622.00,420.17 L622.50,420.19 L623.00,420.21 L623.50,420.23 L624.00,420.24 L624.50,420.26 L625.00,420.28 L625.50,420.30 L626.00,420.32 L626.50,420.33 L627.00,420.35 L627.50,420.37 L628.00,420.39 L628.50,420.41 L629.00,420.42 L629.50,420.44 L630.00,420.46 L630.50,420.48 L631.00,420.50 L631.50,420.51 L632.00,420.53 L632.50,420.55 L633.00,420.57 L633.50,420.59 L634.00,420.60 L634.50,420.62 L635.00,420.64 L635.50,420.66 L636.00,420.67 L636.50,420.69 L637.00,420.71 L637.50,420.73 L638.00,420.75 L638.50,420.76 L639.00,420.78 L639.50,420.80" fill="none" stroke="#819c5e" stroke-width="1.3" stroke-linejoin="round"/></svg>
<text x="385" y="425.05" text-anchor="end" class="tk">0</text>
<text x="385" y="391.97" text-anchor="end" class="tk">0.1</text>
<text x="385" y="358.89" text-anchor="end" class="tk">0.2</text>
<text x="385" y="325.81" text-anchor="end" class="tk">0.3</text>
<text x="385" y="292.73" text-anchor="end" class="tk">0.4</text>
<text x="413.54" y="434.0" text-anchor="middle" class="tk">20</text>
<text x="439.37" y="434.0" text-anchor="middle" class="tk">40</text>
<text x="465.20" y="434.0" text-anchor="middle" class="tk">60</text>
<text x="491.03" y="434.0" text-anchor="middle" class="tk">80</text>
<text x="516.85" y="434.0" text-anchor="middle" class="tk">100</text>
<text x="542.68" y="434.0" text-anchor="middle" class="tk">120</text>
<text x="568.51" y="434.0" text-anchor="middle" class="tk">140</text>
<text x="594.34" y="434.0" text-anchor="middle" class="tk">160</text>
<text x="620.17" y="434.0" text-anchor="middle" class="tk">180</text>
<text x="646.00" y="434.0" text-anchor="middle" class="tk">200</text>
<text x="517.5" y="446.1" text-anchor="middle" class="lb">Days</text>
<text x="517.5" y="251.90000000000003" text-anchor="middle" class="lb">(d)</text>
<text transform="translate(356.5,339.3) rotate(-90)" text-anchor="middle" class="lb">Growth rate</text>
<text transform="translate(369,339.3) rotate(-90)" text-anchor="middle" class="lb">in cumulative incidence</text>
<rect x="536" y="265" width="101.5" height="68.5" fill="#fff" stroke="#262626" stroke-width="1"/>
<line x1="539" y1="273.30" x2="565" y2="273.30" stroke="#2d6c94" stroke-width="1.5"/>
<text x="567.5" y="276.20" class="tk" style="font-size:7.7px;stroke-width:0.3px">κ=3.33, R<tspan font-size="6" dy="3">0</tspan><tspan dy="-3">=</tspan>2.7878</text>
<line x1="539" y1="286.40" x2="565" y2="286.40" stroke="#ad684c" stroke-width="1.5"/>
<text x="567.5" y="289.30" class="tk" style="font-size:7.7px;stroke-width:0.3px">κ=3, R<tspan font-size="6" dy="3">0</tspan><tspan dy="-3">=</tspan>2.5186</text>
<line x1="539" y1="299.50" x2="565" y2="299.50" stroke="#d8b95c" stroke-width="1.5"/>
<text x="567.5" y="302.40" class="tk" style="font-size:7.7px;stroke-width:0.3px">κ=2.75, R<tspan font-size="6" dy="3">0</tspan><tspan dy="-3">=</tspan>2.2713</text>
<line x1="539" y1="312.60" x2="565" y2="312.60" stroke="#5c3e74" stroke-width="1.5"/>
<text x="567.5" y="315.50" class="tk" style="font-size:7.7px;stroke-width:0.3px">κ=2.5, R<tspan font-size="6" dy="3">0</tspan><tspan dy="-3">=</tspan>2.0350</text>
<line x1="539" y1="325.70" x2="565" y2="325.70" stroke="#819c5e" stroke-width="1.5"/>
<text x="567.5" y="328.60" class="tk" style="font-size:7.7px;stroke-width:0.3px">κ=2, R<tspan font-size="6" dy="3">0</tspan><tspan dy="-3">=</tspan>1.6172</text>
</svg>
</body></html>
